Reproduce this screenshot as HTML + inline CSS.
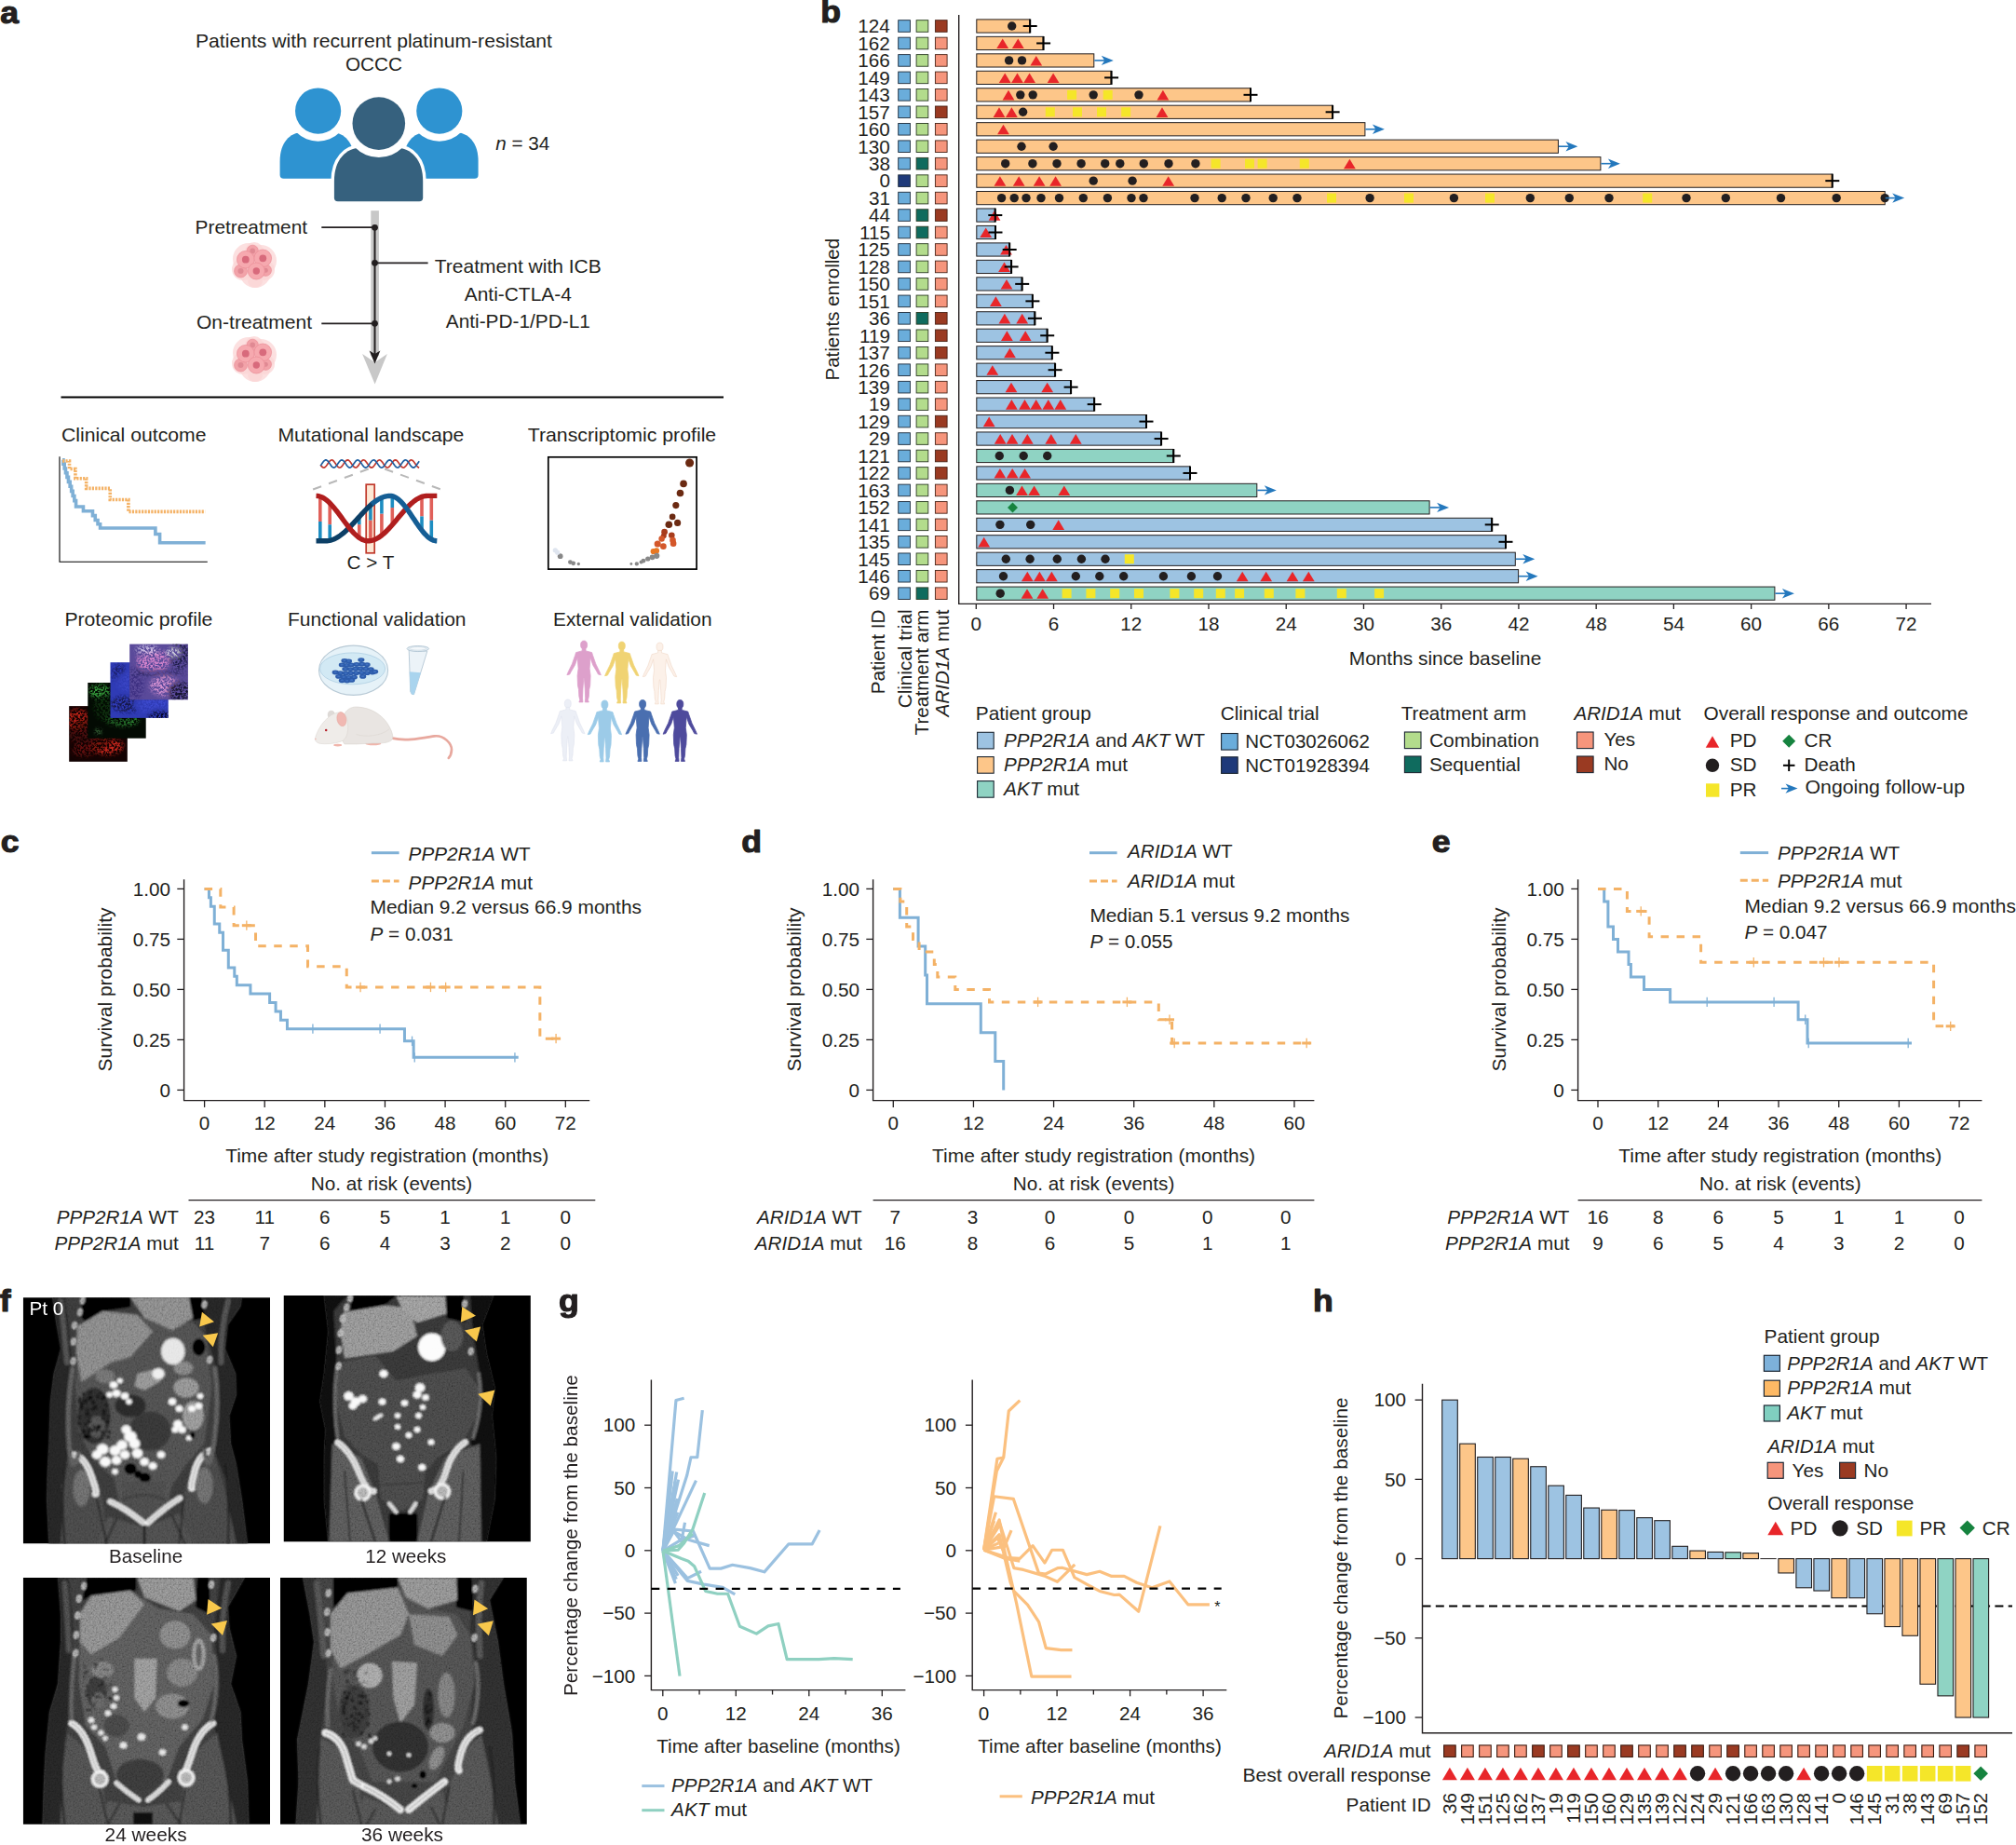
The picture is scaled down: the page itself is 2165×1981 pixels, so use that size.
<!DOCTYPE html>
<html lang="en"><head><meta charset="utf-8"><title>Figure 1</title><style>html,body{margin:0;padding:0;background:#fff}svg{display:block}</style></head><body>
<svg width="2165" height="1981" viewBox="0 0 2165 1981" font-family="'Liberation Sans', Arial, Helvetica, sans-serif" font-size="20.7" fill="#231f20">
<defs><filter id="blur2" x="-20%" y="-20%" width="140%" height="140%"><feGaussianBlur stdDeviation="2.2"/></filter><filter id="speck" x="-20%" y="-20%" width="140%" height="140%"><feGaussianBlur stdDeviation="2" result="b"/><feTurbulence type="fractalNoise" baseFrequency="0.45" numOctaves="2" seed="7" result="n"/><feColorMatrix in="n" type="matrix" values="0 0 0 0 1  0 0 0 0 1  0 0 0 0 1  4.5 0 0 0 -1.75" result="m"/><feComposite in="b" in2="m" operator="in"/></filter><filter id="blur1" x="-10%" y="-10%" width="120%" height="120%"><feGaussianBlur stdDeviation="1.1"/></filter><filter id="blur05"><feGaussianBlur stdDeviation="0.6"/></filter></defs>
<rect x="0" y="0" width="2165" height="1981" fill="#fff"/>
<g id="panel-a">
<text x="0.2" y="24.8" font-size="33" font-weight="bold" textLength="19.82" lengthAdjust="spacingAndGlyphs" stroke="#231f20" stroke-width="1.1" stroke-linejoin="round">a</text>
<text x="401.5" y="51" text-anchor="middle" textLength="383" lengthAdjust="spacingAndGlyphs">Patients with recurrent platinum-resistant</text>
<text x="401.5" y="75.5" text-anchor="middle">OCCC</text>
<path d="M304.6 191.8 L376.4 191.8 Q380.4 191.8 380.4 187.8 L380.4 172.95 C380.4 152.96 369.63 142.2 356.46 142.2 L324.54 142.2 C311.37 142.2 300.6 152.96 300.6 172.95 L300.6 187.8 Q300.6 191.8 304.6 191.8 Z" fill="#2e93d1"/>
<circle cx="341.6" cy="119.1" r="32.6" fill="#fff"/>
<circle cx="341.6" cy="119.1" r="24.6" fill="#2e93d1"/>
<path d="M437.5 191.8 L509.6 191.8 Q513.6 191.8 513.6 187.8 L513.6 172.95 C513.6 152.96 502.79 142.2 489.57 142.2 L457.53 142.2 C444.31 142.2 433.5 152.96 433.5 172.95 L433.5 187.8 Q433.5 191.8 437.5 191.8 Z" fill="#2e93d1"/>
<circle cx="471.8" cy="119.1" r="32.6" fill="#fff"/>
<circle cx="471.8" cy="119.1" r="24.6" fill="#2e93d1"/>
<path d="M362.9 216.3 L450.2 216.3 Q454.2 216.3 454.2 212.3 L454.2 194.45 C454.2 171.28 441.33 158.8 425.61 158.8 L387.49 158.8 C371.77 158.8 358.9 171.28 358.9 194.45 L358.9 212.3 Q358.9 216.3 362.9 216.3 Z" fill="#fff" stroke="#fff" stroke-width="7" stroke-linejoin="round"/>
<path d="M362.9 216.3 L450.2 216.3 Q454.2 216.3 454.2 212.3 L454.2 194.45 C454.2 171.28 441.33 158.8 425.61 158.8 L387.49 158.8 C371.77 158.8 358.9 171.28 358.9 194.45 L358.9 212.3 Q358.9 216.3 362.9 216.3 Z" fill="#36617e"/>
<circle cx="406.8" cy="132.6" r="36.3" fill="#fff"/>
<circle cx="406.8" cy="132.6" r="28.3" fill="#36617e"/>
<text x="532.2" y="160.6"><tspan font-style="italic">n</tspan> = 34</text>
<rect x="398.3" y="226.2" width="8.6" height="156" fill="#c8c8c8"/>
<path d="M389.1 380 L402.6 389 L415.9 380 L402.6 412.5 Z" fill="#c8c8c8"/>
<line x1="402.5" y1="244" x2="402.5" y2="380" stroke="#231f20" stroke-width="2"/>
<path d="M396.6 376.6 L402.5 380 L408.4 376.6 L402.5 390.5 Z" fill="#231f20"/>
<circle cx="402.5" cy="244.3" r="3.4" fill="#231f20"/>
<circle cx="402.5" cy="282.3" r="3.4" fill="#231f20"/>
<circle cx="402.5" cy="347.3" r="3.4" fill="#231f20"/>
<line x1="345.3" y1="244.1" x2="402.5" y2="244.1" stroke="#231f20" stroke-width="1.8"/>
<line x1="402.5" y1="282.3" x2="459.6" y2="282.3" stroke="#231f20" stroke-width="1.8"/>
<line x1="345.3" y1="347.3" x2="402.5" y2="347.3" stroke="#231f20" stroke-width="1.8"/>
<text x="209.6" y="250.8" textLength="120.5" lengthAdjust="spacingAndGlyphs">Pretreatment</text>
<text x="211" y="352.6" textLength="124" lengthAdjust="spacingAndGlyphs">On-treatment</text>
<text x="556.3" y="293" text-anchor="middle" textLength="179" lengthAdjust="spacingAndGlyphs">Treatment with ICB</text>
<text x="556.3" y="323.3" text-anchor="middle" textLength="115" lengthAdjust="spacingAndGlyphs">Anti-CTLA-4</text>
<text x="556.3" y="352" text-anchor="middle" textLength="155" lengthAdjust="spacingAndGlyphs">Anti-PD-1/PD-L1</text>
<g transform="translate(273 284)">
<circle cx="-6" cy="-6" r="17" fill="#fbd5d6" opacity="0.75"/>
<circle cx="7" cy="-4" r="17" fill="#fbd5d6" opacity="0.75"/>
<circle cx="1" cy="8" r="17" fill="#fbd5d6" opacity="0.75"/>
<circle cx="-12" cy="5" r="12" fill="#fbd5d6" opacity="0.75"/>
<circle cx="11" cy="6" r="11" fill="#fbd5d6" opacity="0.75"/>
<circle cx="0" cy="-14" r="10" fill="#fbd5d6" opacity="0.75"/>
<circle cx="1" cy="17" r="8" fill="#fbd5d6" opacity="0.75"/>
<circle cx="-14.5" cy="7" r="7" fill="#f2a3a9" stroke="#ea8c96" stroke-width="0.6"/>
<circle cx="-14.5" cy="7" r="3" fill="#e08993"/>
<circle cx="12.3" cy="6.2" r="6.2" fill="#f2a3a9" stroke="#ea8c96" stroke-width="0.6"/>
<circle cx="12.3" cy="6.2" r="2.5" fill="#e08993"/>
<circle cx="-1.8" cy="-14.6" r="6.2" fill="#f2a3a9" stroke="#ea8c96" stroke-width="0.6"/>
<circle cx="-1.8" cy="-14.6" r="2.8" fill="#e08993"/>
<circle cx="-9.2" cy="-5.3" r="9.3" fill="#f6a9af" stroke="#ea8c96" stroke-width="0.7"/>
<circle cx="-9.2" cy="-5.3" r="3.9" fill="#d86a7c"/>
<circle cx="9.3" cy="-6.7" r="9.3" fill="#f6a9af" stroke="#ea8c96" stroke-width="0.7"/>
<circle cx="9.3" cy="-6.7" r="3.9" fill="#d86a7c"/>
<circle cx="2.3" cy="7" r="9" fill="#f6a9af" stroke="#ea8c96" stroke-width="0.7"/>
<circle cx="2.3" cy="7" r="3.7" fill="#d86a7c"/>
</g>
<g transform="translate(273 385)">
<circle cx="-6" cy="-6" r="17" fill="#fbd5d6" opacity="0.75"/>
<circle cx="7" cy="-4" r="17" fill="#fbd5d6" opacity="0.75"/>
<circle cx="1" cy="8" r="17" fill="#fbd5d6" opacity="0.75"/>
<circle cx="-12" cy="5" r="12" fill="#fbd5d6" opacity="0.75"/>
<circle cx="11" cy="6" r="11" fill="#fbd5d6" opacity="0.75"/>
<circle cx="0" cy="-14" r="10" fill="#fbd5d6" opacity="0.75"/>
<circle cx="1" cy="17" r="8" fill="#fbd5d6" opacity="0.75"/>
<circle cx="-14.5" cy="7" r="7" fill="#f2a3a9" stroke="#ea8c96" stroke-width="0.6"/>
<circle cx="-14.5" cy="7" r="3" fill="#e08993"/>
<circle cx="12.3" cy="6.2" r="6.2" fill="#f2a3a9" stroke="#ea8c96" stroke-width="0.6"/>
<circle cx="12.3" cy="6.2" r="2.5" fill="#e08993"/>
<circle cx="-1.8" cy="-14.6" r="6.2" fill="#f2a3a9" stroke="#ea8c96" stroke-width="0.6"/>
<circle cx="-1.8" cy="-14.6" r="2.8" fill="#e08993"/>
<circle cx="-9.2" cy="-5.3" r="9.3" fill="#f6a9af" stroke="#ea8c96" stroke-width="0.7"/>
<circle cx="-9.2" cy="-5.3" r="3.9" fill="#d86a7c"/>
<circle cx="9.3" cy="-6.7" r="9.3" fill="#f6a9af" stroke="#ea8c96" stroke-width="0.7"/>
<circle cx="9.3" cy="-6.7" r="3.9" fill="#d86a7c"/>
<circle cx="2.3" cy="7" r="9" fill="#f6a9af" stroke="#ea8c96" stroke-width="0.7"/>
<circle cx="2.3" cy="7" r="3.7" fill="#d86a7c"/>
</g>
<line x1="65.5" y1="426.5" x2="777" y2="426.5" stroke="#000" stroke-width="2.2"/>
<text x="66" y="473.6" textLength="155.5" lengthAdjust="spacingAndGlyphs">Clinical outcome</text>
<text x="298.4" y="473.6" textLength="200" lengthAdjust="spacingAndGlyphs">Mutational landscape</text>
<text x="566.7" y="473.6" textLength="202.5" lengthAdjust="spacingAndGlyphs">Transcriptomic profile</text>
<text x="69.4" y="672" textLength="159" lengthAdjust="spacingAndGlyphs">Proteomic profile</text>
<text x="309" y="672" textLength="191.5" lengthAdjust="spacingAndGlyphs">Functional validation</text>
<text x="594" y="672" textLength="170.5" lengthAdjust="spacingAndGlyphs">External validation</text>
<path d="M64 490.2 L64 603.3 L222.8 603.3" fill="none" stroke="#000" stroke-width="1.1"/>
<path d="M67.06 493.87 L67.92 493.87 L67.92 498.13 L69.2 498.13 L69.2 503.04 L70.48 503.04 L70.48 507.73 L71.97 507.73 L71.97 512.42 L73.46 512.42 L73.46 517.33 L75.17 517.33 L75.17 522.24 L76.66 522.24 L76.66 527.35 L78.16 527.35 L78.16 532.47 L79.86 532.47 L79.86 537.59 L81.57 537.59 L81.57 543.99 L89.46 543.99 L89.46 548.69 L99.49 548.69 L99.49 553.59 L102.26 553.59 L102.26 558.5 L105.03 558.5 L105.03 562.76 L107.59 562.76 L107.59 567.03 L166.89 567.03 L166.89 573.43 L171.59 573.43 L171.59 582.82 L220.65 582.82" fill="none" stroke="#7fb0d6" stroke-width="3.6" stroke-linejoin="miter"/>
<path d="M67.06 494.93 L74.53 494.93 L74.53 503.46 L80.93 503.46 L80.93 513.7 L92.66 513.7 L92.66 524.37 L118.26 524.37 L118.26 536.53 L137.88 536.53 L137.88 549.33 L220.22 549.33" fill="none" stroke="#f4b266" stroke-width="3.6" stroke-dasharray="2.2 1.2"/>
<path d="M344.2 499.21 L345.08 500.4 L345.97 501.33 L346.85 501.92 L347.73 502.1 L348.62 501.85 L349.5 501.2 L350.38 500.21 L351.27 498.99 L352.15 497.67 L353.03 496.39 L353.92 495.27 L354.8 494.44 L355.68 493.98 L356.57 493.94 L357.45 494.32 L358.33 495.09 L359.22 496.16 L360.1 497.43 L360.98 498.75 L361.87 500 L362.75 501.04 L363.63 501.76 L364.52 502.08 L365.4 501.99 L366.28 501.47 L367.17 500.59 L368.05 499.44 L368.93 498.14 L369.82 496.83 L370.7 495.64 L371.58 494.69 L372.47 494.09 L373.35 493.9 L374.23 494.14 L375.12 494.78 L376 495.75 L376.88 496.97 L377.77 498.29 L378.65 499.57 L379.53 500.7 L380.42 501.54 L381.3 502.02 L382.18 502.07 L383.07 501.7 L383.95 500.94 L384.83 499.87 L385.72 498.61 L386.6 497.29 L387.48 496.04 L388.37 494.99 L389.25 494.26 L390.13 493.92 L391.02 494 L391.9 494.51 L392.78 495.37 L393.67 496.52 L394.55 497.81 L395.43 499.13 L396.32 500.33 L397.2 501.28 L398.08 501.89 L398.97 502.1 L399.85 501.88 L400.73 501.25 L401.62 500.28 L402.5 499.08 L403.38 497.76 L404.27 496.46 L405.15 495.33 L406.03 494.48 L406.92 493.99 L407.8 493.93 L408.68 494.28 L409.57 495.03 L410.45 496.09 L411.33 497.34 L412.22 498.67 L413.1 499.92 L413.98 500.98 L414.87 501.72 L415.75 502.08 L416.63 502 L417.52 501.51 L418.4 500.66 L419.28 499.52 L420.17 498.23 L421.05 496.91 L421.93 495.71 L422.82 494.74 L423.7 494.12 L424.58 493.9 L425.47 494.11 L426.35 494.73 L427.23 495.68 L428.12 496.88 L429 498.2 L429.88 499.5 L430.77 500.63 L431.65 501.5 L432.53 502 L433.42 502.08 L434.3 501.73 L435.18 501 L436.07 499.95 L436.95 498.7 L437.83 497.37 L438.72 496.11 L439.6 495.05 L440.48 494.3 L441.37 493.93 L442.25 493.99 L443.13 494.46 L444.02 495.31 L444.9 496.44 L445.78 497.73 L446.67 499.05 L447.55 500.26 L448.43 501.23 L449.32 501.87 L450.2 502.1" fill="none" stroke="#c23a30" stroke-width="1.7"/>
<path d="M344.2 500.11 L345.08 498.88 L345.97 497.56 L346.85 496.28 L347.73 495.18 L348.62 494.38 L349.5 493.96 L350.38 493.95 L351.27 494.37 L352.15 495.17 L353.03 496.27 L353.92 497.54 L354.8 498.86 L355.68 500.1 L356.57 501.11 L357.45 501.8 L358.33 502.09 L359.22 501.96 L360.1 501.41 L360.98 500.5 L361.87 499.34 L362.75 498.03 L363.63 496.72 L364.52 495.55 L365.4 494.63 L366.28 494.06 L367.17 493.9 L368.05 494.18 L368.93 494.85 L369.82 495.85 L370.7 497.08 L371.58 498.4 L372.47 499.68 L373.35 500.78 L374.23 501.6 L375.12 502.04 L376 502.05 L376.88 501.65 L377.77 500.86 L378.65 499.77 L379.53 498.5 L380.42 497.18 L381.3 495.94 L382.18 494.92 L383.07 494.22 L383.95 493.91 L384.83 494.03 L385.72 494.57 L386.6 495.46 L387.48 496.62 L388.37 497.93 L389.25 499.24 L390.13 500.42 L391.02 501.35 L391.9 501.93 L392.78 502.1 L393.67 501.84 L394.55 501.18 L395.43 500.19 L396.32 498.97 L397.2 497.64 L398.08 496.36 L398.97 495.25 L399.85 494.42 L400.73 493.97 L401.62 493.94 L402.5 494.33 L403.38 495.11 L404.27 496.19 L405.15 497.46 L406.03 498.78 L406.92 500.02 L407.8 501.05 L408.68 501.77 L409.57 502.09 L410.45 501.98 L411.33 501.46 L412.22 500.57 L413.1 499.42 L413.98 498.12 L414.87 496.8 L415.75 495.62 L416.63 494.68 L417.52 494.08 L418.4 493.9 L419.28 494.15 L420.17 494.79 L421.05 495.78 L421.93 496.99 L422.82 498.31 L423.7 499.6 L424.58 500.72 L425.47 501.56 L426.35 502.02 L427.23 502.07 L428.12 501.69 L429 500.92 L429.88 499.85 L430.77 498.59 L431.65 497.26 L432.53 496.01 L433.42 494.97 L434.3 494.25 L435.18 493.92 L436.07 494.01 L436.95 494.52 L437.83 495.4 L438.72 496.54 L439.6 497.84 L440.48 499.16 L441.37 500.35 L442.25 501.3 L443.13 501.9 L444.02 502.1 L444.9 501.87 L445.78 501.23 L446.67 500.26 L447.55 499.05 L448.43 497.73 L449.32 496.44 L450.2 495.31" fill="none" stroke="#1f5fa0" stroke-width="1.7"/>
<line x1="395.7" y1="503.5" x2="332.4" y2="526.9" stroke="#b8b8b8" stroke-width="2" stroke-dasharray="9.5 8.5"/>
<line x1="413.1" y1="503.5" x2="477.5" y2="526.9" stroke="#b8b8b8" stroke-width="2" stroke-dasharray="9.5 8.5"/>
<rect x="393.2" y="520.2" width="9" height="73.6" fill="#fde8d5" stroke="#c0392b" stroke-width="1.7"/>
<line x1="343.8" y1="533.11" x2="343.8" y2="559.95" stroke="#e0605a" stroke-width="3.6"/>
<line x1="343.8" y1="559.95" x2="343.8" y2="580.8" stroke="#1d8dc1" stroke-width="3.6"/>
<line x1="354.2" y1="540.22" x2="354.2" y2="563.28" stroke="#e0605a" stroke-width="3.6"/>
<line x1="354.2" y1="563.28" x2="354.2" y2="580.33" stroke="#1d8dc1" stroke-width="3.6"/>
<line x1="385.8" y1="577.41" x2="385.8" y2="563.17" stroke="#e0605a" stroke-width="3.6"/>
<line x1="385.8" y1="563.17" x2="385.8" y2="554.92" stroke="#1d8dc1" stroke-width="3.6"/>
<line x1="397.9" y1="580.6" x2="397.9" y2="558.55" stroke="#e0605a" stroke-width="3.6"/>
<line x1="397.9" y1="558.55" x2="397.9" y2="542.5" stroke="#1d8dc1" stroke-width="3.6"/>
<line x1="409.9" y1="574.79" x2="409.9" y2="551.55" stroke="#e0605a" stroke-width="3.6"/>
<line x1="409.9" y1="551.55" x2="409.9" y2="534.32" stroke="#1d8dc1" stroke-width="3.6"/>
<line x1="421.3" y1="563.46" x2="421.3" y2="545.09" stroke="#e0605a" stroke-width="3.6"/>
<line x1="421.3" y1="545.09" x2="421.3" y2="532.72" stroke="#1d8dc1" stroke-width="3.6"/>
<line x1="453" y1="533.43" x2="453" y2="554.43" stroke="#e0605a" stroke-width="3.6"/>
<line x1="453" y1="554.43" x2="453" y2="569.44" stroke="#1d8dc1" stroke-width="3.6"/>
<line x1="463.3" y1="532.4" x2="463.3" y2="558.77" stroke="#e0605a" stroke-width="3.6"/>
<line x1="463.3" y1="558.77" x2="463.3" y2="579.14" stroke="#1d8dc1" stroke-width="3.6"/>
<path d="M339.5 580.8 L340.8 580.8 L342.1 580.8 L343.39 580.8 L344.69 580.8 L345.99 580.8 L347.29 580.8 L348.59 580.8 L349.88 580.8 L351.18 580.76 L352.48 580.63 L353.78 580.42 L355.08 580.12 L356.37 579.74 L357.67 579.29 L358.97 578.75 L360.27 578.13 L361.57 577.44 L362.86 576.67 L364.16 575.84 L365.46 574.93 L366.76 573.96 L368.06 572.93 L369.35 571.85 L370.65 570.71 L371.95 569.52 L373.25 568.28 L374.55 567.01 L375.84 565.7 L377.14 564.35 L378.44 562.98 L379.74 561.58 L381.04 560.17 L382.33 558.75 L383.63 557.32 L384.93 555.88 L386.23 554.45 L387.53 553.03 L388.82 551.62 L390.12 550.22 L391.42 548.85 L392.72 547.5 L394.02 546.19 L395.31 544.92 L396.61 543.68 L397.91 542.49 L399.21 541.35 L400.51 540.27" fill="none" stroke="#0c3f66" stroke-width="5.4"/>
<path d="M339.5 532.4 L340.8 532.46 L342.1 532.66 L343.39 532.98 L344.69 533.43 L345.99 534 L347.29 534.69 L348.59 535.5 L349.88 536.42 L351.18 537.45 L352.48 538.58 L353.78 539.8 L355.08 541.12 L356.37 542.52 L357.67 543.99 L358.97 545.53 L360.27 547.14 L361.57 548.79 L362.86 550.48 L364.16 552.2 L365.46 553.95 L366.76 555.72 L368.06 557.48 L369.35 559.25 L370.65 561 L371.95 562.72 L373.25 564.41 L374.55 566.06 L375.84 567.67 L377.14 569.21 L378.44 570.68 L379.74 572.08 L381.04 573.4 L382.33 574.62 L383.63 575.75 L384.93 576.78 L386.23 577.7 L387.53 578.51 L388.82 579.2 L390.12 579.77 L391.42 580.22 L392.72 580.54 L394.02 580.74 L395.31 580.8 L396.61 580.75 L397.91 580.6 L399.21 580.35 L400.51 580.01 L401.8 579.57 L403.1 579.03 L404.4 578.4 L405.7 577.69 L407 576.88 L408.29 575.99 L409.59 575.03 L410.89 573.98 L412.19 572.87 L413.49 571.69 L414.78 570.45 L416.08 569.15 L417.38 567.79 L418.68 566.4 L419.98 564.96 L421.27 563.49 L422.57 561.99 L423.87 560.46 L425.17 558.92 L426.47 557.38 L427.76 555.82 L429.06 554.28 L430.36 552.74 L431.66 551.21 L432.96 549.71 L434.25 548.24 L435.55 546.8 L436.85 545.41 L438.15 544.05 L439.45 542.75 L440.74 541.51 L442.04 540.33 L443.34 539.22 L444.64 538.17 L445.94 537.21 L447.23 536.32 L448.53 535.51 L449.83 534.8 L451.13 534.17 L452.43 533.63 L453.72 533.19 L455.02 532.85 L456.32 532.6 L457.62 532.45 L458.92 532.4 L460.21 532.4 L461.51 532.4 L462.81 532.4 L464.11 532.4 L465.41 532.4 L466.7 532.4 L468 532.4 L469.3 532.4" fill="none" stroke="#b01e1e" stroke-width="5.4"/>
<path d="M399.21 541.35 L400.51 540.27 L401.8 539.24 L403.1 538.27 L404.4 537.36 L405.7 536.53 L407 535.76 L408.29 535.07 L409.59 534.45 L410.89 533.91 L412.19 533.46 L413.49 533.08 L414.78 532.78 L416.08 532.57 L417.38 532.44 L418.68 532.4 L419.98 532.48 L421.27 532.71 L422.57 533.1 L423.87 533.65 L425.17 534.34 L426.47 535.17 L427.76 536.15 L429.06 537.25 L430.36 538.49 L431.66 539.84 L432.96 541.29 L434.25 542.85 L435.55 544.5 L436.85 546.23 L438.15 548.02 L439.45 549.87 L440.74 551.76 L442.04 553.68 L443.34 555.63 L444.64 557.57 L445.94 559.52 L447.23 561.44 L448.53 563.33 L449.83 565.18 L451.13 566.97 L452.43 568.7 L453.72 570.35 L455.02 571.91 L456.32 573.36 L457.62 574.71 L458.92 575.95 L460.21 577.05 L461.51 578.03 L462.81 578.86 L464.11 579.55 L465.41 580.1 L466.7 580.49 L468 580.72 L469.3 580.8" fill="none" stroke="#155e95" stroke-width="5.4"/>
<text x="398" y="611.2" text-anchor="middle">C &gt; T</text>
<rect x="588.8" y="490.8" width="159.3" height="120.3" fill="none" stroke="#000" stroke-width="1.7"/>
<circle cx="740.6" cy="497.02" r="4.52" fill="#6b2a12"/>
<circle cx="734.05" cy="519.4" r="3.81" fill="#6b2a12"/>
<circle cx="730.48" cy="529.52" r="3.81" fill="#6b2a12"/>
<circle cx="725.83" cy="542.62" r="3.57" fill="#6b2a12"/>
<circle cx="722.14" cy="554.88" r="3.33" fill="#6b2a12"/>
<circle cx="727.62" cy="561.43" r="3.57" fill="#6b2a12"/>
<circle cx="718.33" cy="563.21" r="3.81" fill="#6b2a12"/>
<circle cx="713.57" cy="571.19" r="3.33" fill="#a83c1c"/>
<circle cx="712.74" cy="575.36" r="2.98" fill="#a83c1c"/>
<circle cx="721.31" cy="574.76" r="3.33" fill="#a83c1c"/>
<circle cx="710.6" cy="578.57" r="3.21" fill="#d4572a"/>
<circle cx="706.19" cy="584.05" r="3.57" fill="#d4572a"/>
<circle cx="712.38" cy="586.67" r="3.33" fill="#d4572a"/>
<circle cx="722.5" cy="580.12" r="3.33" fill="#d4572a"/>
<circle cx="723.1" cy="583.69" r="3.33" fill="#d4572a"/>
<circle cx="701.67" cy="592.02" r="3.1" fill="#e87722"/>
<circle cx="705" cy="591.43" r="3.1" fill="#e87722"/>
<circle cx="705.24" cy="596.79" r="3.1" fill="#888"/>
<circle cx="700.48" cy="598.33" r="2.86" fill="#888"/>
<circle cx="695.71" cy="600" r="2.62" fill="#888"/>
<circle cx="690.95" cy="602.14" r="2.38" fill="#888"/>
<circle cx="688.57" cy="603.57" r="2.02" fill="#888"/>
<circle cx="683.81" cy="605.48" r="2.14" fill="#888"/>
<circle cx="677.86" cy="605.48" r="1.43" fill="#888"/>
<circle cx="601.67" cy="597.14" r="2.86" fill="#888"/>
<circle cx="612.38" cy="603.57" r="2.38" fill="#888"/>
<circle cx="615.71" cy="604.76" r="2.38" fill="#888"/>
<circle cx="621.31" cy="605.48" r="1.67" fill="#888"/>
<circle cx="596.31" cy="590.83" r="2.62" fill="#dfe5ef"/>
<circle cx="598.69" cy="593.21" r="2.62" fill="#dfe5ef"/>
<g><clipPath id="c742"><rect x="74.2" y="758.1" width="62.6" height="59.7"/></clipPath>
<rect x="74.2" y="758.1" width="62.6" height="59.7" fill="#120202"/>
<g clip-path="url(#c742)" filter="url(#speck)">
<ellipse cx="83.59" cy="773.02" rx="12.52" ry="11.94" fill="#c8221b" opacity="0.9"/>
<ellipse cx="114.89" cy="801.08" rx="17.53" ry="9.55" fill="#d0261e" opacity="0.95"/>
<ellipse cx="99.24" cy="787.95" rx="25.04" ry="17.91" fill="#5a0e0a" opacity="0.7"/>
<ellipse cx="89.85" cy="805.86" rx="12.52" ry="7.16" fill="#7a1410" opacity="0.7"/>
</g></g>
<g><clipPath id="c943"><rect x="94.3" y="733" width="62.4" height="59.7"/></clipPath>
<rect x="94.3" y="733" width="62.4" height="59.7" fill="#030a03"/>
<g clip-path="url(#c943)" filter="url(#speck)">
<ellipse cx="106.78" cy="741.96" rx="11.23" ry="7.76" fill="#3cb043" opacity="0.9"/>
<ellipse cx="131.74" cy="773.6" rx="17.47" ry="5.97" fill="#3cb043" opacity="0.9"/>
<ellipse cx="125.5" cy="759.87" rx="24.96" ry="17.91" fill="#0f3a14" opacity="0.7"/>
<ellipse cx="105.53" cy="785.54" rx="2.5" ry="2.39" fill="#7be07f" opacity="1"/>
</g></g>
<g><clipPath id="c1185"><rect x="118.5" y="711.2" width="62.2" height="59.7"/></clipPath>
<rect x="118.5" y="711.2" width="62.2" height="59.7" fill="#2f3bb5"/>
<g clip-path="url(#c1185)" filter="url(#speck)">
<ellipse cx="137.16" cy="755.98" rx="18.66" ry="8.96" fill="#0a0d33" opacity="0.8"/>
<ellipse cx="127.83" cy="723.14" rx="7.46" ry="10.75" fill="#10144a" opacity="0.7"/>
<ellipse cx="162.04" cy="755.98" rx="18.66" ry="8.96" fill="#3d4bd0" opacity="0.9"/>
<ellipse cx="143.38" cy="732.1" rx="18.66" ry="11.94" fill="#3a46c8" opacity="0.9"/>
<ellipse cx="171.37" cy="767.92" rx="12.44" ry="5.97" fill="#05061a" opacity="0.9"/>
</g></g>
<g><clipPath id="c1392"><rect x="139.2" y="691.6" width="62.7" height="59.7"/></clipPath>
<rect x="139.2" y="691.6" width="62.7" height="59.7" fill="#5a4a9a"/>
<g clip-path="url(#c1392)" filter="url(#speck)">
<ellipse cx="164.28" cy="709.51" rx="17.56" ry="11.94" fill="#e08ad0" opacity="0.9"/>
<ellipse cx="176.82" cy="736.38" rx="15.68" ry="10.75" fill="#e39ad8" opacity="0.9"/>
<ellipse cx="192.5" cy="703.54" rx="11.29" ry="14.93" fill="#1a1740" opacity="0.9"/>
<ellipse cx="145.47" cy="733.39" rx="9.4" ry="17.91" fill="#3a2f80" opacity="0.9"/>
<ellipse cx="186.22" cy="700.56" rx="7.52" ry="4.78" fill="#e8e8f4" opacity="0.9"/>
<ellipse cx="158.01" cy="697.57" rx="12.54" ry="4.78" fill="#d8d0ee" opacity="0.8"/>
<ellipse cx="192.5" cy="742.35" rx="12.54" ry="10.75" fill="#0b0a24" opacity="0.9"/>
<ellipse cx="170.55" cy="722.64" rx="31.35" ry="3.58" fill="#2a2460" opacity="0.8"/>
</g></g>
<g transform="translate(320 680) scale(0.0892857)">
<ellipse cx="667" cy="445" rx="415" ry="298" fill="#e6f2f8" stroke="#b7c9d5" stroke-width="12"/>
<ellipse cx="656" cy="424" rx="392" ry="190" fill="#d2e9f4" stroke="#a9cbe0" stroke-width="8"/>
<ellipse cx="560" cy="330" rx="40" ry="27" fill="#2d5cab"/>
<ellipse cx="560" cy="327" rx="18" ry="10" fill="#3f71c0"/>
<ellipse cx="610" cy="335" rx="40" ry="27" fill="#2d5cab"/>
<ellipse cx="610" cy="332" rx="18" ry="10" fill="#3f71c0"/>
<ellipse cx="760" cy="320" rx="40" ry="27" fill="#2d5cab"/>
<ellipse cx="760" cy="317" rx="18" ry="10" fill="#3f71c0"/>
<ellipse cx="530" cy="380" rx="40" ry="27" fill="#2d5cab"/>
<ellipse cx="530" cy="377" rx="18" ry="10" fill="#3f71c0"/>
<ellipse cx="585" cy="385" rx="40" ry="27" fill="#2d5cab"/>
<ellipse cx="585" cy="382" rx="18" ry="10" fill="#3f71c0"/>
<ellipse cx="640" cy="380" rx="40" ry="27" fill="#2d5cab"/>
<ellipse cx="640" cy="377" rx="18" ry="10" fill="#3f71c0"/>
<ellipse cx="705" cy="375" rx="40" ry="27" fill="#2d5cab"/>
<ellipse cx="705" cy="372" rx="18" ry="10" fill="#3f71c0"/>
<ellipse cx="770" cy="372" rx="40" ry="27" fill="#2d5cab"/>
<ellipse cx="770" cy="369" rx="18" ry="10" fill="#3f71c0"/>
<ellipse cx="830" cy="378" rx="40" ry="27" fill="#2d5cab"/>
<ellipse cx="830" cy="375" rx="18" ry="10" fill="#3f71c0"/>
<ellipse cx="570" cy="430" rx="40" ry="27" fill="#2d5cab"/>
<ellipse cx="570" cy="427" rx="18" ry="10" fill="#3f71c0"/>
<ellipse cx="630" cy="432" rx="40" ry="27" fill="#2d5cab"/>
<ellipse cx="630" cy="429" rx="18" ry="10" fill="#3f71c0"/>
<ellipse cx="690" cy="428" rx="40" ry="27" fill="#2d5cab"/>
<ellipse cx="690" cy="425" rx="18" ry="10" fill="#3f71c0"/>
<ellipse cx="750" cy="425" rx="40" ry="27" fill="#2d5cab"/>
<ellipse cx="750" cy="422" rx="18" ry="10" fill="#3f71c0"/>
<ellipse cx="815" cy="428" rx="40" ry="27" fill="#2d5cab"/>
<ellipse cx="815" cy="425" rx="18" ry="10" fill="#3f71c0"/>
<ellipse cx="875" cy="432" rx="40" ry="27" fill="#2d5cab"/>
<ellipse cx="875" cy="429" rx="18" ry="10" fill="#3f71c0"/>
<ellipse cx="450" cy="470" rx="40" ry="27" fill="#2d5cab"/>
<ellipse cx="450" cy="467" rx="18" ry="10" fill="#3f71c0"/>
<ellipse cx="510" cy="478" rx="40" ry="27" fill="#2d5cab"/>
<ellipse cx="510" cy="475" rx="18" ry="10" fill="#3f71c0"/>
<ellipse cx="575" cy="482" rx="40" ry="27" fill="#2d5cab"/>
<ellipse cx="575" cy="479" rx="18" ry="10" fill="#3f71c0"/>
<ellipse cx="635" cy="480" rx="40" ry="27" fill="#2d5cab"/>
<ellipse cx="635" cy="477" rx="18" ry="10" fill="#3f71c0"/>
<ellipse cx="700" cy="478" rx="40" ry="27" fill="#2d5cab"/>
<ellipse cx="700" cy="475" rx="18" ry="10" fill="#3f71c0"/>
<ellipse cx="765" cy="476" rx="40" ry="27" fill="#2d5cab"/>
<ellipse cx="765" cy="473" rx="18" ry="10" fill="#3f71c0"/>
<ellipse cx="830" cy="478" rx="40" ry="27" fill="#2d5cab"/>
<ellipse cx="830" cy="475" rx="18" ry="10" fill="#3f71c0"/>
<ellipse cx="895" cy="470" rx="40" ry="27" fill="#2d5cab"/>
<ellipse cx="895" cy="467" rx="18" ry="10" fill="#3f71c0"/>
<ellipse cx="925" cy="462" rx="40" ry="27" fill="#2d5cab"/>
<ellipse cx="925" cy="459" rx="18" ry="10" fill="#3f71c0"/>
<ellipse cx="490" cy="520" rx="40" ry="27" fill="#2d5cab"/>
<ellipse cx="490" cy="517" rx="18" ry="10" fill="#3f71c0"/>
<ellipse cx="550" cy="528" rx="40" ry="27" fill="#2d5cab"/>
<ellipse cx="550" cy="525" rx="18" ry="10" fill="#3f71c0"/>
<ellipse cx="610" cy="530" rx="40" ry="27" fill="#2d5cab"/>
<ellipse cx="610" cy="527" rx="18" ry="10" fill="#3f71c0"/>
<ellipse cx="675" cy="528" rx="40" ry="27" fill="#2d5cab"/>
<ellipse cx="675" cy="525" rx="18" ry="10" fill="#3f71c0"/>
<ellipse cx="780" cy="520" rx="40" ry="27" fill="#2d5cab"/>
<ellipse cx="780" cy="517" rx="18" ry="10" fill="#3f71c0"/>
<ellipse cx="530" cy="568" rx="40" ry="27" fill="#2d5cab"/>
<ellipse cx="530" cy="565" rx="18" ry="10" fill="#3f71c0"/>
<ellipse cx="590" cy="572" rx="40" ry="27" fill="#2d5cab"/>
<ellipse cx="590" cy="569" rx="18" ry="10" fill="#3f71c0"/>
<ellipse cx="645" cy="565" rx="40" ry="27" fill="#2d5cab"/>
<ellipse cx="645" cy="562" rx="18" ry="10" fill="#3f71c0"/>
<path d="M1335 205 L1352 700 Q1368 750 1395 735 L1555 215 Z" fill="#ecf3f8" stroke="#adc1cf" stroke-width="9"/>
<path d="M1341 462 L1352 700 Q1368 750 1395 735 L1478 472 Z" fill="#a9d4ee"/>
<ellipse cx="1443" cy="185" rx="132" ry="34" fill="#e3edf4" stroke="#adc1cf" stroke-width="9"/>
<ellipse cx="1443" cy="183" rx="100" ry="20" fill="#f4f8fb" stroke="#bccbd7" stroke-width="5"/>
<path d="M1135 1262 C1300 1300 1480 1262 1640 1236 C1760 1222 1850 1330 1848 1400 C1846 1450 1830 1480 1812 1500" fill="none" stroke="#e8a89e" stroke-width="30" stroke-linecap="round"/>
<ellipse cx="905" cy="1328" rx="95" ry="20" fill="#f0b5ab"/>
<ellipse cx="478" cy="1345" rx="50" ry="16" fill="#f0b5ab"/>
<ellipse cx="400" cy="978" rx="40" ry="46" fill="#dedad7" stroke="#cfc9c5" stroke-width="5"/>
<path d="M560 965 C600 900 660 880 720 886 C880 895 1010 980 1080 1090 C1130 1170 1150 1240 1135 1275 C1100 1320 1000 1325 900 1322 L700 1332 L560 1332 C520 1300 500 1100 560 965 Z" fill="#e9e5e2" stroke="#d6d0cb" stroke-width="6"/>
<path d="M700 1215 C800 1250 1000 1240 1100 1150" fill="none" stroke="#dad4cf" stroke-width="6"/>
<path d="M205 1268 C230 1170 290 1080 340 1035 C380 990 440 955 500 950 C560 945 590 1000 600 1080 C610 1200 580 1280 520 1300 C440 1330 330 1335 260 1325 C225 1315 205 1295 205 1268 Z" fill="#efece9" stroke="#d9d3ce" stroke-width="6"/>
<ellipse cx="525" cy="1032" rx="55" ry="86" fill="#f0b8b2" stroke="#e4a29b" stroke-width="5" transform="rotate(-12 525 1032)"/>
<circle cx="338" cy="1165" r="14" fill="#b5202a"/>
<circle cx="212" cy="1272" r="9" fill="#f2b6b0"/>
</g>
<defs><g id="hum"><ellipse cx="0" cy="4.6" rx="3.5" ry="4.5"/><path stroke-linejoin="round" d="M1.8 8.5 L2 11 L8.5 12.7 L9.4 15.5 L12.7 25 L16.6 33 L18.2 36.8 L15.4 36.2 L13.8 33.2 L9.6 26 L6.9 18 L6 30 L7 37.5 L6.6 48 L5.6 52.5 L5.2 60 L4.3 63.5 L5.2 66 L1.2 66 L1.6 62 L1.2 52 L0.3 40 L-0.3 40 L-1.2 52 L-1.6 62 L-1.2 66 L-5.2 66 L-4.3 63.5 L-5.2 60 L-5.6 52.5 L-6.6 48 L-7 37.5 L-6 30 L-6.9 18 L-9.6 26 L-13.8 33.2 L-15.4 36.2 L-18.2 36.8 L-16.6 33 L-12.7 25 L-9.4 15.5 L-8.5 12.7 L-2 11 L-1.8 8.5 Z"/></g></defs>
<use href="#hum" x="627.1" y="687.9" fill="#dda0cb" stroke="#dda0cb" stroke-width="0.8"/>
<use href="#hum" x="667.8" y="688.9" fill="#f0d373" stroke="#f0d373" stroke-width="0.8"/>
<use href="#hum" x="708.5" y="689.9" fill="#fcf1e9" stroke="#f0d6c6" stroke-width="0.6"/>
<use href="#hum" x="609.8" y="750.9" fill="#eceff6" stroke="#dfe3ee" stroke-width="0.6"/>
<use href="#hum" x="649.4" y="751.9" fill="#9ccbe8" stroke="#9ccbe8" stroke-width="0.8"/>
<use href="#hum" x="690.1" y="751.4" fill="#4a6fb0" stroke="#4a6fb0" stroke-width="0.8"/>
<use href="#hum" x="730.3" y="751.4" fill="#4e4a9c" stroke="#4e4a9c" stroke-width="0.8"/>
</g>
<g id="panel-b">
<text x="881.2" y="23.6" font-size="33" font-weight="bold" textLength="21.78" lengthAdjust="spacingAndGlyphs" stroke="#231f20" stroke-width="1.1" stroke-linejoin="round">b</text>
<text text-anchor="middle" textLength="152.5" lengthAdjust="spacingAndGlyphs" transform="translate(901 332.2) rotate(-90)">Patients enrolled</text>
<path d="M1029.7 16 L1029.7 648.4 L2074 648.4" fill="none" stroke="#231f20" stroke-width="1.4"/>
<line x1="1048.3" y1="648.4" x2="1048.3" y2="654" stroke="#231f20" stroke-width="1.3"/>
<text x="1048.3" y="676.8" text-anchor="middle">0</text>
<line x1="1131.53" y1="648.4" x2="1131.53" y2="654" stroke="#231f20" stroke-width="1.3"/>
<text x="1131.53" y="676.8" text-anchor="middle">6</text>
<line x1="1214.76" y1="648.4" x2="1214.76" y2="654" stroke="#231f20" stroke-width="1.3"/>
<text x="1214.76" y="676.8" text-anchor="middle">12</text>
<line x1="1298" y1="648.4" x2="1298" y2="654" stroke="#231f20" stroke-width="1.3"/>
<text x="1298" y="676.8" text-anchor="middle">18</text>
<line x1="1381.23" y1="648.4" x2="1381.23" y2="654" stroke="#231f20" stroke-width="1.3"/>
<text x="1381.23" y="676.8" text-anchor="middle">24</text>
<line x1="1464.46" y1="648.4" x2="1464.46" y2="654" stroke="#231f20" stroke-width="1.3"/>
<text x="1464.46" y="676.8" text-anchor="middle">30</text>
<line x1="1547.69" y1="648.4" x2="1547.69" y2="654" stroke="#231f20" stroke-width="1.3"/>
<text x="1547.69" y="676.8" text-anchor="middle">36</text>
<line x1="1630.92" y1="648.4" x2="1630.92" y2="654" stroke="#231f20" stroke-width="1.3"/>
<text x="1630.92" y="676.8" text-anchor="middle">42</text>
<line x1="1714.16" y1="648.4" x2="1714.16" y2="654" stroke="#231f20" stroke-width="1.3"/>
<text x="1714.16" y="676.8" text-anchor="middle">48</text>
<line x1="1797.39" y1="648.4" x2="1797.39" y2="654" stroke="#231f20" stroke-width="1.3"/>
<text x="1797.39" y="676.8" text-anchor="middle">54</text>
<line x1="1880.62" y1="648.4" x2="1880.62" y2="654" stroke="#231f20" stroke-width="1.3"/>
<text x="1880.62" y="676.8" text-anchor="middle">60</text>
<line x1="1963.85" y1="648.4" x2="1963.85" y2="654" stroke="#231f20" stroke-width="1.3"/>
<text x="1963.85" y="676.8" text-anchor="middle">66</text>
<line x1="2047.08" y1="648.4" x2="2047.08" y2="654" stroke="#231f20" stroke-width="1.3"/>
<text x="2047.08" y="676.8" text-anchor="middle">72</text>
<text x="1552" y="713.8" text-anchor="middle" textLength="206.5" lengthAdjust="spacingAndGlyphs">Months since baseline</text>
<text x="955.9" y="35.3" text-anchor="end">124</text>
<rect x="964.7" y="21.7" width="12.7" height="12.6" fill="#6aaddb" stroke="#1d2b3a" stroke-width="0.9"/>
<rect x="984.1" y="21.7" width="12.7" height="12.6" fill="#b3dc8c" stroke="#2a3a22" stroke-width="0.9"/>
<rect x="1004.4" y="21.7" width="12.7" height="12.6" fill="#9a3a22" stroke="#4a2418" stroke-width="0.9"/>
<rect x="1048.8" y="20.9" width="56.9" height="14.2" fill="#fdc689" stroke="#231f20" stroke-width="1"/>
<circle cx="1086.7" cy="28" r="4.7" fill="#231f20"/>
<line x1="1098.7" y1="28" x2="1113.7" y2="28" stroke="#000" stroke-width="2"/>
<line x1="1106.2" y1="20.5" x2="1106.2" y2="35.5" stroke="#000" stroke-width="2"/>
<text x="955.9" y="53.76" text-anchor="end">162</text>
<rect x="964.7" y="40.16" width="12.7" height="12.6" fill="#6aaddb" stroke="#1d2b3a" stroke-width="0.9"/>
<rect x="984.1" y="40.16" width="12.7" height="12.6" fill="#b3dc8c" stroke="#2a3a22" stroke-width="0.9"/>
<rect x="1004.4" y="40.16" width="12.7" height="12.6" fill="#f6957c" stroke="#4a2418" stroke-width="0.9"/>
<rect x="1048.8" y="39.36" width="71.3" height="14.2" fill="#fdc689" stroke="#231f20" stroke-width="1"/>
<path d="M1070.3 52.06 L1083.1 52.06 L1076.7 41.46 Z" fill="#e8262a"/>
<path d="M1086.9 52.06 L1099.7 52.06 L1093.3 41.46 Z" fill="#e8262a"/>
<line x1="1113.1" y1="46.46" x2="1128.1" y2="46.46" stroke="#000" stroke-width="2"/>
<line x1="1120.6" y1="38.96" x2="1120.6" y2="53.96" stroke="#000" stroke-width="2"/>
<text x="955.9" y="72.22" text-anchor="end">166</text>
<rect x="964.7" y="58.62" width="12.7" height="12.6" fill="#6aaddb" stroke="#1d2b3a" stroke-width="0.9"/>
<rect x="984.1" y="58.62" width="12.7" height="12.6" fill="#b3dc8c" stroke="#2a3a22" stroke-width="0.9"/>
<rect x="1004.4" y="58.62" width="12.7" height="12.6" fill="#f6957c" stroke="#4a2418" stroke-width="0.9"/>
<rect x="1048.8" y="57.82" width="126" height="14.2" fill="#fdc689" stroke="#231f20" stroke-width="1"/>
<circle cx="1083.6" cy="64.92" r="4.7" fill="#231f20"/>
<circle cx="1097.5" cy="64.92" r="4.7" fill="#231f20"/>
<path d="M1106.4 70.52 L1119.2 70.52 L1112.8 59.92 Z" fill="#e8262a"/>
<line x1="1175.3" y1="64.92" x2="1187.8" y2="64.92" stroke="#2478bd" stroke-width="1.6"/>
<path d="M1195.8 64.92 L1182.8 59.72 L1186.3 64.92 L1182.8 70.12 Z" fill="#2478bd"/>
<text x="955.9" y="90.68" text-anchor="end">149</text>
<rect x="964.7" y="77.08" width="12.7" height="12.6" fill="#6aaddb" stroke="#1d2b3a" stroke-width="0.9"/>
<rect x="984.1" y="77.08" width="12.7" height="12.6" fill="#b3dc8c" stroke="#2a3a22" stroke-width="0.9"/>
<rect x="1004.4" y="77.08" width="12.7" height="12.6" fill="#f6957c" stroke="#4a2418" stroke-width="0.9"/>
<rect x="1048.8" y="76.28" width="144.3" height="14.2" fill="#fdc689" stroke="#231f20" stroke-width="1"/>
<path d="M1072.8 88.98 L1085.6 88.98 L1079.2 78.38 Z" fill="#e8262a"/>
<path d="M1086.1 88.98 L1098.9 88.98 L1092.5 78.38 Z" fill="#e8262a"/>
<path d="M1099.2 88.98 L1112 88.98 L1105.6 78.38 Z" fill="#e8262a"/>
<path d="M1124.7 88.98 L1137.5 88.98 L1131.1 78.38 Z" fill="#e8262a"/>
<line x1="1186.1" y1="83.38" x2="1201.1" y2="83.38" stroke="#000" stroke-width="2"/>
<line x1="1193.6" y1="75.88" x2="1193.6" y2="90.88" stroke="#000" stroke-width="2"/>
<text x="955.9" y="109.14" text-anchor="end">143</text>
<rect x="964.7" y="95.54" width="12.7" height="12.6" fill="#6aaddb" stroke="#1d2b3a" stroke-width="0.9"/>
<rect x="984.1" y="95.54" width="12.7" height="12.6" fill="#b3dc8c" stroke="#2a3a22" stroke-width="0.9"/>
<rect x="1004.4" y="95.54" width="12.7" height="12.6" fill="#f6957c" stroke="#4a2418" stroke-width="0.9"/>
<rect x="1048.8" y="94.74" width="293.7" height="14.2" fill="#fdc689" stroke="#231f20" stroke-width="1"/>
<path d="M1076.6 107.44 L1089.4 107.44 L1083 96.84 Z" fill="#e8262a"/>
<circle cx="1095.8" cy="101.84" r="4.7" fill="#231f20"/>
<circle cx="1109.2" cy="101.84" r="4.7" fill="#231f20"/>
<rect x="1146.1" y="96.84" width="10" height="10" fill="#f5e629"/>
<circle cx="1174.2" cy="101.84" r="4.7" fill="#231f20"/>
<rect x="1184.7" y="96.84" width="10" height="10" fill="#f5e629"/>
<circle cx="1223" cy="101.84" r="4.7" fill="#231f20"/>
<path d="M1242.5 107.44 L1255.3 107.44 L1248.9 96.84 Z" fill="#e8262a"/>
<line x1="1335.5" y1="101.84" x2="1350.5" y2="101.84" stroke="#000" stroke-width="2"/>
<line x1="1343" y1="94.34" x2="1343" y2="109.34" stroke="#000" stroke-width="2"/>
<text x="955.9" y="127.6" text-anchor="end">157</text>
<rect x="964.7" y="114" width="12.7" height="12.6" fill="#6aaddb" stroke="#1d2b3a" stroke-width="0.9"/>
<rect x="984.1" y="114" width="12.7" height="12.6" fill="#b3dc8c" stroke="#2a3a22" stroke-width="0.9"/>
<rect x="1004.4" y="114" width="12.7" height="12.6" fill="#9a3a22" stroke="#4a2418" stroke-width="0.9"/>
<rect x="1048.8" y="113.2" width="381.8" height="14.2" fill="#fdc689" stroke="#231f20" stroke-width="1"/>
<path d="M1066.6 125.9 L1079.4 125.9 L1073 115.3 Z" fill="#e8262a"/>
<path d="M1080 125.9 L1092.8 125.9 L1086.4 115.3 Z" fill="#e8262a"/>
<circle cx="1098.6" cy="120.3" r="4.7" fill="#231f20"/>
<rect x="1122.8" y="115.3" width="10" height="10" fill="#f5e629"/>
<rect x="1152" y="115.3" width="10" height="10" fill="#f5e629"/>
<rect x="1178" y="115.3" width="10" height="10" fill="#f5e629"/>
<rect x="1204.2" y="115.3" width="10" height="10" fill="#f5e629"/>
<path d="M1241.6 125.9 L1254.4 125.9 L1248 115.3 Z" fill="#e8262a"/>
<line x1="1423.6" y1="120.3" x2="1438.6" y2="120.3" stroke="#000" stroke-width="2"/>
<line x1="1431.1" y1="112.8" x2="1431.1" y2="127.8" stroke="#000" stroke-width="2"/>
<text x="955.9" y="146.06" text-anchor="end">160</text>
<rect x="964.7" y="132.46" width="12.7" height="12.6" fill="#6aaddb" stroke="#1d2b3a" stroke-width="0.9"/>
<rect x="984.1" y="132.46" width="12.7" height="12.6" fill="#b3dc8c" stroke="#2a3a22" stroke-width="0.9"/>
<rect x="1004.4" y="132.46" width="12.7" height="12.6" fill="#f6957c" stroke="#4a2418" stroke-width="0.9"/>
<rect x="1048.8" y="131.66" width="417.1" height="14.2" fill="#fdc689" stroke="#231f20" stroke-width="1"/>
<path d="M1071.1 144.36 L1083.9 144.36 L1077.5 133.76 Z" fill="#e8262a"/>
<line x1="1466.4" y1="138.76" x2="1478.9" y2="138.76" stroke="#2478bd" stroke-width="1.6"/>
<path d="M1486.9 138.76 L1473.9 133.56 L1477.4 138.76 L1473.9 143.96 Z" fill="#2478bd"/>
<text x="955.9" y="164.52" text-anchor="end">130</text>
<rect x="964.7" y="150.92" width="12.7" height="12.6" fill="#6aaddb" stroke="#1d2b3a" stroke-width="0.9"/>
<rect x="984.1" y="150.92" width="12.7" height="12.6" fill="#b3dc8c" stroke="#2a3a22" stroke-width="0.9"/>
<rect x="1004.4" y="150.92" width="12.7" height="12.6" fill="#f6957c" stroke="#4a2418" stroke-width="0.9"/>
<rect x="1048.8" y="150.12" width="624.6" height="14.2" fill="#fdc689" stroke="#231f20" stroke-width="1"/>
<circle cx="1097" cy="157.22" r="4.7" fill="#231f20"/>
<circle cx="1131.1" cy="157.22" r="4.7" fill="#231f20"/>
<line x1="1673.9" y1="157.22" x2="1686.4" y2="157.22" stroke="#2478bd" stroke-width="1.6"/>
<path d="M1694.4 157.22 L1681.4 152.02 L1684.9 157.22 L1681.4 162.42 Z" fill="#2478bd"/>
<text x="955.9" y="182.98" text-anchor="end">38</text>
<rect x="964.7" y="169.38" width="12.7" height="12.6" fill="#6aaddb" stroke="#1d2b3a" stroke-width="0.9"/>
<rect x="984.1" y="169.38" width="12.7" height="12.6" fill="#0f6b5e" stroke="#2a3a22" stroke-width="0.9"/>
<rect x="1004.4" y="169.38" width="12.7" height="12.6" fill="#f6957c" stroke="#4a2418" stroke-width="0.9"/>
<rect x="1048.8" y="168.58" width="670.1" height="14.2" fill="#fdc689" stroke="#231f20" stroke-width="1"/>
<circle cx="1079.7" cy="175.68" r="4.7" fill="#231f20"/>
<circle cx="1108.9" cy="175.68" r="4.7" fill="#231f20"/>
<circle cx="1135" cy="175.68" r="4.7" fill="#231f20"/>
<circle cx="1161.1" cy="175.68" r="4.7" fill="#231f20"/>
<circle cx="1186.7" cy="175.68" r="4.7" fill="#231f20"/>
<circle cx="1202.8" cy="175.68" r="4.7" fill="#231f20"/>
<circle cx="1228.3" cy="175.68" r="4.7" fill="#231f20"/>
<circle cx="1255" cy="175.68" r="4.7" fill="#231f20"/>
<circle cx="1283.9" cy="175.68" r="4.7" fill="#231f20"/>
<rect x="1300.6" y="170.68" width="10" height="10" fill="#f5e629"/>
<rect x="1337" y="170.68" width="10" height="10" fill="#f5e629"/>
<rect x="1350.6" y="170.68" width="10" height="10" fill="#f5e629"/>
<rect x="1395.8" y="170.68" width="10" height="10" fill="#f5e629"/>
<path d="M1443 181.28 L1455.8 181.28 L1449.4 170.68 Z" fill="#e8262a"/>
<line x1="1719.4" y1="175.68" x2="1731.9" y2="175.68" stroke="#2478bd" stroke-width="1.6"/>
<path d="M1739.9 175.68 L1726.9 170.48 L1730.4 175.68 L1726.9 180.88 Z" fill="#2478bd"/>
<text x="955.9" y="201.44" text-anchor="end">0</text>
<rect x="964.7" y="187.84" width="12.7" height="12.6" fill="#1f3a7a" stroke="#1d2b3a" stroke-width="0.9"/>
<rect x="984.1" y="187.84" width="12.7" height="12.6" fill="#b3dc8c" stroke="#2a3a22" stroke-width="0.9"/>
<rect x="1004.4" y="187.84" width="12.7" height="12.6" fill="#f6957c" stroke="#4a2418" stroke-width="0.9"/>
<rect x="1048.8" y="187.04" width="918.5" height="14.2" fill="#fdc689" stroke="#231f20" stroke-width="1"/>
<path d="M1067.5 199.74 L1080.3 199.74 L1073.9 189.14 Z" fill="#e8262a"/>
<path d="M1087.8 199.74 L1100.6 199.74 L1094.2 189.14 Z" fill="#e8262a"/>
<path d="M1109.7 199.74 L1122.5 199.74 L1116.1 189.14 Z" fill="#e8262a"/>
<path d="M1127.2 199.74 L1140 199.74 L1133.6 189.14 Z" fill="#e8262a"/>
<circle cx="1174.2" cy="194.14" r="4.7" fill="#231f20"/>
<circle cx="1216.1" cy="194.14" r="4.7" fill="#231f20"/>
<path d="M1248.3 199.74 L1261.1 199.74 L1254.7 189.14 Z" fill="#e8262a"/>
<line x1="1960.3" y1="194.14" x2="1975.3" y2="194.14" stroke="#000" stroke-width="2"/>
<line x1="1967.8" y1="186.64" x2="1967.8" y2="201.64" stroke="#000" stroke-width="2"/>
<text x="955.9" y="219.9" text-anchor="end">31</text>
<rect x="964.7" y="206.3" width="12.7" height="12.6" fill="#6aaddb" stroke="#1d2b3a" stroke-width="0.9"/>
<rect x="984.1" y="206.3" width="12.7" height="12.6" fill="#b3dc8c" stroke="#2a3a22" stroke-width="0.9"/>
<rect x="1004.4" y="206.3" width="12.7" height="12.6" fill="#f6957c" stroke="#4a2418" stroke-width="0.9"/>
<rect x="1048.8" y="205.5" width="975.4" height="14.2" fill="#fdc689" stroke="#231f20" stroke-width="1"/>
<circle cx="1075.6" cy="212.6" r="4.7" fill="#231f20"/>
<circle cx="1089.2" cy="212.6" r="4.7" fill="#231f20"/>
<circle cx="1102" cy="212.6" r="4.7" fill="#231f20"/>
<circle cx="1118" cy="212.6" r="4.7" fill="#231f20"/>
<circle cx="1137.5" cy="212.6" r="4.7" fill="#231f20"/>
<circle cx="1163.3" cy="212.6" r="4.7" fill="#231f20"/>
<circle cx="1189.4" cy="212.6" r="4.7" fill="#231f20"/>
<circle cx="1215" cy="212.6" r="4.7" fill="#231f20"/>
<circle cx="1228" cy="212.6" r="4.7" fill="#231f20"/>
<circle cx="1283" cy="212.6" r="4.7" fill="#231f20"/>
<circle cx="1312.2" cy="212.6" r="4.7" fill="#231f20"/>
<circle cx="1338" cy="212.6" r="4.7" fill="#231f20"/>
<circle cx="1367.2" cy="212.6" r="4.7" fill="#231f20"/>
<circle cx="1393" cy="212.6" r="4.7" fill="#231f20"/>
<rect x="1425" y="207.6" width="10" height="10" fill="#f5e629"/>
<circle cx="1471.1" cy="212.6" r="4.7" fill="#231f20"/>
<rect x="1508" y="207.6" width="10" height="10" fill="#f5e629"/>
<circle cx="1561.4" cy="212.6" r="4.7" fill="#231f20"/>
<rect x="1595" y="207.6" width="10" height="10" fill="#f5e629"/>
<circle cx="1643.3" cy="212.6" r="4.7" fill="#231f20"/>
<circle cx="1685.3" cy="212.6" r="4.7" fill="#231f20"/>
<circle cx="1728" cy="212.6" r="4.7" fill="#231f20"/>
<rect x="1764.2" y="207.6" width="10" height="10" fill="#f5e629"/>
<circle cx="1811" cy="212.6" r="4.7" fill="#231f20"/>
<circle cx="1853.3" cy="212.6" r="4.7" fill="#231f20"/>
<circle cx="1912.5" cy="212.6" r="4.7" fill="#231f20"/>
<circle cx="1972.2" cy="212.6" r="4.7" fill="#231f20"/>
<circle cx="2024.2" cy="212.6" r="4.7" fill="#231f20"/>
<line x1="2024.7" y1="212.6" x2="2037.2" y2="212.6" stroke="#2478bd" stroke-width="1.6"/>
<path d="M2045.2 212.6 L2032.2 207.4 L2035.7 212.6 L2032.2 217.8 Z" fill="#2478bd"/>
<text x="955.9" y="238.36" text-anchor="end">44</text>
<rect x="964.7" y="224.76" width="12.7" height="12.6" fill="#6aaddb" stroke="#1d2b3a" stroke-width="0.9"/>
<rect x="984.1" y="224.76" width="12.7" height="12.6" fill="#0f6b5e" stroke="#2a3a22" stroke-width="0.9"/>
<rect x="1004.4" y="224.76" width="12.7" height="12.6" fill="#9a3a22" stroke="#4a2418" stroke-width="0.9"/>
<rect x="1048.8" y="223.96" width="19.5" height="14.2" fill="#9dc3e2" stroke="#231f20" stroke-width="1"/>
<path d="M1061.6 236.66 L1074.4 236.66 L1068 226.06 Z" fill="#e8262a"/>
<line x1="1061.3" y1="231.06" x2="1076.3" y2="231.06" stroke="#000" stroke-width="2"/>
<line x1="1068.8" y1="223.56" x2="1068.8" y2="238.56" stroke="#000" stroke-width="2"/>
<text x="955.9" y="256.82" text-anchor="end">115</text>
<rect x="964.7" y="243.22" width="12.7" height="12.6" fill="#6aaddb" stroke="#1d2b3a" stroke-width="0.9"/>
<rect x="984.1" y="243.22" width="12.7" height="12.6" fill="#0f6b5e" stroke="#2a3a22" stroke-width="0.9"/>
<rect x="1004.4" y="243.22" width="12.7" height="12.6" fill="#f6957c" stroke="#4a2418" stroke-width="0.9"/>
<rect x="1048.8" y="242.42" width="19.7" height="14.2" fill="#9dc3e2" stroke="#231f20" stroke-width="1"/>
<path d="M1052.3 255.12 L1065.1 255.12 L1058.7 244.52 Z" fill="#e8262a"/>
<line x1="1061.5" y1="249.52" x2="1076.5" y2="249.52" stroke="#000" stroke-width="2"/>
<line x1="1069" y1="242.02" x2="1069" y2="257.02" stroke="#000" stroke-width="2"/>
<text x="955.9" y="275.28" text-anchor="end">125</text>
<rect x="964.7" y="261.68" width="12.7" height="12.6" fill="#6aaddb" stroke="#1d2b3a" stroke-width="0.9"/>
<rect x="984.1" y="261.68" width="12.7" height="12.6" fill="#b3dc8c" stroke="#2a3a22" stroke-width="0.9"/>
<rect x="1004.4" y="261.68" width="12.7" height="12.6" fill="#f6957c" stroke="#4a2418" stroke-width="0.9"/>
<rect x="1048.8" y="260.88" width="34.9" height="14.2" fill="#9dc3e2" stroke="#231f20" stroke-width="1"/>
<path d="M1074.1 273.58 L1086.9 273.58 L1080.5 262.98 Z" fill="#e8262a"/>
<line x1="1076.7" y1="267.98" x2="1091.7" y2="267.98" stroke="#000" stroke-width="2"/>
<line x1="1084.2" y1="260.48" x2="1084.2" y2="275.48" stroke="#000" stroke-width="2"/>
<text x="955.9" y="293.74" text-anchor="end">128</text>
<rect x="964.7" y="280.14" width="12.7" height="12.6" fill="#6aaddb" stroke="#1d2b3a" stroke-width="0.9"/>
<rect x="984.1" y="280.14" width="12.7" height="12.6" fill="#b3dc8c" stroke="#2a3a22" stroke-width="0.9"/>
<rect x="1004.4" y="280.14" width="12.7" height="12.6" fill="#f6957c" stroke="#4a2418" stroke-width="0.9"/>
<rect x="1048.8" y="279.34" width="36.8" height="14.2" fill="#9dc3e2" stroke="#231f20" stroke-width="1"/>
<path d="M1072.1 292.04 L1084.9 292.04 L1078.5 281.44 Z" fill="#e8262a"/>
<line x1="1078.6" y1="286.44" x2="1093.6" y2="286.44" stroke="#000" stroke-width="2"/>
<line x1="1086.1" y1="278.94" x2="1086.1" y2="293.94" stroke="#000" stroke-width="2"/>
<text x="955.9" y="312.2" text-anchor="end">150</text>
<rect x="964.7" y="298.6" width="12.7" height="12.6" fill="#6aaddb" stroke="#1d2b3a" stroke-width="0.9"/>
<rect x="984.1" y="298.6" width="12.7" height="12.6" fill="#b3dc8c" stroke="#2a3a22" stroke-width="0.9"/>
<rect x="1004.4" y="298.6" width="12.7" height="12.6" fill="#f6957c" stroke="#4a2418" stroke-width="0.9"/>
<rect x="1048.8" y="297.8" width="48.4" height="14.2" fill="#9dc3e2" stroke="#231f20" stroke-width="1"/>
<path d="M1074.6 310.5 L1087.4 310.5 L1081 299.9 Z" fill="#e8262a"/>
<line x1="1090.2" y1="304.9" x2="1105.2" y2="304.9" stroke="#000" stroke-width="2"/>
<line x1="1097.7" y1="297.4" x2="1097.7" y2="312.4" stroke="#000" stroke-width="2"/>
<text x="955.9" y="330.66" text-anchor="end">151</text>
<rect x="964.7" y="317.06" width="12.7" height="12.6" fill="#6aaddb" stroke="#1d2b3a" stroke-width="0.9"/>
<rect x="984.1" y="317.06" width="12.7" height="12.6" fill="#b3dc8c" stroke="#2a3a22" stroke-width="0.9"/>
<rect x="1004.4" y="317.06" width="12.7" height="12.6" fill="#f6957c" stroke="#4a2418" stroke-width="0.9"/>
<rect x="1048.8" y="316.26" width="59.6" height="14.2" fill="#9dc3e2" stroke="#231f20" stroke-width="1"/>
<path d="M1063 328.96 L1075.8 328.96 L1069.4 318.36 Z" fill="#e8262a"/>
<line x1="1101.4" y1="323.36" x2="1116.4" y2="323.36" stroke="#000" stroke-width="2"/>
<line x1="1108.9" y1="315.86" x2="1108.9" y2="330.86" stroke="#000" stroke-width="2"/>
<text x="955.9" y="349.12" text-anchor="end">36</text>
<rect x="964.7" y="335.52" width="12.7" height="12.6" fill="#6aaddb" stroke="#1d2b3a" stroke-width="0.9"/>
<rect x="984.1" y="335.52" width="12.7" height="12.6" fill="#0f6b5e" stroke="#2a3a22" stroke-width="0.9"/>
<rect x="1004.4" y="335.52" width="12.7" height="12.6" fill="#9a3a22" stroke="#4a2418" stroke-width="0.9"/>
<rect x="1048.8" y="334.72" width="62.1" height="14.2" fill="#9dc3e2" stroke="#231f20" stroke-width="1"/>
<path d="M1072.5 347.42 L1085.3 347.42 L1078.9 336.82 Z" fill="#e8262a"/>
<path d="M1091.3 347.42 L1104.1 347.42 L1097.7 336.82 Z" fill="#e8262a"/>
<line x1="1103.9" y1="341.82" x2="1118.9" y2="341.82" stroke="#000" stroke-width="2"/>
<line x1="1111.4" y1="334.32" x2="1111.4" y2="349.32" stroke="#000" stroke-width="2"/>
<text x="955.9" y="367.58" text-anchor="end">119</text>
<rect x="964.7" y="353.98" width="12.7" height="12.6" fill="#6aaddb" stroke="#1d2b3a" stroke-width="0.9"/>
<rect x="984.1" y="353.98" width="12.7" height="12.6" fill="#b3dc8c" stroke="#2a3a22" stroke-width="0.9"/>
<rect x="1004.4" y="353.98" width="12.7" height="12.6" fill="#9a3a22" stroke="#4a2418" stroke-width="0.9"/>
<rect x="1048.8" y="353.18" width="75.4" height="14.2" fill="#9dc3e2" stroke="#231f20" stroke-width="1"/>
<path d="M1075 365.88 L1087.8 365.88 L1081.4 355.28 Z" fill="#e8262a"/>
<path d="M1094.8 365.88 L1107.6 365.88 L1101.2 355.28 Z" fill="#e8262a"/>
<line x1="1117.2" y1="360.28" x2="1132.2" y2="360.28" stroke="#000" stroke-width="2"/>
<line x1="1124.7" y1="352.78" x2="1124.7" y2="367.78" stroke="#000" stroke-width="2"/>
<text x="955.9" y="386.04" text-anchor="end">137</text>
<rect x="964.7" y="372.44" width="12.7" height="12.6" fill="#6aaddb" stroke="#1d2b3a" stroke-width="0.9"/>
<rect x="984.1" y="372.44" width="12.7" height="12.6" fill="#b3dc8c" stroke="#2a3a22" stroke-width="0.9"/>
<rect x="1004.4" y="372.44" width="12.7" height="12.6" fill="#9a3a22" stroke="#4a2418" stroke-width="0.9"/>
<rect x="1048.8" y="371.64" width="80.6" height="14.2" fill="#9dc3e2" stroke="#231f20" stroke-width="1"/>
<path d="M1078.1 384.34 L1090.9 384.34 L1084.5 373.74 Z" fill="#e8262a"/>
<line x1="1122.4" y1="378.74" x2="1137.4" y2="378.74" stroke="#000" stroke-width="2"/>
<line x1="1129.9" y1="371.24" x2="1129.9" y2="386.24" stroke="#000" stroke-width="2"/>
<text x="955.9" y="404.5" text-anchor="end">126</text>
<rect x="964.7" y="390.9" width="12.7" height="12.6" fill="#6aaddb" stroke="#1d2b3a" stroke-width="0.9"/>
<rect x="984.1" y="390.9" width="12.7" height="12.6" fill="#b3dc8c" stroke="#2a3a22" stroke-width="0.9"/>
<rect x="1004.4" y="390.9" width="12.7" height="12.6" fill="#f6957c" stroke="#4a2418" stroke-width="0.9"/>
<rect x="1048.8" y="390.1" width="83.8" height="14.2" fill="#9dc3e2" stroke="#231f20" stroke-width="1"/>
<path d="M1059.4 402.8 L1072.2 402.8 L1065.8 392.2 Z" fill="#e8262a"/>
<line x1="1125.6" y1="397.2" x2="1140.6" y2="397.2" stroke="#000" stroke-width="2"/>
<line x1="1133.1" y1="389.7" x2="1133.1" y2="404.7" stroke="#000" stroke-width="2"/>
<text x="955.9" y="422.96" text-anchor="end">139</text>
<rect x="964.7" y="409.36" width="12.7" height="12.6" fill="#6aaddb" stroke="#1d2b3a" stroke-width="0.9"/>
<rect x="984.1" y="409.36" width="12.7" height="12.6" fill="#b3dc8c" stroke="#2a3a22" stroke-width="0.9"/>
<rect x="1004.4" y="409.36" width="12.7" height="12.6" fill="#f6957c" stroke="#4a2418" stroke-width="0.9"/>
<rect x="1048.8" y="408.56" width="100.8" height="14.2" fill="#9dc3e2" stroke="#231f20" stroke-width="1"/>
<path d="M1079.6 421.26 L1092.4 421.26 L1086 410.66 Z" fill="#e8262a"/>
<path d="M1118.3 421.26 L1131.1 421.26 L1124.7 410.66 Z" fill="#e8262a"/>
<line x1="1142.6" y1="415.66" x2="1157.6" y2="415.66" stroke="#000" stroke-width="2"/>
<line x1="1150.1" y1="408.16" x2="1150.1" y2="423.16" stroke="#000" stroke-width="2"/>
<text x="955.9" y="441.42" text-anchor="end">19</text>
<rect x="964.7" y="427.82" width="12.7" height="12.6" fill="#6aaddb" stroke="#1d2b3a" stroke-width="0.9"/>
<rect x="984.1" y="427.82" width="12.7" height="12.6" fill="#b3dc8c" stroke="#2a3a22" stroke-width="0.9"/>
<rect x="1004.4" y="427.82" width="12.7" height="12.6" fill="#f6957c" stroke="#4a2418" stroke-width="0.9"/>
<rect x="1048.8" y="427.02" width="125.9" height="14.2" fill="#9dc3e2" stroke="#231f20" stroke-width="1"/>
<path d="M1080 439.72 L1092.8 439.72 L1086.4 429.12 Z" fill="#e8262a"/>
<path d="M1094.1 439.72 L1106.9 439.72 L1100.5 429.12 Z" fill="#e8262a"/>
<path d="M1106.3 439.72 L1119.1 439.72 L1112.7 429.12 Z" fill="#e8262a"/>
<path d="M1119.4 439.72 L1132.2 439.72 L1125.8 429.12 Z" fill="#e8262a"/>
<path d="M1132.4 439.72 L1145.2 439.72 L1138.8 429.12 Z" fill="#e8262a"/>
<line x1="1167.7" y1="434.12" x2="1182.7" y2="434.12" stroke="#000" stroke-width="2"/>
<line x1="1175.2" y1="426.62" x2="1175.2" y2="441.62" stroke="#000" stroke-width="2"/>
<text x="955.9" y="459.88" text-anchor="end">129</text>
<rect x="964.7" y="446.28" width="12.7" height="12.6" fill="#6aaddb" stroke="#1d2b3a" stroke-width="0.9"/>
<rect x="984.1" y="446.28" width="12.7" height="12.6" fill="#b3dc8c" stroke="#2a3a22" stroke-width="0.9"/>
<rect x="1004.4" y="446.28" width="12.7" height="12.6" fill="#9a3a22" stroke="#4a2418" stroke-width="0.9"/>
<rect x="1048.8" y="445.48" width="181.7" height="14.2" fill="#9dc3e2" stroke="#231f20" stroke-width="1"/>
<path d="M1055.8 458.18 L1068.6 458.18 L1062.2 447.58 Z" fill="#e8262a"/>
<line x1="1223.5" y1="452.58" x2="1238.5" y2="452.58" stroke="#000" stroke-width="2"/>
<line x1="1231" y1="445.08" x2="1231" y2="460.08" stroke="#000" stroke-width="2"/>
<text x="955.9" y="478.34" text-anchor="end">29</text>
<rect x="964.7" y="464.74" width="12.7" height="12.6" fill="#6aaddb" stroke="#1d2b3a" stroke-width="0.9"/>
<rect x="984.1" y="464.74" width="12.7" height="12.6" fill="#b3dc8c" stroke="#2a3a22" stroke-width="0.9"/>
<rect x="1004.4" y="464.74" width="12.7" height="12.6" fill="#f6957c" stroke="#4a2418" stroke-width="0.9"/>
<rect x="1048.8" y="463.94" width="197.8" height="14.2" fill="#9dc3e2" stroke="#231f20" stroke-width="1"/>
<path d="M1067.8 476.64 L1080.6 476.64 L1074.2 466.04 Z" fill="#e8262a"/>
<path d="M1080.6 476.64 L1093.4 476.64 L1087 466.04 Z" fill="#e8262a"/>
<path d="M1096.9 476.64 L1109.7 476.64 L1103.3 466.04 Z" fill="#e8262a"/>
<path d="M1122.4 476.64 L1135.2 476.64 L1128.8 466.04 Z" fill="#e8262a"/>
<path d="M1148.9 476.64 L1161.7 476.64 L1155.3 466.04 Z" fill="#e8262a"/>
<line x1="1239.6" y1="471.04" x2="1254.6" y2="471.04" stroke="#000" stroke-width="2"/>
<line x1="1247.1" y1="463.54" x2="1247.1" y2="478.54" stroke="#000" stroke-width="2"/>
<text x="955.9" y="496.8" text-anchor="end">121</text>
<rect x="964.7" y="483.2" width="12.7" height="12.6" fill="#6aaddb" stroke="#1d2b3a" stroke-width="0.9"/>
<rect x="984.1" y="483.2" width="12.7" height="12.6" fill="#b3dc8c" stroke="#2a3a22" stroke-width="0.9"/>
<rect x="1004.4" y="483.2" width="12.7" height="12.6" fill="#9a3a22" stroke="#4a2418" stroke-width="0.9"/>
<rect x="1048.8" y="482.4" width="211" height="14.2" fill="#8fd3c3" stroke="#231f20" stroke-width="1"/>
<circle cx="1073.3" cy="489.5" r="4.7" fill="#231f20"/>
<circle cx="1099.2" cy="489.5" r="4.7" fill="#231f20"/>
<circle cx="1124.7" cy="489.5" r="4.7" fill="#231f20"/>
<line x1="1252.8" y1="489.5" x2="1267.8" y2="489.5" stroke="#000" stroke-width="2"/>
<line x1="1260.3" y1="482" x2="1260.3" y2="497" stroke="#000" stroke-width="2"/>
<text x="955.9" y="515.26" text-anchor="end">122</text>
<rect x="964.7" y="501.66" width="12.7" height="12.6" fill="#6aaddb" stroke="#1d2b3a" stroke-width="0.9"/>
<rect x="984.1" y="501.66" width="12.7" height="12.6" fill="#b3dc8c" stroke="#2a3a22" stroke-width="0.9"/>
<rect x="1004.4" y="501.66" width="12.7" height="12.6" fill="#9a3a22" stroke="#4a2418" stroke-width="0.9"/>
<rect x="1048.8" y="500.86" width="228.7" height="14.2" fill="#9dc3e2" stroke="#231f20" stroke-width="1"/>
<path d="M1067.5 513.56 L1080.3 513.56 L1073.9 502.96 Z" fill="#e8262a"/>
<path d="M1080.8 513.56 L1093.6 513.56 L1087.2 502.96 Z" fill="#e8262a"/>
<path d="M1094.2 513.56 L1107 513.56 L1100.6 502.96 Z" fill="#e8262a"/>
<line x1="1270.5" y1="507.96" x2="1285.5" y2="507.96" stroke="#000" stroke-width="2"/>
<line x1="1278" y1="500.46" x2="1278" y2="515.46" stroke="#000" stroke-width="2"/>
<text x="955.9" y="533.72" text-anchor="end">163</text>
<rect x="964.7" y="520.12" width="12.7" height="12.6" fill="#6aaddb" stroke="#1d2b3a" stroke-width="0.9"/>
<rect x="984.1" y="520.12" width="12.7" height="12.6" fill="#b3dc8c" stroke="#2a3a22" stroke-width="0.9"/>
<rect x="1004.4" y="520.12" width="12.7" height="12.6" fill="#f6957c" stroke="#4a2418" stroke-width="0.9"/>
<rect x="1048.8" y="519.32" width="301" height="14.2" fill="#8fd3c3" stroke="#231f20" stroke-width="1"/>
<circle cx="1084.4" cy="526.42" r="4.7" fill="#231f20"/>
<path d="M1091.1 532.02 L1103.9 532.02 L1097.5 521.42 Z" fill="#e8262a"/>
<path d="M1104.2 532.02 L1117 532.02 L1110.6 521.42 Z" fill="#e8262a"/>
<path d="M1136.4 532.02 L1149.2 532.02 L1142.8 521.42 Z" fill="#e8262a"/>
<line x1="1350.3" y1="526.42" x2="1362.8" y2="526.42" stroke="#2478bd" stroke-width="1.6"/>
<path d="M1370.8 526.42 L1357.8 521.22 L1361.3 526.42 L1357.8 531.62 Z" fill="#2478bd"/>
<text x="955.9" y="552.18" text-anchor="end">152</text>
<rect x="964.7" y="538.58" width="12.7" height="12.6" fill="#6aaddb" stroke="#1d2b3a" stroke-width="0.9"/>
<rect x="984.1" y="538.58" width="12.7" height="12.6" fill="#b3dc8c" stroke="#2a3a22" stroke-width="0.9"/>
<rect x="1004.4" y="538.58" width="12.7" height="12.6" fill="#f6957c" stroke="#4a2418" stroke-width="0.9"/>
<rect x="1048.8" y="537.78" width="486.3" height="14.2" fill="#8fd3c3" stroke="#231f20" stroke-width="1"/>
<path d="M1082 544.88 L1087.5 539.38 L1093 544.88 L1087.5 550.38 Z" fill="#16833f"/>
<line x1="1535.6" y1="544.88" x2="1548.1" y2="544.88" stroke="#2478bd" stroke-width="1.6"/>
<path d="M1556.1 544.88 L1543.1 539.68 L1546.6 544.88 L1543.1 550.08 Z" fill="#2478bd"/>
<text x="955.9" y="570.64" text-anchor="end">141</text>
<rect x="964.7" y="557.04" width="12.7" height="12.6" fill="#6aaddb" stroke="#1d2b3a" stroke-width="0.9"/>
<rect x="984.1" y="557.04" width="12.7" height="12.6" fill="#b3dc8c" stroke="#2a3a22" stroke-width="0.9"/>
<rect x="1004.4" y="557.04" width="12.7" height="12.6" fill="#f6957c" stroke="#4a2418" stroke-width="0.9"/>
<rect x="1048.8" y="556.24" width="552.9" height="14.2" fill="#9dc3e2" stroke="#231f20" stroke-width="1"/>
<circle cx="1073.9" cy="563.34" r="4.7" fill="#231f20"/>
<circle cx="1106.7" cy="563.34" r="4.7" fill="#231f20"/>
<path d="M1130.3 568.94 L1143.1 568.94 L1136.7 558.34 Z" fill="#e8262a"/>
<line x1="1594.7" y1="563.34" x2="1609.7" y2="563.34" stroke="#000" stroke-width="2"/>
<line x1="1602.2" y1="555.84" x2="1602.2" y2="570.84" stroke="#000" stroke-width="2"/>
<text x="955.9" y="589.1" text-anchor="end">135</text>
<rect x="964.7" y="575.5" width="12.7" height="12.6" fill="#6aaddb" stroke="#1d2b3a" stroke-width="0.9"/>
<rect x="984.1" y="575.5" width="12.7" height="12.6" fill="#b3dc8c" stroke="#2a3a22" stroke-width="0.9"/>
<rect x="1004.4" y="575.5" width="12.7" height="12.6" fill="#f6957c" stroke="#4a2418" stroke-width="0.9"/>
<rect x="1048.8" y="574.7" width="567.7" height="14.2" fill="#9dc3e2" stroke="#231f20" stroke-width="1"/>
<path d="M1050.3 587.4 L1063.1 587.4 L1056.7 576.8 Z" fill="#e8262a"/>
<line x1="1609.5" y1="581.8" x2="1624.5" y2="581.8" stroke="#000" stroke-width="2"/>
<line x1="1617" y1="574.3" x2="1617" y2="589.3" stroke="#000" stroke-width="2"/>
<text x="955.9" y="607.56" text-anchor="end">145</text>
<rect x="964.7" y="593.96" width="12.7" height="12.6" fill="#6aaddb" stroke="#1d2b3a" stroke-width="0.9"/>
<rect x="984.1" y="593.96" width="12.7" height="12.6" fill="#b3dc8c" stroke="#2a3a22" stroke-width="0.9"/>
<rect x="1004.4" y="593.96" width="12.7" height="12.6" fill="#f6957c" stroke="#4a2418" stroke-width="0.9"/>
<rect x="1048.8" y="593.16" width="578.5" height="14.2" fill="#9dc3e2" stroke="#231f20" stroke-width="1"/>
<circle cx="1080.3" cy="600.26" r="4.7" fill="#231f20"/>
<circle cx="1106.1" cy="600.26" r="4.7" fill="#231f20"/>
<circle cx="1135.3" cy="600.26" r="4.7" fill="#231f20"/>
<circle cx="1161.4" cy="600.26" r="4.7" fill="#231f20"/>
<circle cx="1187" cy="600.26" r="4.7" fill="#231f20"/>
<rect x="1207.8" y="595.26" width="10" height="10" fill="#f5e629"/>
<line x1="1627.8" y1="600.26" x2="1640.3" y2="600.26" stroke="#2478bd" stroke-width="1.6"/>
<path d="M1648.3 600.26 L1635.3 595.06 L1638.8 600.26 L1635.3 605.46 Z" fill="#2478bd"/>
<text x="955.9" y="626.02" text-anchor="end">146</text>
<rect x="964.7" y="612.42" width="12.7" height="12.6" fill="#6aaddb" stroke="#1d2b3a" stroke-width="0.9"/>
<rect x="984.1" y="612.42" width="12.7" height="12.6" fill="#b3dc8c" stroke="#2a3a22" stroke-width="0.9"/>
<rect x="1004.4" y="612.42" width="12.7" height="12.6" fill="#f6957c" stroke="#4a2418" stroke-width="0.9"/>
<rect x="1048.8" y="611.62" width="581.8" height="14.2" fill="#9dc3e2" stroke="#231f20" stroke-width="1"/>
<circle cx="1077.5" cy="618.72" r="4.7" fill="#231f20"/>
<path d="M1096.9 624.32 L1109.7 624.32 L1103.3 613.72 Z" fill="#e8262a"/>
<path d="M1110 624.32 L1122.8 624.32 L1116.4 613.72 Z" fill="#e8262a"/>
<path d="M1123 624.32 L1135.8 624.32 L1129.4 613.72 Z" fill="#e8262a"/>
<circle cx="1155.3" cy="618.72" r="4.7" fill="#231f20"/>
<circle cx="1180.8" cy="618.72" r="4.7" fill="#231f20"/>
<circle cx="1206.7" cy="618.72" r="4.7" fill="#231f20"/>
<circle cx="1249.4" cy="618.72" r="4.7" fill="#231f20"/>
<circle cx="1279.4" cy="618.72" r="4.7" fill="#231f20"/>
<circle cx="1307.5" cy="618.72" r="4.7" fill="#231f20"/>
<path d="M1327.8 624.32 L1340.6 624.32 L1334.2 613.72 Z" fill="#e8262a"/>
<path d="M1353.3 624.32 L1366.1 624.32 L1359.7 613.72 Z" fill="#e8262a"/>
<path d="M1381.6 624.32 L1394.4 624.32 L1388 613.72 Z" fill="#e8262a"/>
<path d="M1398.9 624.32 L1411.7 624.32 L1405.3 613.72 Z" fill="#e8262a"/>
<line x1="1631.1" y1="618.72" x2="1643.6" y2="618.72" stroke="#2478bd" stroke-width="1.6"/>
<path d="M1651.6 618.72 L1638.6 613.52 L1642.1 618.72 L1638.6 623.92 Z" fill="#2478bd"/>
<text x="955.9" y="644.48" text-anchor="end">69</text>
<rect x="964.7" y="630.88" width="12.7" height="12.6" fill="#6aaddb" stroke="#1d2b3a" stroke-width="0.9"/>
<rect x="984.1" y="630.88" width="12.7" height="12.6" fill="#0f6b5e" stroke="#2a3a22" stroke-width="0.9"/>
<rect x="1004.4" y="630.88" width="12.7" height="12.6" fill="#f6957c" stroke="#4a2418" stroke-width="0.9"/>
<rect x="1048.8" y="630.08" width="857.1" height="14.2" fill="#8fd3c3" stroke="#231f20" stroke-width="1"/>
<circle cx="1074.2" cy="637.18" r="4.7" fill="#231f20"/>
<path d="M1096.6 642.78 L1109.4 642.78 L1103 632.18 Z" fill="#e8262a"/>
<path d="M1113.3 642.78 L1126.1 642.78 L1119.7 632.18 Z" fill="#e8262a"/>
<rect x="1140.6" y="632.18" width="10" height="10" fill="#f5e629"/>
<rect x="1166.4" y="632.18" width="10" height="10" fill="#f5e629"/>
<rect x="1192.2" y="632.18" width="10" height="10" fill="#f5e629"/>
<rect x="1218" y="632.18" width="10" height="10" fill="#f5e629"/>
<rect x="1256.4" y="632.18" width="10" height="10" fill="#f5e629"/>
<rect x="1282.2" y="632.18" width="10" height="10" fill="#f5e629"/>
<rect x="1305.8" y="632.18" width="10" height="10" fill="#f5e629"/>
<rect x="1326.1" y="632.18" width="10" height="10" fill="#f5e629"/>
<rect x="1357.8" y="632.18" width="10" height="10" fill="#f5e629"/>
<rect x="1391.4" y="632.18" width="10" height="10" fill="#f5e629"/>
<rect x="1435.8" y="632.18" width="10" height="10" fill="#f5e629"/>
<rect x="1476.1" y="632.18" width="10" height="10" fill="#f5e629"/>
<line x1="1906.4" y1="637.18" x2="1918.9" y2="637.18" stroke="#2478bd" stroke-width="1.6"/>
<path d="M1926.9 637.18 L1913.9 631.98 L1917.4 637.18 L1913.9 642.38 Z" fill="#2478bd"/>
<text text-anchor="end" transform="translate(949.6 654.5) rotate(-90)">Patient ID</text>
<text text-anchor="end" transform="translate(979.2 654.5) rotate(-90)">Clinical trial</text>
<text text-anchor="end" transform="translate(996.5 654.5) rotate(-90)">Treatment arm</text>
<text text-anchor="end" transform="translate(1018.5 654.5) rotate(-90)"><tspan font-style="italic">ARID1A</tspan> mut</text>
<text x="1047.8" y="773.4" textLength="124" lengthAdjust="spacingAndGlyphs">Patient group</text>
<rect x="1049.6" y="786.3" width="17.6" height="17.6" fill="#9dc3e2" stroke="#1d2733" stroke-width="1.1"/>
<text x="1078" y="801.6" textLength="216" lengthAdjust="spacingAndGlyphs"><tspan font-style="italic">PPP2R1A</tspan> and <tspan font-style="italic">AKT</tspan> WT</text>
<rect x="1049.6" y="812.6" width="17.6" height="17.6" fill="#fdc689" stroke="#1d2733" stroke-width="1.1"/>
<text x="1078" y="827.6" textLength="133" lengthAdjust="spacingAndGlyphs"><tspan font-style="italic">PPP2R1A</tspan> mut</text>
<rect x="1049.6" y="838.6" width="17.6" height="17.6" fill="#8fd3c3" stroke="#1d2733" stroke-width="1.1"/>
<text x="1078" y="854" textLength="81" lengthAdjust="spacingAndGlyphs"><tspan font-style="italic">AKT</tspan> mut</text>
<text x="1310.7" y="773.4" textLength="106" lengthAdjust="spacingAndGlyphs">Clinical trial</text>
<rect x="1311.6" y="787.5" width="17.6" height="17.6" fill="#6aaddb" stroke="#1d2733" stroke-width="1.1"/>
<text x="1337.3" y="803.4" textLength="133.5" lengthAdjust="spacingAndGlyphs">NCT03026062</text>
<rect x="1311.6" y="812.8" width="17.6" height="17.6" fill="#1f3a7a" stroke="#1d2733" stroke-width="1.1"/>
<text x="1337.3" y="829.2" textLength="133.5" lengthAdjust="spacingAndGlyphs">NCT01928394</text>
<text x="1504.7" y="773.4" textLength="134.5" lengthAdjust="spacingAndGlyphs">Treatment arm</text>
<rect x="1508.4" y="786" width="17.6" height="17.6" fill="#b3dc8c" stroke="#1d2733" stroke-width="1.1"/>
<text x="1534.9" y="801.5" textLength="118" lengthAdjust="spacingAndGlyphs">Combination</text>
<rect x="1508.4" y="812" width="17.6" height="17.6" fill="#0f6b5e" stroke="#1d2733" stroke-width="1.1"/>
<text x="1534.9" y="827.7" textLength="98" lengthAdjust="spacingAndGlyphs">Sequential</text>
<text x="1690.4" y="773.4" textLength="114.5" lengthAdjust="spacingAndGlyphs"><tspan font-style="italic">ARID1A</tspan> mut</text>
<rect x="1693.5" y="786" width="17.6" height="17.6" fill="#f6957c" stroke="#1d2733" stroke-width="1.1"/>
<text x="1722.4" y="801.3">Yes</text>
<rect x="1693.5" y="812" width="17.6" height="17.6" fill="#9a3a22" stroke="#1d2733" stroke-width="1.1"/>
<text x="1722.4" y="827">No</text>
<text x="1829.5" y="773.4" textLength="284" lengthAdjust="spacingAndGlyphs">Overall response and outcome</text>
<path d="M1831.75 802.85 L1846.25 802.85 L1839 790.35 Z" fill="#e8262a"/>
<text x="1857.7" y="802.2">PD</text>
<circle cx="1839" cy="821.8" r="7.2" fill="#231f20"/>
<text x="1857.7" y="828.4">SD</text>
<rect x="1832" y="841.3" width="14.4" height="14.4" fill="#f5e629"/>
<text x="1857.7" y="854.6">PR</text>
<path d="M1914.2 795.8 L1921.2 788.8 L1928.2 795.8 L1921.2 802.8 Z" fill="#16833f"/>
<text x="1937.5" y="801.6">CR</text>
<line x1="1914.95" y1="821.8" x2="1927.45" y2="821.8" stroke="#000" stroke-width="2"/>
<line x1="1921.2" y1="815.55" x2="1921.2" y2="828.05" stroke="#000" stroke-width="2"/>
<text x="1937.5" y="827.6">Death</text>
<line x1="1913" y1="846.6" x2="1922.5" y2="846.6" stroke="#2478bd" stroke-width="1.6"/>
<path d="M1930.5 846.6 L1917.5 841.4 L1921 846.6 L1917.5 851.8 Z" fill="#2478bd"/>
<text x="1938.5" y="852.3" textLength="171.5" lengthAdjust="spacingAndGlyphs">Ongoing follow-up</text>
</g>
<g id="panel-c">
<text x="0.8" y="914.6" font-size="33" font-weight="bold" textLength="19.82" lengthAdjust="spacingAndGlyphs" stroke="#231f20" stroke-width="1.1" stroke-linejoin="round">c</text>
<path d="M197.6 944.3 L197.6 1181.6 L633.2 1181.6" fill="none" stroke="#231f20" stroke-width="1.4"/>
<line x1="190.3" y1="954.4" x2="197.6" y2="954.4" stroke="#231f20" stroke-width="1.3"/>
<text x="183" y="961.6" text-anchor="end">1.00</text>
<line x1="190.3" y1="1008.4" x2="197.6" y2="1008.4" stroke="#231f20" stroke-width="1.3"/>
<text x="183" y="1015.6" text-anchor="end">0.75</text>
<line x1="190.3" y1="1062.4" x2="197.6" y2="1062.4" stroke="#231f20" stroke-width="1.3"/>
<text x="183" y="1069.6" text-anchor="end">0.50</text>
<line x1="190.3" y1="1116.4" x2="197.6" y2="1116.4" stroke="#231f20" stroke-width="1.3"/>
<text x="183" y="1123.6" text-anchor="end">0.25</text>
<line x1="190.3" y1="1170.4" x2="197.6" y2="1170.4" stroke="#231f20" stroke-width="1.3"/>
<text x="183" y="1177.6" text-anchor="end">0</text>
<line x1="219.6" y1="1181.6" x2="219.6" y2="1188.9" stroke="#231f20" stroke-width="1.3"/>
<text x="219.6" y="1212.9" text-anchor="middle">0</text>
<line x1="284.22" y1="1181.6" x2="284.22" y2="1188.9" stroke="#231f20" stroke-width="1.3"/>
<text x="284.22" y="1212.9" text-anchor="middle">12</text>
<line x1="348.84" y1="1181.6" x2="348.84" y2="1188.9" stroke="#231f20" stroke-width="1.3"/>
<text x="348.84" y="1212.9" text-anchor="middle">24</text>
<line x1="413.46" y1="1181.6" x2="413.46" y2="1188.9" stroke="#231f20" stroke-width="1.3"/>
<text x="413.46" y="1212.9" text-anchor="middle">36</text>
<line x1="478.08" y1="1181.6" x2="478.08" y2="1188.9" stroke="#231f20" stroke-width="1.3"/>
<text x="478.08" y="1212.9" text-anchor="middle">48</text>
<line x1="542.7" y1="1181.6" x2="542.7" y2="1188.9" stroke="#231f20" stroke-width="1.3"/>
<text x="542.7" y="1212.9" text-anchor="middle">60</text>
<line x1="607.32" y1="1181.6" x2="607.32" y2="1188.9" stroke="#231f20" stroke-width="1.3"/>
<text x="607.32" y="1212.9" text-anchor="middle">72</text>
<text text-anchor="middle" textLength="176" lengthAdjust="spacingAndGlyphs" transform="translate(120.4 1062.5) rotate(-90)">Survival probability</text>
<text x="415.7" y="1247.9" text-anchor="middle" textLength="347" lengthAdjust="spacingAndGlyphs">Time after study registration (months)</text>
<text x="420.5" y="1277.5" text-anchor="middle" textLength="173.5" lengthAdjust="spacingAndGlyphs">No. at risk (events)</text>
<path d="M219.6 954.4 L224.45 954.4 L224.45 963.79 L226.39 963.79 L226.39 973.18 L230.26 973.18 L230.26 991.97 L235.75 991.97 L235.75 1001.36 L239.52 1001.36 L239.52 1020.14 L245.29 1020.14 L245.29 1038.92 L251.8 1038.92 L251.8 1048.31 L254.33 1048.31 L254.33 1057.7 L268.93 1057.7 L268.93 1067.1 L289.61 1067.1 L289.61 1076.49 L296.07 1076.49 L296.07 1085.88 L301.45 1085.88 L301.45 1095.27 L308.45 1095.27 L308.45 1104.66 L434.46 1104.66 L434.46 1117.81 L444.15 1117.81 L444.15 1135.34 L556.7 1135.34" fill="none" stroke="#7fb0d6" stroke-width="3" stroke-linejoin="miter"/>
<path d="M219.6 954.4 L236.83 954.4 L236.83 974.04 L251.1 974.04 L251.1 993.67 L274.53 993.67 L274.53 1015.76 L330.53 1015.76 L330.53 1037.85 L372.26 1037.85 L372.26 1059.95 L579.86 1059.95 L579.86 1115.17 L601.93 1115.17" fill="none" stroke="#f4b266" stroke-width="3" stroke-dasharray="8.5 8.5" stroke-linejoin="miter"/>
<line x1="335.92" y1="1099.46" x2="335.92" y2="1109.86" stroke="#7fb0d6" stroke-width="1.3"/>
<line x1="408.07" y1="1099.46" x2="408.07" y2="1109.86" stroke="#7fb0d6" stroke-width="1.3"/>
<line x1="442.54" y1="1112.61" x2="442.54" y2="1123.01" stroke="#7fb0d6" stroke-width="1.3"/>
<line x1="445.23" y1="1130.14" x2="445.23" y2="1140.54" stroke="#7fb0d6" stroke-width="1.3"/>
<line x1="552.93" y1="1130.14" x2="552.93" y2="1140.54" stroke="#7fb0d6" stroke-width="1.3"/>
<line x1="264.83" y1="988.47" x2="264.83" y2="998.87" stroke="#f4b266" stroke-width="1.3"/>
<line x1="259.83" y1="993.67" x2="269.83" y2="993.67" stroke="#f4b266" stroke-width="3"/>
<line x1="387.07" y1="1054.75" x2="387.07" y2="1065.15" stroke="#f4b266" stroke-width="1.3"/>
<line x1="382.07" y1="1059.95" x2="392.07" y2="1059.95" stroke="#f4b266" stroke-width="3"/>
<line x1="462.46" y1="1054.75" x2="462.46" y2="1065.15" stroke="#f4b266" stroke-width="1.3"/>
<line x1="457.46" y1="1059.95" x2="467.46" y2="1059.95" stroke="#f4b266" stroke-width="3"/>
<line x1="478.62" y1="1054.75" x2="478.62" y2="1065.15" stroke="#f4b266" stroke-width="1.3"/>
<line x1="473.62" y1="1059.95" x2="483.62" y2="1059.95" stroke="#f4b266" stroke-width="3"/>
<line x1="597.09" y1="1109.97" x2="597.09" y2="1120.37" stroke="#f4b266" stroke-width="1.3"/>
<line x1="592.09" y1="1115.17" x2="602.09" y2="1115.17" stroke="#f4b266" stroke-width="3"/>
<line x1="398.9" y1="915.7" x2="428.6" y2="915.7" stroke="#7fb0d6" stroke-width="3"/>
<line x1="398.9" y1="946" x2="428.6" y2="946" stroke="#f4b266" stroke-width="3" stroke-dasharray="8 4"/>
<text x="438.6" y="923.9"><tspan font-style="italic">PPP2R1A</tspan> WT</text>
<text x="438.6" y="955"><tspan font-style="italic">PPP2R1A</tspan> mut</text>
<text x="397.5" y="981" textLength="291.5" lengthAdjust="spacingAndGlyphs">Median 9.2 versus 66.9 months</text>
<text x="397.5" y="1009.6"><tspan font-style="italic">P</tspan> = 0.031</text>
<line x1="202.5" y1="1288.7" x2="639.3" y2="1288.7" stroke="#231f20" stroke-width="1.3"/>
<text x="191.8" y="1313.7" text-anchor="end"><tspan font-style="italic">PPP2R1A</tspan> WT</text>
<text x="191.8" y="1341.6" text-anchor="end"><tspan font-style="italic">PPP2R1A</tspan> mut</text>
<text x="219.6" y="1313.7" text-anchor="middle">23</text>
<text x="219.6" y="1341.6" text-anchor="middle">11</text>
<text x="284.22" y="1313.7" text-anchor="middle">11</text>
<text x="284.22" y="1341.6" text-anchor="middle">7</text>
<text x="348.84" y="1313.7" text-anchor="middle">6</text>
<text x="348.84" y="1341.6" text-anchor="middle">6</text>
<text x="413.46" y="1313.7" text-anchor="middle">5</text>
<text x="413.46" y="1341.6" text-anchor="middle">4</text>
<text x="478.08" y="1313.7" text-anchor="middle">1</text>
<text x="478.08" y="1341.6" text-anchor="middle">3</text>
<text x="542.7" y="1313.7" text-anchor="middle">1</text>
<text x="542.7" y="1341.6" text-anchor="middle">2</text>
<text x="607.32" y="1313.7" text-anchor="middle">0</text>
<text x="607.32" y="1341.6" text-anchor="middle">0</text>
</g><g id="panel-d">
<text x="796.3" y="914.8" font-size="33" font-weight="bold" textLength="21.78" lengthAdjust="spacingAndGlyphs" stroke="#231f20" stroke-width="1.1" stroke-linejoin="round">d</text>
<path d="M937.6 944.3 L937.6 1181.6 L1411.4 1181.6" fill="none" stroke="#231f20" stroke-width="1.4"/>
<line x1="930.3" y1="954.4" x2="937.6" y2="954.4" stroke="#231f20" stroke-width="1.3"/>
<text x="922.9" y="961.6" text-anchor="end">1.00</text>
<line x1="930.3" y1="1008.4" x2="937.6" y2="1008.4" stroke="#231f20" stroke-width="1.3"/>
<text x="922.9" y="1015.6" text-anchor="end">0.75</text>
<line x1="930.3" y1="1062.4" x2="937.6" y2="1062.4" stroke="#231f20" stroke-width="1.3"/>
<text x="922.9" y="1069.6" text-anchor="end">0.50</text>
<line x1="930.3" y1="1116.4" x2="937.6" y2="1116.4" stroke="#231f20" stroke-width="1.3"/>
<text x="922.9" y="1123.6" text-anchor="end">0.25</text>
<line x1="930.3" y1="1170.4" x2="937.6" y2="1170.4" stroke="#231f20" stroke-width="1.3"/>
<text x="922.9" y="1177.6" text-anchor="end">0</text>
<line x1="959.3" y1="1181.6" x2="959.3" y2="1188.9" stroke="#231f20" stroke-width="1.3"/>
<text x="959.3" y="1212.9" text-anchor="middle">0</text>
<line x1="1045.44" y1="1181.6" x2="1045.44" y2="1188.9" stroke="#231f20" stroke-width="1.3"/>
<text x="1045.44" y="1212.9" text-anchor="middle">12</text>
<line x1="1131.57" y1="1181.6" x2="1131.57" y2="1188.9" stroke="#231f20" stroke-width="1.3"/>
<text x="1131.57" y="1212.9" text-anchor="middle">24</text>
<line x1="1217.71" y1="1181.6" x2="1217.71" y2="1188.9" stroke="#231f20" stroke-width="1.3"/>
<text x="1217.71" y="1212.9" text-anchor="middle">36</text>
<line x1="1303.84" y1="1181.6" x2="1303.84" y2="1188.9" stroke="#231f20" stroke-width="1.3"/>
<text x="1303.84" y="1212.9" text-anchor="middle">48</text>
<line x1="1389.98" y1="1181.6" x2="1389.98" y2="1188.9" stroke="#231f20" stroke-width="1.3"/>
<text x="1389.98" y="1212.9" text-anchor="middle">60</text>
<text text-anchor="middle" textLength="176" lengthAdjust="spacingAndGlyphs" transform="translate(860.4 1062.5) rotate(-90)">Survival probability</text>
<text x="1174.6" y="1247.9" text-anchor="middle" textLength="347" lengthAdjust="spacingAndGlyphs">Time after study registration (months)</text>
<text x="1174.6" y="1277.5" text-anchor="middle" textLength="173.5" lengthAdjust="spacingAndGlyphs">No. at risk (events)</text>
<path d="M959.3 954.4 L966.4 954.4 L966.4 985.26 L986.1 985.26 L986.1 1016.11 L993.7 1016.11 L993.7 1046.97 L995.5 1046.97 L995.5 1077.83 L1053.3 1077.83 L1053.3 1108.69 L1068.8 1108.69 L1068.8 1139.54 L1077.7 1139.54 L1077.7 1170.4" fill="none" stroke="#7fb0d6" stroke-width="3" stroke-linejoin="miter"/>
<path d="M959.3 954.4 L966.9 954.4 L966.9 967.9 L973.7 967.9 L973.7 994.9 L980.5 994.9 L980.5 1008.4 L987.1 1008.4 L987.1 1021.9 L1003.3 1021.9 L1003.3 1035.4 L1006.8 1035.4 L1006.8 1048.9 L1025.8 1048.9 L1025.8 1062.4 L1062.5 1062.4 L1062.5 1075.9 L1244.3 1075.9 L1244.3 1094.8 L1258.6 1094.8 L1258.6 1120 L1406.8 1120" fill="none" stroke="#f4b266" stroke-width="3" stroke-dasharray="8.5 8.5" stroke-linejoin="miter"/>
<line x1="1114.6" y1="1070.7" x2="1114.6" y2="1081.1" stroke="#f4b266" stroke-width="1.3"/>
<line x1="1109.6" y1="1075.9" x2="1119.6" y2="1075.9" stroke="#f4b266" stroke-width="3"/>
<line x1="1210.4" y1="1070.7" x2="1210.4" y2="1081.1" stroke="#f4b266" stroke-width="1.3"/>
<line x1="1205.4" y1="1075.9" x2="1215.4" y2="1075.9" stroke="#f4b266" stroke-width="3"/>
<line x1="1256" y1="1089.6" x2="1256" y2="1100" stroke="#f4b266" stroke-width="1.3"/>
<line x1="1251" y1="1094.8" x2="1261" y2="1094.8" stroke="#f4b266" stroke-width="3"/>
<line x1="1261.2" y1="1114.8" x2="1261.2" y2="1125.2" stroke="#f4b266" stroke-width="1.3"/>
<line x1="1256.2" y1="1120" x2="1266.2" y2="1120" stroke="#f4b266" stroke-width="3"/>
<line x1="1403.2" y1="1114.8" x2="1403.2" y2="1125.2" stroke="#f4b266" stroke-width="1.3"/>
<line x1="1398.2" y1="1120" x2="1408.2" y2="1120" stroke="#f4b266" stroke-width="3"/>
<line x1="1170" y1="915.7" x2="1199.6" y2="915.7" stroke="#7fb0d6" stroke-width="3"/>
<line x1="1170" y1="946" x2="1199.6" y2="946" stroke="#f4b266" stroke-width="3" stroke-dasharray="8 4"/>
<text x="1211" y="921.2"><tspan font-style="italic">ARID1A</tspan> WT</text>
<text x="1211" y="953.2"><tspan font-style="italic">ARID1A</tspan> mut</text>
<text x="1170.4" y="989.6" textLength="279" lengthAdjust="spacingAndGlyphs">Median 5.1 versus 9.2 months</text>
<text x="1170.4" y="1017.5"><tspan font-style="italic">P</tspan> = 0.055</text>
<line x1="937.6" y1="1288.7" x2="1411.4" y2="1288.7" stroke="#231f20" stroke-width="1.3"/>
<text x="925.7" y="1313.7" text-anchor="end"><tspan font-style="italic">ARID1A</tspan> WT</text>
<text x="925.7" y="1341.6" text-anchor="end"><tspan font-style="italic">ARID1A</tspan> mut</text>
<text x="961.3" y="1313.7" text-anchor="middle">7</text>
<text x="961.3" y="1341.6" text-anchor="middle">16</text>
<text x="1044.6" y="1313.7" text-anchor="middle">3</text>
<text x="1044.6" y="1341.6" text-anchor="middle">8</text>
<text x="1127.5" y="1313.7" text-anchor="middle">0</text>
<text x="1127.5" y="1341.6" text-anchor="middle">6</text>
<text x="1212.5" y="1313.7" text-anchor="middle">0</text>
<text x="1212.5" y="1341.6" text-anchor="middle">5</text>
<text x="1296.8" y="1313.7" text-anchor="middle">0</text>
<text x="1296.8" y="1341.6" text-anchor="middle">1</text>
<text x="1380.7" y="1313.7" text-anchor="middle">0</text>
<text x="1380.7" y="1341.6" text-anchor="middle">1</text>
</g><g id="panel-e">
<text x="1537.8" y="914.6" font-size="33" font-weight="bold" textLength="19.82" lengthAdjust="spacingAndGlyphs" stroke="#231f20" stroke-width="1.1" stroke-linejoin="round">e</text>
<path d="M1694.6 944.3 L1694.6 1181.6 L2128.4 1181.6" fill="none" stroke="#231f20" stroke-width="1.4"/>
<line x1="1687.3" y1="954.4" x2="1694.6" y2="954.4" stroke="#231f20" stroke-width="1.3"/>
<text x="1679.8" y="961.6" text-anchor="end">1.00</text>
<line x1="1687.3" y1="1008.4" x2="1694.6" y2="1008.4" stroke="#231f20" stroke-width="1.3"/>
<text x="1679.8" y="1015.6" text-anchor="end">0.75</text>
<line x1="1687.3" y1="1062.4" x2="1694.6" y2="1062.4" stroke="#231f20" stroke-width="1.3"/>
<text x="1679.8" y="1069.6" text-anchor="end">0.50</text>
<line x1="1687.3" y1="1116.4" x2="1694.6" y2="1116.4" stroke="#231f20" stroke-width="1.3"/>
<text x="1679.8" y="1123.6" text-anchor="end">0.25</text>
<line x1="1687.3" y1="1170.4" x2="1694.6" y2="1170.4" stroke="#231f20" stroke-width="1.3"/>
<text x="1679.8" y="1177.6" text-anchor="end">0</text>
<line x1="1716" y1="1181.6" x2="1716" y2="1188.9" stroke="#231f20" stroke-width="1.3"/>
<text x="1716" y="1212.9" text-anchor="middle">0</text>
<line x1="1780.68" y1="1181.6" x2="1780.68" y2="1188.9" stroke="#231f20" stroke-width="1.3"/>
<text x="1780.68" y="1212.9" text-anchor="middle">12</text>
<line x1="1845.36" y1="1181.6" x2="1845.36" y2="1188.9" stroke="#231f20" stroke-width="1.3"/>
<text x="1845.36" y="1212.9" text-anchor="middle">24</text>
<line x1="1910.04" y1="1181.6" x2="1910.04" y2="1188.9" stroke="#231f20" stroke-width="1.3"/>
<text x="1910.04" y="1212.9" text-anchor="middle">36</text>
<line x1="1974.72" y1="1181.6" x2="1974.72" y2="1188.9" stroke="#231f20" stroke-width="1.3"/>
<text x="1974.72" y="1212.9" text-anchor="middle">48</text>
<line x1="2039.4" y1="1181.6" x2="2039.4" y2="1188.9" stroke="#231f20" stroke-width="1.3"/>
<text x="2039.4" y="1212.9" text-anchor="middle">60</text>
<line x1="2104.08" y1="1181.6" x2="2104.08" y2="1188.9" stroke="#231f20" stroke-width="1.3"/>
<text x="2104.08" y="1212.9" text-anchor="middle">72</text>
<text text-anchor="middle" textLength="176" lengthAdjust="spacingAndGlyphs" transform="translate(1617.1 1062.5) rotate(-90)">Survival probability</text>
<text x="1911.8" y="1247.9" text-anchor="middle" textLength="347" lengthAdjust="spacingAndGlyphs">Time after study registration (months)</text>
<text x="1911.8" y="1277.5" text-anchor="middle" textLength="173.5" lengthAdjust="spacingAndGlyphs">No. at risk (events)</text>
<path d="M1716 954.4 L1722.7 954.4 L1722.7 967.9 L1726.9 967.9 L1726.9 994.9 L1732.5 994.9 L1732.5 1008.4 L1737.5 1008.4 L1737.5 1021.9 L1749 1021.9 L1749 1035.4 L1751.4 1035.4 L1751.4 1048.9 L1765.5 1048.9 L1765.5 1062.4 L1793.6 1062.4 L1793.6 1075.9 L1931.1 1075.9 L1931.1 1094.8 L1941 1094.8 L1941 1120 L2053 1120" fill="none" stroke="#7fb0d6" stroke-width="3" stroke-linejoin="miter"/>
<path d="M1716 954.4 L1747.4 954.4 L1747.4 978.4 L1771.1 978.4 L1771.1 1005.83 L1826.6 1005.83 L1826.6 1033.26 L2076.6 1033.26 L2076.6 1101.83 L2098.7 1101.83" fill="none" stroke="#f4b266" stroke-width="3" stroke-dasharray="8.5 8.5" stroke-linejoin="miter"/>
<line x1="1833.2" y1="1070.7" x2="1833.2" y2="1081.1" stroke="#7fb0d6" stroke-width="1.3"/>
<line x1="1905.1" y1="1070.7" x2="1905.1" y2="1081.1" stroke="#7fb0d6" stroke-width="1.3"/>
<line x1="1938.7" y1="1089.6" x2="1938.7" y2="1100" stroke="#7fb0d6" stroke-width="1.3"/>
<line x1="1942.2" y1="1114.8" x2="1942.2" y2="1125.2" stroke="#7fb0d6" stroke-width="1.3"/>
<line x1="2049.2" y1="1114.8" x2="2049.2" y2="1125.2" stroke="#7fb0d6" stroke-width="1.3"/>
<line x1="1762.2" y1="973.2" x2="1762.2" y2="983.6" stroke="#f4b266" stroke-width="1.3"/>
<line x1="1757.2" y1="978.4" x2="1767.2" y2="978.4" stroke="#f4b266" stroke-width="3"/>
<line x1="1883.3" y1="1028.06" x2="1883.3" y2="1038.46" stroke="#f4b266" stroke-width="1.3"/>
<line x1="1878.3" y1="1033.26" x2="1888.3" y2="1033.26" stroke="#f4b266" stroke-width="3"/>
<line x1="1958.5" y1="1028.06" x2="1958.5" y2="1038.46" stroke="#f4b266" stroke-width="1.3"/>
<line x1="1953.5" y1="1033.26" x2="1963.5" y2="1033.26" stroke="#f4b266" stroke-width="3"/>
<line x1="1975" y1="1028.06" x2="1975" y2="1038.46" stroke="#f4b266" stroke-width="1.3"/>
<line x1="1970" y1="1033.26" x2="1980" y2="1033.26" stroke="#f4b266" stroke-width="3"/>
<line x1="2094.7" y1="1096.63" x2="2094.7" y2="1107.03" stroke="#f4b266" stroke-width="1.3"/>
<line x1="2089.7" y1="1101.83" x2="2099.7" y2="1101.83" stroke="#f4b266" stroke-width="3"/>
<line x1="1868.8" y1="915.6" x2="1899.1" y2="915.6" stroke="#7fb0d6" stroke-width="3"/>
<line x1="1868.8" y1="945.2" x2="1899.1" y2="945.2" stroke="#f4b266" stroke-width="3" stroke-dasharray="8 4"/>
<text x="1909" y="922.9"><tspan font-style="italic">PPP2R1A</tspan> WT</text>
<text x="1909" y="953.2"><tspan font-style="italic">PPP2R1A</tspan> mut</text>
<text x="1873.4" y="980" textLength="291.5" lengthAdjust="spacingAndGlyphs">Median 9.2 versus 66.9 months</text>
<text x="1873.4" y="1008"><tspan font-style="italic">P</tspan> = 0.047</text>
<line x1="1694.6" y1="1288.7" x2="2128.4" y2="1288.7" stroke="#231f20" stroke-width="1.3"/>
<text x="1685.4" y="1313.7" text-anchor="end"><tspan font-style="italic">PPP2R1A</tspan> WT</text>
<text x="1685.4" y="1341.6" text-anchor="end"><tspan font-style="italic">PPP2R1A</tspan> mut</text>
<text x="1716" y="1313.7" text-anchor="middle">16</text>
<text x="1716" y="1341.6" text-anchor="middle">9</text>
<text x="1780.68" y="1313.7" text-anchor="middle">8</text>
<text x="1780.68" y="1341.6" text-anchor="middle">6</text>
<text x="1845.36" y="1313.7" text-anchor="middle">6</text>
<text x="1845.36" y="1341.6" text-anchor="middle">5</text>
<text x="1910.04" y="1313.7" text-anchor="middle">5</text>
<text x="1910.04" y="1341.6" text-anchor="middle">4</text>
<text x="1974.72" y="1313.7" text-anchor="middle">1</text>
<text x="1974.72" y="1341.6" text-anchor="middle">3</text>
<text x="2039.4" y="1313.7" text-anchor="middle">1</text>
<text x="2039.4" y="1341.6" text-anchor="middle">2</text>
<text x="2104.08" y="1313.7" text-anchor="middle">0</text>
<text x="2104.08" y="1341.6" text-anchor="middle">0</text>
</g>
<g id="panel-f">
<defs><filter id="ctblur" x="-5%" y="-5%" width="110%" height="110%"><feGaussianBlur stdDeviation="6.5"/><feComponentTransfer><feFuncR type="gamma" exponent="1.22"/><feFuncG type="gamma" exponent="1.22"/><feFuncB type="gamma" exponent="1.22"/></feComponentTransfer></filter><filter id="ctgrain" x="0" y="0" width="100%" height="100%"><feTurbulence type="fractalNoise" baseFrequency="0.085" numOctaves="2" seed="4" result="n"/><feColorMatrix in="n" type="matrix" values="1.3 0 0 0 -0.17  1.3 0 0 0 -0.17  1.3 0 0 0 -0.17  0 0 0 0 1" result="g"/><feComposite in="g" in2="SourceGraphic" operator="in"/></filter></defs>
<text x="-0.3" y="1408.4" font-size="33" font-weight="bold" textLength="11.87" lengthAdjust="spacingAndGlyphs" stroke="#231f20" stroke-width="1.1" stroke-linejoin="round">f</text>
<g transform="translate(20 1385) scale(0.15)">
<clipPath id="ctc1"><rect x="33" y="55" width="1767" height="1760"/></clipPath>
<rect x="33" y="55" width="1767" height="1760" fill="#000"/>
<g clip-path="url(#ctc1)"><g filter="url(#ctblur)">
<path d="M240 55 L270 250 L300 420 L250 600 L225 800 L215 1100 L205 1300 L200 1500 L215 1815 L1640 1815 L1600 1500 L1560 1250 L1520 1100 L1510 900 L1560 750 L1555 600 L1480 420 L1500 250 L1590 120 L1600 55 Z" fill="#353535"/>
<path d="M330 55 L360 300 L390 600 L340 900 L360 1150 L300 1400 L330 1815 L1520 1815 L1500 1400 L1400 1150 L1420 800 L1400 500 L1340 300 L1330 55 Z" fill="#494949"/>
<path d="M470 55 L800 55 L800 120 L600 150 L480 230 L440 180 Z" fill="#000"/>
<path d="M1225 55 L1310 55 L1335 200 L1250 215 Z" fill="#000"/>
<path d="M430 250 L600 150 L850 170 L1000 250 L1250 230 L1340 330 L1385 700 L1330 1100 L1200 1250 L1100 1400 L1050 1600 L740 1600 L680 1350 L520 1200 L430 1000 L405 700 Z" fill="#5e5e5e"/>
<path d="M420 260 L600 150 L850 180 L960 300 L800 480 L660 520 L450 660 L410 450 Z" fill="#8e8e8e"/>
<path d="M800 55 L1220 55 L1250 200 L1100 290 L900 200 Z" fill="#909090"/>
<ellipse cx="540" cy="900" rx="115" ry="200" fill="#3c3c3c"/>
<ellipse cx="560" cy="980" rx="60" ry="80" fill="#606060"/>
<ellipse cx="940" cy="1010" rx="150" ry="140" fill="#474747"/>
<ellipse cx="1200" cy="700" rx="90" ry="70" fill="#989898"/>
<ellipse cx="1250" cy="900" rx="75" ry="105" fill="#9c9c9c"/>
<ellipse cx="1180" cy="560" rx="70" ry="50" fill="#8a8a8a"/>
<ellipse cx="620" cy="620" rx="70" ry="50" fill="#7c7c7c"/>
<ellipse cx="567.04" cy="979.63" rx="9.77" ry="10.65" fill="#0c0c0c"/>
<ellipse cx="592.78" cy="1042.81" rx="5.17" ry="7.79" fill="#0c0c0c"/>
<ellipse cx="637.54" cy="947.14" rx="10.41" ry="5.68" fill="#0c0c0c"/>
<ellipse cx="533.2" cy="806.3" rx="8.26" ry="8.44" fill="#0c0c0c"/>
<ellipse cx="432.89" cy="795.86" rx="6.68" ry="10.5" fill="#0c0c0c"/>
<ellipse cx="598.46" cy="775.86" rx="9.78" ry="5.83" fill="#0c0c0c"/>
<ellipse cx="565.84" cy="764.34" rx="5.01" ry="10.23" fill="#0c0c0c"/>
<ellipse cx="476.08" cy="795.42" rx="10.89" ry="10.23" fill="#0c0c0c"/>
<ellipse cx="493.65" cy="1056.52" rx="8.24" ry="9.07" fill="#0c0c0c"/>
<ellipse cx="475.05" cy="1049.34" rx="9.14" ry="10.8" fill="#0c0c0c"/>
<ellipse cx="626.62" cy="824.58" rx="7.17" ry="6" fill="#0c0c0c"/>
<ellipse cx="462.05" cy="742.8" rx="6.81" ry="8.62" fill="#0c0c0c"/>
<ellipse cx="430.74" cy="957.28" rx="7.03" ry="6.86" fill="#0c0c0c"/>
<ellipse cx="610.07" cy="888.26" rx="6.89" ry="7.89" fill="#0c0c0c"/>
<ellipse cx="585.03" cy="739.95" rx="10.85" ry="5.14" fill="#0c0c0c"/>
<ellipse cx="594.95" cy="1015.71" rx="5.11" ry="9.73" fill="#0c0c0c"/>
<ellipse cx="510.56" cy="922.48" rx="5.05" ry="5.28" fill="#0c0c0c"/>
<ellipse cx="469.8" cy="1054.31" rx="6.18" ry="9.53" fill="#0c0c0c"/>
<ellipse cx="634.52" cy="1049.72" rx="7.07" ry="7.13" fill="#0c0c0c"/>
<ellipse cx="545.43" cy="991.46" rx="5.65" ry="9.49" fill="#0c0c0c"/>
<ellipse cx="605.39" cy="1020.89" rx="5.22" ry="10.67" fill="#0c0c0c"/>
<ellipse cx="450.06" cy="839.26" rx="8.66" ry="10.51" fill="#0c0c0c"/>
<ellipse cx="504.79" cy="1043.47" rx="8.27" ry="6.87" fill="#0c0c0c"/>
<ellipse cx="499.7" cy="782.12" rx="5.47" ry="5.89" fill="#0c0c0c"/>
<ellipse cx="581.62" cy="1068.85" rx="5.97" ry="5.29" fill="#0c0c0c"/>
<ellipse cx="647.07" cy="906.74" rx="7.44" ry="6.42" fill="#0c0c0c"/>
<ellipse cx="560.67" cy="1009.2" rx="7.73" ry="7.53" fill="#0c0c0c"/>
<ellipse cx="442.26" cy="1040.62" rx="5.2" ry="7.96" fill="#0c0c0c"/>
<ellipse cx="614.45" cy="765.7" rx="9.39" ry="10.7" fill="#0c0c0c"/>
<ellipse cx="568.69" cy="995.8" rx="5.64" ry="7.61" fill="#0c0c0c"/>
<ellipse cx="462.83" cy="1015.66" rx="6.77" ry="7.72" fill="#0c0c0c"/>
<ellipse cx="649.85" cy="1018.29" rx="10.86" ry="7.72" fill="#0c0c0c"/>
<ellipse cx="537.39" cy="975.33" rx="7.87" ry="6.75" fill="#0c0c0c"/>
<ellipse cx="518.83" cy="771.28" rx="7.26" ry="10.93" fill="#0c0c0c"/>
<ellipse cx="641.16" cy="939.44" rx="8" ry="7.03" fill="#0c0c0c"/>
<ellipse cx="449.61" cy="815.31" rx="9.69" ry="10.2" fill="#0c0c0c"/>
<ellipse cx="509.49" cy="995.11" rx="9.65" ry="9.17" fill="#0c0c0c"/>
<ellipse cx="576.08" cy="985.87" rx="7.18" ry="9.23" fill="#0c0c0c"/>
<ellipse cx="491.79" cy="889.99" rx="9.62" ry="9.15" fill="#0c0c0c"/>
<ellipse cx="494.65" cy="1050.94" rx="8.9" ry="8.48" fill="#0c0c0c"/>
<ellipse cx="432.55" cy="911.45" rx="6.5" ry="9.03" fill="#0c0c0c"/>
<ellipse cx="531.85" cy="1005.84" rx="8.88" ry="9.79" fill="#0c0c0c"/>
<ellipse cx="506.53" cy="945.42" rx="9.43" ry="9.97" fill="#0c0c0c"/>
<ellipse cx="507.01" cy="1015.01" rx="10.22" ry="9.13" fill="#0c0c0c"/>
<ellipse cx="644.75" cy="1054.78" rx="8.11" ry="8.18" fill="#0c0c0c"/>
<ellipse cx="466.56" cy="1012.82" rx="10.62" ry="7.86" fill="#0c0c0c"/>
<ellipse cx="582.11" cy="971.89" rx="9.38" ry="6.03" fill="#0c0c0c"/>
<ellipse cx="601.68" cy="923.3" rx="8.99" ry="7.52" fill="#0c0c0c"/>
<ellipse cx="567.22" cy="991.15" rx="8.82" ry="9.32" fill="#0c0c0c"/>
<ellipse cx="436.08" cy="776.01" rx="7.65" ry="8.9" fill="#0c0c0c"/>
<ellipse cx="478.19" cy="960.09" rx="8.79" ry="5.25" fill="#0c0c0c"/>
<ellipse cx="533.75" cy="799.18" rx="5.32" ry="5.8" fill="#0c0c0c"/>
<ellipse cx="499.82" cy="783.54" rx="6.16" ry="5.21" fill="#0c0c0c"/>
<ellipse cx="532.37" cy="853.1" rx="8.67" ry="8.54" fill="#0c0c0c"/>
<ellipse cx="482.33" cy="1036.11" rx="5" ry="7.43" fill="#0c0c0c"/>
<ellipse cx="491.28" cy="863.51" rx="5.69" ry="9.99" fill="#0c0c0c"/>
<ellipse cx="512.25" cy="732.62" rx="8.68" ry="5.57" fill="#0c0c0c"/>
<ellipse cx="549.95" cy="838.78" rx="8.49" ry="10.75" fill="#0c0c0c"/>
<ellipse cx="610.07" cy="866.69" rx="9.88" ry="8.85" fill="#0c0c0c"/>
<ellipse cx="511.28" cy="769.74" rx="8.58" ry="8.38" fill="#0c0c0c"/>
<ellipse cx="800" cy="830" rx="110" ry="80" fill="#3a3a3a"/>
<path d="M850 600 L1000 560 L1020 650 L900 720 L830 690 Z" fill="#9a9a9a"/>
<ellipse cx="1105" cy="440" rx="85" ry="95" fill="#e8e8e8"/>
<ellipse cx="1000" cy="600" rx="45" ry="40" fill="#f0f0f0"/>
<ellipse cx="1290" cy="410" rx="45" ry="60" fill="#050505"/>
<ellipse cx="680" cy="680" rx="28" ry="25.2" fill="#fafafa"/>
<ellipse cx="700" cy="740" rx="30" ry="27" fill="#fafafa"/>
<ellipse cx="650" cy="750" rx="22" ry="19.8" fill="#fafafa"/>
<ellipse cx="760" cy="760" rx="28" ry="25.2" fill="#fafafa"/>
<ellipse cx="790" cy="800" rx="22" ry="19.8" fill="#fafafa"/>
<ellipse cx="725" cy="650" rx="20" ry="18" fill="#fafafa"/>
<ellipse cx="600" cy="1140" rx="42" ry="37.8" fill="#fafafa"/>
<ellipse cx="560" cy="1180" rx="35" ry="31.5" fill="#fafafa"/>
<ellipse cx="620" cy="1230" rx="40" ry="36" fill="#fafafa"/>
<ellipse cx="690" cy="1150" rx="40" ry="36" fill="#fafafa"/>
<ellipse cx="740" cy="1110" rx="38" ry="34.2" fill="#fafafa"/>
<ellipse cx="800" cy="1050" rx="45" ry="40.5" fill="#fafafa"/>
<ellipse cx="770" cy="1000" rx="35" ry="31.5" fill="#fafafa"/>
<ellipse cx="830" cy="1100" rx="40" ry="36" fill="#fafafa"/>
<ellipse cx="700" cy="1220" rx="35" ry="31.5" fill="#fafafa"/>
<ellipse cx="760" cy="1180" rx="35" ry="31.5" fill="#fafafa"/>
<ellipse cx="850" cy="1170" rx="38" ry="34.2" fill="#fafafa"/>
<ellipse cx="900" cy="1230" rx="32" ry="28.8" fill="#fafafa"/>
<ellipse cx="960" cy="1260" rx="30" ry="27" fill="#fafafa"/>
<ellipse cx="690" cy="1300" rx="22" ry="19.8" fill="#fafafa"/>
<ellipse cx="1020" cy="1180" rx="28" ry="25.2" fill="#fafafa"/>
<ellipse cx="1100" cy="800" rx="28" ry="25.2" fill="#fafafa"/>
<ellipse cx="1150" cy="850" rx="26" ry="23.4" fill="#fafafa"/>
<ellipse cx="1140" cy="960" rx="32" ry="28.8" fill="#fafafa"/>
<ellipse cx="1170" cy="1000" rx="28" ry="25.2" fill="#fafafa"/>
<ellipse cx="1120" cy="1000" rx="24" ry="21.6" fill="#fafafa"/>
<ellipse cx="1240" cy="850" rx="26" ry="23.4" fill="#fafafa"/>
<ellipse cx="1290" cy="830" rx="26" ry="23.4" fill="#fafafa"/>
<ellipse cx="1300" cy="760" rx="22" ry="19.8" fill="#fafafa"/>
<ellipse cx="1220" cy="1060" rx="20" ry="18" fill="#fafafa"/>
<ellipse cx="800" cy="1280" rx="42" ry="38" fill="#000"/>
<ellipse cx="905" cy="1345" rx="38" ry="34" fill="#000"/>
<ellipse cx="855" cy="1320" rx="25" ry="25" fill="#000"/>
<ellipse cx="1245" cy="1040" rx="16" ry="22" fill="#000"/>
<path d="M740 1370 L1050 1370 L1060 1600 L900 1680 L740 1600 Z" fill="#5a5a5a"/>
<path d="M360 1200 L520 1260 L600 1500 L640 1815 L300 1815 L320 1450 Z" fill="#595959"/>
<path d="M1400 1180 L1240 1260 L1180 1480 L1150 1815 L1560 1815 L1480 1450 Z" fill="#595959"/>
<path d="M640 1620 L900 1700 L1150 1600 L1250 1815 L560 1815 Z" fill="#5c5c5c"/>
<ellipse cx="450" cy="1420" rx="60" ry="130" fill="#777"/>
<ellipse cx="1330" cy="1400" rx="60" ry="130" fill="#777"/>
<path d="M392 1180 Q470 1190 520 1330 T548 1460" fill="none" stroke="#fafafa" stroke-width="43.2" stroke-linecap="round" stroke-linejoin="round"/>
<path d="M392 1180 Q470 1190 520 1330 T548 1460" fill="none" stroke="#b4b4b4" stroke-width="12.96" stroke-linecap="round" stroke-linejoin="round"/>
<path d="M1375 1150 Q1290 1180 1260 1300 T1240 1420" fill="none" stroke="#fafafa" stroke-width="43.2" stroke-linecap="round" stroke-linejoin="round"/>
<path d="M1375 1150 Q1290 1180 1260 1300 T1240 1420" fill="none" stroke="#b4b4b4" stroke-width="12.96" stroke-linecap="round" stroke-linejoin="round"/>
<path d="M655 1515 Q760 1560 895 1668" fill="none" stroke="#fafafa" stroke-width="39.6" stroke-linecap="round" stroke-linejoin="round"/>
<path d="M655 1515 Q760 1560 895 1668" fill="none" stroke="#b4b4b4" stroke-width="11.88" stroke-linecap="round" stroke-linejoin="round"/>
<path d="M1155 1490 Q1040 1560 925 1668" fill="none" stroke="#fafafa" stroke-width="39.6" stroke-linecap="round" stroke-linejoin="round"/>
<path d="M1155 1490 Q1040 1560 925 1668" fill="none" stroke="#b4b4b4" stroke-width="11.88" stroke-linecap="round" stroke-linejoin="round"/>
<path d="M385 560 Q340 850 360 1100 T430 1170" fill="none" stroke="#6a6a6a" stroke-width="34" stroke-linecap="round" stroke-linejoin="round"/>
<path d="M1405 560 Q1440 800 1400 1080 T1330 1150" fill="none" stroke="#6a6a6a" stroke-width="34" stroke-linecap="round" stroke-linejoin="round"/>
<path d="M300 80 Q330 300 345 520" fill="none" stroke="#5e5e5e" stroke-width="40" stroke-linecap="round" stroke-linejoin="round"/>
<path d="M1500 80 Q1440 300 1450 520" fill="none" stroke="#5e5e5e" stroke-width="40" stroke-linecap="round" stroke-linejoin="round"/>
<path d="M560 1500 L630 1815" fill="none" stroke="#2e2e2e" stroke-width="10" stroke-linecap="round"/>
<path d="M1185 1480 L1150 1815" fill="none" stroke="#2e2e2e" stroke-width="10" stroke-linecap="round"/>
<path d="M900 1690 L900 1815" fill="none" stroke="#222" stroke-width="14" stroke-linecap="round"/>
<path d="M700 1640 L620 1815" fill="none" stroke="#2e2e2e" stroke-width="10" stroke-linecap="round"/>
<path d="M1100 1620 L1190 1815" fill="none" stroke="#2e2e2e" stroke-width="10" stroke-linecap="round"/>
<path d="M330 1250 Q300 1500 330 1815" fill="none" stroke="#303030" stroke-width="14" stroke-linecap="round"/>
<path d="M1480 1250 Q1510 1500 1500 1815" fill="none" stroke="#303030" stroke-width="14" stroke-linecap="round"/>
<path d="M745 1500 Q900 1440 1050 1500" fill="none" stroke="#3c3c3c" stroke-width="7" stroke-linecap="round"/>
<ellipse cx="458" cy="75" rx="11" ry="21" fill="#555" stroke="#f0f0f0" stroke-width="9" transform="rotate(12 458 75)"/>
<ellipse cx="440" cy="160" rx="11" ry="21" fill="#555" stroke="#f0f0f0" stroke-width="9" transform="rotate(12 440 160)"/>
<ellipse cx="400" cy="255" rx="11" ry="21" fill="#555" stroke="#f0f0f0" stroke-width="9" transform="rotate(12 400 255)"/>
<ellipse cx="392" cy="370" rx="11" ry="21" fill="#555" stroke="#f0f0f0" stroke-width="9" transform="rotate(12 392 370)"/>
<ellipse cx="390" cy="510" rx="11" ry="21" fill="#555" stroke="#f0f0f0" stroke-width="9" transform="rotate(12 390 510)"/>
<ellipse cx="1330" cy="105" rx="11" ry="21" fill="#555" stroke="#f0f0f0" stroke-width="9" transform="rotate(12 1330 105)"/>
<ellipse cx="1368" cy="500" rx="11" ry="21" fill="#555" stroke="#f0f0f0" stroke-width="9" transform="rotate(12 1368 500)"/>
</g>
<path d="M240 55 L270 250 L300 420 L250 600 L225 800 L215 1100 L205 1300 L200 1500 L215 1815 L1640 1815 L1600 1500 L1560 1250 L1520 1100 L1510 900 L1560 750 L1555 600 L1480 420 L1500 250 L1590 120 L1600 55 Z" fill="#808080" filter="url(#ctgrain)" style="mix-blend-mode:overlay" opacity="0.3"/>
</g>
<path d="M1400 228 L1294.58 262.93 L1312.89 159.13 Z" fill="#f8c84c"/>
<path d="M1318 325 L1427.88 308.91 L1391.83 407.95 Z" fill="#f8c84c"/>
</g>
<text x="31.5" y="1412.4" font-size="20.7" fill="#fff">Pt 0</text>
<g transform="translate(298 1385) scale(0.15)">
<clipPath id="ctc2"><rect x="45" y="40" width="1767" height="1762"/></clipPath>
<rect x="45" y="40" width="1767" height="1762" fill="#000"/>
<g clip-path="url(#ctc2)"><g filter="url(#ctblur)">
<path d="M330 40 L360 300 L330 600 L300 800 L340 1000 L330 1200 L330 1500 L360 1802 L1500 1802 L1560 1500 L1570 1200 L1540 900 L1560 700 L1500 450 L1470 250 L1550 40 Z" fill="#1c1c1c"/>
<path d="M400 150 L480 60 L540 40 L1380 40 L1400 300 L1450 600 L1445 900 L1380 1080 L1450 1300 L1460 1802 L370 1802 L400 1300 L430 1080 L400 800 L420 500 Z" fill="#444"/>
<path d="M540 40 L850 40 L760 110 L520 170 Z" fill="#000"/>
<path d="M1210 40 L1330 40 L1345 230 L1215 200 Z" fill="#000"/>
<path d="M470 160 L760 110 L950 130 L1000 330 L830 440 L480 490 L450 300 Z" fill="#9a9a9a"/>
<path d="M850 45 L1200 45 L1210 170 L1000 235 L900 150 Z" fill="#a0a0a0"/>
<path d="M440 520 L700 470 L850 650 L1100 600 L1350 560 L1440 700 L1430 900 L1330 1080 L1150 1200 L1060 1300 L1040 1500 L890 1580 L740 1500 L720 1250 L600 1180 L480 1050 L420 800 Z" fill="#585858"/>
<ellipse cx="1105" cy="410" rx="98" ry="100" fill="#fdfdfd"/>
<ellipse cx="1250" cy="330" rx="80" ry="110" fill="#606060"/>
<ellipse cx="510" cy="760" rx="35" ry="31.5" fill="#fafafa"/>
<ellipse cx="560" cy="800" rx="35" ry="31.5" fill="#fafafa"/>
<ellipse cx="610" cy="780" rx="30" ry="27" fill="#fafafa"/>
<ellipse cx="540" cy="830" rx="28" ry="25.2" fill="#fafafa"/>
<ellipse cx="760" cy="600" rx="30" ry="27" fill="#fafafa"/>
<ellipse cx="750" cy="800" rx="25" ry="22.5" fill="#fafafa"/>
<ellipse cx="1020" cy="700" rx="35" ry="31.5" fill="#fafafa"/>
<ellipse cx="1000" cy="750" rx="30" ry="27" fill="#fafafa"/>
<ellipse cx="1060" cy="770" rx="24" ry="21.6" fill="#fafafa"/>
<ellipse cx="910" cy="810" rx="24" ry="21.6" fill="#fafafa"/>
<ellipse cx="860" cy="900" rx="20" ry="18" fill="#fafafa"/>
<ellipse cx="860" cy="980" rx="20" ry="18" fill="#fafafa"/>
<ellipse cx="940" cy="1040" rx="22" ry="19.8" fill="#fafafa"/>
<ellipse cx="1010" cy="900" rx="22" ry="19.8" fill="#fafafa"/>
<ellipse cx="1040" cy="840" rx="20" ry="18" fill="#fafafa"/>
<ellipse cx="1000" cy="1000" rx="22" ry="19.8" fill="#fafafa"/>
<ellipse cx="850" cy="1120" rx="28" ry="25.2" fill="#fafafa"/>
<ellipse cx="880" cy="1210" rx="26" ry="23.4" fill="#fafafa"/>
<ellipse cx="1035" cy="1270" rx="26" ry="23.4" fill="#fafafa"/>
<ellipse cx="1100" cy="1090" rx="22" ry="19.8" fill="#fafafa"/>
<ellipse cx="720" cy="910" rx="40" ry="14" fill="#eee" transform="rotate(-30 720 910)"/>
<path d="M390 1100 L600 1200 L700 1450 L800 1802 L370 1802 Z" fill="#666"/>
<path d="M1450 1100 L1200 1200 L1080 1450 L1000 1802 L1460 1802 Z" fill="#666"/>
<path d="M800 1600 L1000 1600 L1000 1802 L800 1802 Z" fill="#0a0a0a"/>
<path d="M430 1092 Q520 1150 580 1300 T690 1440" fill="none" stroke="#fafafa" stroke-width="39.6" stroke-linecap="round" stroke-linejoin="round"/>
<path d="M430 1092 Q520 1150 580 1300 T690 1440" fill="none" stroke="#b4b4b4" stroke-width="11.88" stroke-linecap="round" stroke-linejoin="round"/>
<path d="M1345 1090 Q1250 1150 1210 1290 T1100 1440" fill="none" stroke="#fafafa" stroke-width="39.6" stroke-linecap="round" stroke-linejoin="round"/>
<path d="M1345 1090 Q1250 1150 1210 1290 T1100 1440" fill="none" stroke="#b4b4b4" stroke-width="11.88" stroke-linecap="round" stroke-linejoin="round"/>
<circle cx="610" cy="1452" r="50" fill="#b5b5b5" stroke="#f8f8f8" stroke-width="20"/>
<circle cx="1180" cy="1442" r="50" fill="#b5b5b5" stroke="#f8f8f8" stroke-width="20"/>
<path d="M800 1530 L850 1590" fill="none" stroke="#fafafa" stroke-width="25.2" stroke-linecap="round" stroke-linejoin="round"/>
<path d="M800 1530 L850 1590" fill="none" stroke="#b4b4b4" stroke-width="7.56" stroke-linecap="round" stroke-linejoin="round"/>
<path d="M990 1530 L950 1590" fill="none" stroke="#fafafa" stroke-width="25.2" stroke-linecap="round" stroke-linejoin="round"/>
<path d="M990 1530 L950 1590" fill="none" stroke="#b4b4b4" stroke-width="7.56" stroke-linecap="round" stroke-linejoin="round"/>
<path d="M425 560 Q395 800 430 1060" fill="none" stroke="#707070" stroke-width="26" stroke-linecap="round" stroke-linejoin="round"/>
<path d="M1440 600 Q1480 820 1400 1060" fill="none" stroke="#707070" stroke-width="26" stroke-linecap="round" stroke-linejoin="round"/>
<path d="M600 1500 L700 1802" fill="none" stroke="#2a2a2a" stroke-width="12" stroke-linecap="round"/>
<path d="M1200 1480 L1100 1802" fill="none" stroke="#2a2a2a" stroke-width="12" stroke-linecap="round"/>
<path d="M480 1300 L520 1802" fill="none" stroke="#333" stroke-width="9" stroke-linecap="round"/>
<path d="M1330 1300 L1300 1802" fill="none" stroke="#333" stroke-width="9" stroke-linecap="round"/>
<path d="M760 1395 L1040 1380" fill="none" stroke="#333" stroke-width="6" stroke-linecap="round"/>
<ellipse cx="520" cy="60" rx="11" ry="21" fill="#555" stroke="#f0f0f0" stroke-width="9" transform="rotate(12 520 60)"/>
<ellipse cx="495" cy="125" rx="11" ry="21" fill="#555" stroke="#f0f0f0" stroke-width="9" transform="rotate(12 495 125)"/>
<ellipse cx="465" cy="205" rx="11" ry="21" fill="#555" stroke="#f0f0f0" stroke-width="9" transform="rotate(12 465 205)"/>
<ellipse cx="450" cy="310" rx="11" ry="21" fill="#555" stroke="#f0f0f0" stroke-width="9" transform="rotate(12 450 310)"/>
<ellipse cx="440" cy="430" rx="11" ry="21" fill="#555" stroke="#f0f0f0" stroke-width="9" transform="rotate(12 440 430)"/>
<ellipse cx="437" cy="545" rx="11" ry="21" fill="#555" stroke="#f0f0f0" stroke-width="9" transform="rotate(12 437 545)"/>
<ellipse cx="1340" cy="100" rx="11" ry="21" fill="#555" stroke="#f0f0f0" stroke-width="9" transform="rotate(12 1340 100)"/>
<ellipse cx="1385" cy="440" rx="11" ry="21" fill="#555" stroke="#f0f0f0" stroke-width="9" transform="rotate(12 1385 440)"/>
</g>
<path d="M330 40 L360 300 L330 600 L300 800 L340 1000 L330 1200 L330 1500 L360 1802 L1500 1802 L1560 1500 L1570 1200 L1540 900 L1560 700 L1500 450 L1470 250 L1550 40 Z" fill="#808080" filter="url(#ctgrain)" style="mix-blend-mode:overlay" opacity="0.3"/>
</g>
<path d="M1420 185 L1312.03 231.57 L1321.76 120.39 Z" fill="#f8c84c"/>
<path d="M1340 290 L1454.42 262.89 L1425.53 370.69 Z" fill="#f8c84c"/>
<path d="M1435 745 L1555.77 716.38 L1525.28 830.17 Z" fill="#f8c84c"/>
</g>
<g transform="translate(20 1688) scale(0.15)">
<clipPath id="ctc3"><rect x="33" y="40" width="1767" height="1765"/></clipPath>
<rect x="33" y="40" width="1767" height="1765" fill="#000"/>
<g clip-path="url(#ctc3)"><g filter="url(#ctblur)">
<path d="M280 40 L300 300 L300 500 L280 800 L220 1000 L190 1300 L180 1500 L170 1805 L1650 1805 L1640 1500 L1600 1200 L1590 1000 L1520 800 L1560 600 L1510 400 L1500 250 L1620 40 Z" fill="#383838"/>
<path d="M360 40 L390 400 L370 800 L350 1100 L300 1400 L330 1805 L1520 1805 L1480 1400 L1380 1050 L1420 700 L1400 400 L1440 40 Z" fill="#4c4c4c"/>
<path d="M490 40 L840 40 L840 130 L520 165 L460 200 Z" fill="#000"/>
<path d="M1280 40 L1360 40 L1370 300 L1270 250 Z" fill="#000"/>
<path d="M440 280 L520 165 L800 130 L1000 260 L1250 300 L1380 450 L1400 800 L1320 1050 L1150 1250 L1060 1500 L700 1500 L620 1250 L480 1100 L430 800 Z" fill="#676767"/>
<path d="M440 300 L520 170 L800 130 L900 230 L720 470 L520 590 L440 500 Z" fill="#929292"/>
<path d="M850 40 L1250 40 L1270 200 L1150 280 L900 180 Z" fill="#949494"/>
<path d="M830 620 L990 620 L980 900 L900 1000 L830 900 Z" fill="#9c9c9c"/>
<ellipse cx="1120" cy="450" rx="110" ry="100" fill="#8c8c8c"/>
<ellipse cx="1170" cy="720" rx="110" ry="100" fill="#868686"/>
<ellipse cx="560" cy="860" rx="70" ry="120" fill="#4a4a4a"/>
<ellipse cx="570" cy="920" rx="50" ry="60" fill="#707070"/>
<ellipse cx="1290" cy="590" rx="48" ry="115" fill="#a2a2a2"/>
<ellipse cx="1290" cy="590" rx="22" ry="85" fill="#6a6a6a"/>
<ellipse cx="1100" cy="960" rx="120" ry="90" fill="#8a8a8a"/>
<ellipse cx="600" cy="700" rx="80" ry="60" fill="#858585"/>
<ellipse cx="700" cy="1100" rx="90" ry="80" fill="#555"/>
<ellipse cx="515.34" cy="985.67" rx="4.63" ry="7.52" fill="#0c0c0c"/>
<ellipse cx="487.04" cy="714.03" rx="9" ry="5.05" fill="#0c0c0c"/>
<ellipse cx="598.37" cy="794.47" rx="6.27" ry="6.47" fill="#0c0c0c"/>
<ellipse cx="508.45" cy="935.6" rx="4.45" ry="5.17" fill="#0c0c0c"/>
<ellipse cx="474" cy="721.37" rx="6.04" ry="8.51" fill="#0c0c0c"/>
<ellipse cx="545.82" cy="663.22" rx="5.29" ry="8.96" fill="#0c0c0c"/>
<ellipse cx="482.62" cy="855.66" rx="5.89" ry="7.3" fill="#0c0c0c"/>
<ellipse cx="537.69" cy="882.69" rx="6.49" ry="7.25" fill="#0c0c0c"/>
<ellipse cx="650.27" cy="840.98" rx="4.71" ry="4.32" fill="#0c0c0c"/>
<ellipse cx="659.21" cy="805.69" rx="4.97" ry="8.73" fill="#0c0c0c"/>
<ellipse cx="585.79" cy="897" rx="8.4" ry="5.43" fill="#0c0c0c"/>
<ellipse cx="541.34" cy="953.67" rx="4.67" ry="7.82" fill="#0c0c0c"/>
<ellipse cx="489.52" cy="882.27" rx="7.51" ry="8.75" fill="#0c0c0c"/>
<ellipse cx="638.7" cy="811.38" rx="4.99" ry="4.75" fill="#0c0c0c"/>
<ellipse cx="575.74" cy="813.72" rx="4.36" ry="8.52" fill="#0c0c0c"/>
<ellipse cx="571.48" cy="886.49" rx="5.1" ry="5.22" fill="#0c0c0c"/>
<ellipse cx="472.38" cy="750.43" rx="5.33" ry="6.12" fill="#0c0c0c"/>
<ellipse cx="545.39" cy="937.04" rx="8.46" ry="4.88" fill="#0c0c0c"/>
<ellipse cx="549.25" cy="683.15" rx="7.32" ry="8.87" fill="#0c0c0c"/>
<ellipse cx="510.36" cy="911.26" rx="5.5" ry="4.07" fill="#0c0c0c"/>
<ellipse cx="622.86" cy="749.89" rx="4.85" ry="6.18" fill="#0c0c0c"/>
<ellipse cx="516.34" cy="775.84" rx="6.23" ry="6.09" fill="#0c0c0c"/>
<ellipse cx="587.7" cy="729.72" rx="4.48" ry="4.43" fill="#0c0c0c"/>
<ellipse cx="491.3" cy="817.96" rx="5.8" ry="8.04" fill="#0c0c0c"/>
<ellipse cx="570.98" cy="889.11" rx="8.9" ry="4.31" fill="#0c0c0c"/>
<ellipse cx="473.39" cy="673.35" rx="5.93" ry="6.87" fill="#0c0c0c"/>
<ellipse cx="618.75" cy="753.55" rx="8.82" ry="4.01" fill="#0c0c0c"/>
<ellipse cx="637.14" cy="699.83" rx="8.38" ry="4.17" fill="#0c0c0c"/>
<ellipse cx="663.03" cy="908.56" rx="8.95" ry="6.9" fill="#0c0c0c"/>
<ellipse cx="505.56" cy="988.55" rx="6.21" ry="4.42" fill="#0c0c0c"/>
<ellipse cx="591.08" cy="808.94" rx="6.37" ry="4.77" fill="#0c0c0c"/>
<ellipse cx="494.4" cy="840.68" rx="6.26" ry="4.63" fill="#0c0c0c"/>
<ellipse cx="557.9" cy="895.7" rx="7.58" ry="6.36" fill="#0c0c0c"/>
<ellipse cx="548.75" cy="757.11" rx="5.13" ry="4.99" fill="#0c0c0c"/>
<ellipse cx="559.24" cy="661.11" rx="7.63" ry="7.54" fill="#0c0c0c"/>
<ellipse cx="592.3" cy="628.59" rx="5.82" ry="6.16" fill="#0c0c0c"/>
<ellipse cx="488.67" cy="987.76" rx="7.78" ry="6.51" fill="#0c0c0c"/>
<ellipse cx="611.03" cy="696.26" rx="5.15" ry="6.63" fill="#0c0c0c"/>
<ellipse cx="618.79" cy="865.96" rx="4.03" ry="7.07" fill="#0c0c0c"/>
<ellipse cx="651.77" cy="902.45" rx="8.64" ry="8.91" fill="#0c0c0c"/>
<ellipse cx="1180" cy="940" rx="40" ry="25" fill="#050505"/>
<ellipse cx="690" cy="840" rx="20" ry="18" fill="#e8e8e8"/>
<ellipse cx="700" cy="900" rx="20" ry="18" fill="#e8e8e8"/>
<ellipse cx="680" cy="960" rx="22" ry="19.8" fill="#e8e8e8"/>
<ellipse cx="640" cy="1010" rx="22" ry="19.8" fill="#e8e8e8"/>
<ellipse cx="520" cy="1060" rx="22" ry="19.8" fill="#e8e8e8"/>
<ellipse cx="540" cy="1110" rx="20" ry="18" fill="#e8e8e8"/>
<ellipse cx="590" cy="1150" rx="20" ry="18" fill="#e8e8e8"/>
<ellipse cx="620" cy="1190" rx="18" ry="16.2" fill="#e8e8e8"/>
<ellipse cx="880" cy="1180" rx="28" ry="25.2" fill="#e8e8e8"/>
<ellipse cx="750" cy="1240" rx="26" ry="23.4" fill="#e8e8e8"/>
<ellipse cx="1030" cy="1290" rx="24" ry="21.6" fill="#e8e8e8"/>
<ellipse cx="1190" cy="1110" rx="22" ry="19.8" fill="#e8e8e8"/>
<ellipse cx="870" cy="1450" rx="170" ry="110" fill="#484848"/>
<path d="M350 1150 L520 1300 L600 1500 L640 1805 L300 1805 L310 1450 Z" fill="#5e5e5e"/>
<path d="M1420 1150 L1250 1300 L1180 1480 L1150 1805 L1560 1805 L1480 1450 Z" fill="#5e5e5e"/>
<path d="M640 1640 L900 1680 L1150 1640 L1250 1805 L560 1805 Z" fill="#606060"/>
<path d="M820 1720 L960 1720 L960 1805 L820 1805 Z" fill="#1a1a1a"/>
<path d="M380 1082 Q470 1130 520 1300 T600 1440" fill="none" stroke="#fafafa" stroke-width="43.2" stroke-linecap="round" stroke-linejoin="round"/>
<path d="M380 1082 Q470 1130 520 1300 T600 1440" fill="none" stroke="#b4b4b4" stroke-width="12.96" stroke-linecap="round" stroke-linejoin="round"/>
<path d="M1390 1082 Q1290 1140 1240 1300 T1170 1440" fill="none" stroke="#fafafa" stroke-width="43.2" stroke-linecap="round" stroke-linejoin="round"/>
<path d="M1390 1082 Q1290 1140 1240 1300 T1170 1440" fill="none" stroke="#b4b4b4" stroke-width="12.96" stroke-linecap="round" stroke-linejoin="round"/>
<circle cx="582" cy="1482" r="52" fill="#b5b5b5" stroke="#f8f8f8" stroke-width="20"/>
<circle cx="1200" cy="1472" r="52" fill="#b5b5b5" stroke="#f8f8f8" stroke-width="20"/>
<path d="M700 1510 Q780 1580 860 1632" fill="none" stroke="#fafafa" stroke-width="32.4" stroke-linecap="round" stroke-linejoin="round"/>
<path d="M700 1510 Q780 1580 860 1632" fill="none" stroke="#b4b4b4" stroke-width="9.72" stroke-linecap="round" stroke-linejoin="round"/>
<path d="M1075 1500 Q1000 1580 925 1632" fill="none" stroke="#fafafa" stroke-width="32.4" stroke-linecap="round" stroke-linejoin="round"/>
<path d="M1075 1500 Q1000 1580 925 1632" fill="none" stroke="#b4b4b4" stroke-width="9.72" stroke-linecap="round" stroke-linejoin="round"/>
<path d="M400 600 Q370 850 380 1050" fill="none" stroke="#6c6c6c" stroke-width="30" stroke-linecap="round" stroke-linejoin="round"/>
<path d="M1400 600 Q1440 820 1380 1060" fill="none" stroke="#6c6c6c" stroke-width="30" stroke-linecap="round" stroke-linejoin="round"/>
<path d="M330 80 Q350 300 360 560" fill="none" stroke="#5c5c5c" stroke-width="40" stroke-linecap="round" stroke-linejoin="round"/>
<path d="M1500 80 Q1450 300 1460 560" fill="none" stroke="#5c5c5c" stroke-width="40" stroke-linecap="round" stroke-linejoin="round"/>
<path d="M580 1560 L640 1805" fill="none" stroke="#2e2e2e" stroke-width="10" stroke-linecap="round"/>
<path d="M1190 1560 L1150 1805" fill="none" stroke="#2e2e2e" stroke-width="10" stroke-linecap="round"/>
<path d="M720 1660 L640 1805" fill="none" stroke="#2e2e2e" stroke-width="10" stroke-linecap="round"/>
<path d="M1060 1660 L1160 1805" fill="none" stroke="#2e2e2e" stroke-width="10" stroke-linecap="round"/>
<path d="M320 1250 Q290 1500 330 1805" fill="none" stroke="#303030" stroke-width="14" stroke-linecap="round"/>
<path d="M1470 1250 Q1510 1500 1520 1805" fill="none" stroke="#303030" stroke-width="14" stroke-linecap="round"/>
<ellipse cx="468" cy="100" rx="11" ry="21" fill="#555" stroke="#f0f0f0" stroke-width="9" transform="rotate(12 468 100)"/>
<ellipse cx="432" cy="190" rx="11" ry="21" fill="#555" stroke="#f0f0f0" stroke-width="9" transform="rotate(12 432 190)"/>
<ellipse cx="422" cy="310" rx="11" ry="21" fill="#555" stroke="#f0f0f0" stroke-width="9" transform="rotate(12 422 310)"/>
<ellipse cx="412" cy="450" rx="11" ry="21" fill="#555" stroke="#f0f0f0" stroke-width="9" transform="rotate(12 412 450)"/>
<ellipse cx="408" cy="580" rx="11" ry="21" fill="#555" stroke="#f0f0f0" stroke-width="9" transform="rotate(12 408 580)"/>
<ellipse cx="1380" cy="90" rx="11" ry="21" fill="#555" stroke="#f0f0f0" stroke-width="9" transform="rotate(12 1380 90)"/>
<ellipse cx="1395" cy="470" rx="11" ry="21" fill="#555" stroke="#f0f0f0" stroke-width="9" transform="rotate(12 1395 470)"/>
</g>
<path d="M280 40 L300 300 L300 500 L280 800 L220 1000 L190 1300 L180 1500 L170 1805 L1650 1805 L1640 1500 L1600 1200 L1590 1000 L1520 800 L1560 600 L1510 400 L1500 250 L1620 40 Z" fill="#808080" filter="url(#ctgrain)" style="mix-blend-mode:overlay" opacity="0.3"/>
</g>
<path d="M1455 258 L1347.03 304.57 L1356.76 193.39 Z" fill="#f8c84c"/>
<path d="M1378 370 L1493.29 346.9 L1460.66 453.62 Z" fill="#f8c84c"/>
</g>
<g transform="translate(295 1688) scale(0.15)">
<clipPath id="ctc4"><rect x="40" y="40" width="1765" height="1765"/></clipPath>
<rect x="40" y="40" width="1765" height="1765" fill="#000"/>
<g clip-path="url(#ctc4)"><g filter="url(#ctblur)">
<path d="M200 40 L250 300 L280 500 L240 800 L160 1200 L170 1500 L150 1805 L1760 1805 L1720 1500 L1700 1150 L1640 800 L1600 500 L1540 200 L1640 40 Z" fill="#3e3e3e"/>
<path d="M300 40 L350 400 L380 800 L340 1100 L320 1400 L330 1805 L1560 1805 L1500 1400 L1400 1050 L1440 700 L1400 400 L1420 40 Z" fill="#505050"/>
<path d="M420 40 L880 40 L880 110 L520 150 L420 260 Z" fill="#000"/>
<path d="M1310 40 L1410 40 L1420 280 L1300 250 Z" fill="#000"/>
<path d="M400 300 L520 150 L880 110 L1100 260 L1300 300 L1400 450 L1430 800 L1350 1100 L1250 1300 L1150 1500 L700 1500 L600 1250 L470 1100 L420 800 Z" fill="#5f5f5f"/>
<path d="M400 300 L520 150 L880 110 L960 300 L900 450 L640 600 L470 690 L400 550 Z" fill="#919191"/>
<path d="M880 40 L1300 40 L1310 200 L1100 262 L940 180 Z" fill="#959595"/>
<path d="M960 300 L1250 320 L1310 450 L1200 600 L1000 520 Z" fill="#8a8a8a"/>
<ellipse cx="680" cy="740" rx="90" ry="88" fill="#aaa"/>
<path d="M840 640 L1020 650 L1000 950 L900 1080 L850 900 Z" fill="#9a9a9a"/>
<ellipse cx="570" cy="1000" rx="110" ry="190" fill="#484848"/>
<ellipse cx="1100" cy="980" rx="40" ry="150" fill="#3e3e3e"/>
<ellipse cx="570.48" cy="968.69" rx="9.55" ry="6.79" fill="#0a0a0a"/>
<ellipse cx="581.57" cy="981.94" rx="5.11" ry="7.07" fill="#0a0a0a"/>
<ellipse cx="605.98" cy="1080.63" rx="4.56" ry="5.82" fill="#0a0a0a"/>
<ellipse cx="498.13" cy="1088.63" rx="8.16" ry="4.25" fill="#0a0a0a"/>
<ellipse cx="676.44" cy="1163.08" rx="7.92" ry="7.69" fill="#0a0a0a"/>
<ellipse cx="511.5" cy="707.2" rx="7.17" ry="4.36" fill="#0a0a0a"/>
<ellipse cx="518.04" cy="816.13" rx="4.18" ry="6.78" fill="#0a0a0a"/>
<ellipse cx="568.11" cy="1104.37" rx="7.11" ry="7.84" fill="#0a0a0a"/>
<ellipse cx="579.95" cy="1017.98" rx="6.74" ry="5.67" fill="#0a0a0a"/>
<ellipse cx="679.53" cy="1177.93" rx="9.04" ry="8.25" fill="#0a0a0a"/>
<ellipse cx="543.06" cy="810.24" rx="5.73" ry="4.42" fill="#0a0a0a"/>
<ellipse cx="633.26" cy="892.19" rx="9.08" ry="6.32" fill="#0a0a0a"/>
<ellipse cx="671.61" cy="1106.71" rx="4" ry="5.26" fill="#0a0a0a"/>
<ellipse cx="662.05" cy="925.59" rx="9.88" ry="6.38" fill="#0a0a0a"/>
<ellipse cx="494.61" cy="1002.14" rx="8.67" ry="5.62" fill="#0a0a0a"/>
<ellipse cx="497.43" cy="859.64" rx="9.78" ry="8.55" fill="#0a0a0a"/>
<ellipse cx="503.6" cy="818.27" rx="4.61" ry="4.36" fill="#0a0a0a"/>
<ellipse cx="639.4" cy="785.29" rx="7.36" ry="6.68" fill="#0a0a0a"/>
<ellipse cx="518.14" cy="1051.31" rx="4.79" ry="7.86" fill="#0a0a0a"/>
<ellipse cx="503.3" cy="901.96" rx="5.28" ry="5.62" fill="#0a0a0a"/>
<ellipse cx="674.19" cy="1085.64" rx="5.82" ry="9.31" fill="#0a0a0a"/>
<ellipse cx="522.14" cy="889.25" rx="9.13" ry="7.85" fill="#0a0a0a"/>
<ellipse cx="500.07" cy="1174.86" rx="5.28" ry="5.55" fill="#0a0a0a"/>
<ellipse cx="634.54" cy="857.9" rx="5.78" ry="4.44" fill="#0a0a0a"/>
<ellipse cx="498.02" cy="979.71" rx="5.46" ry="7.61" fill="#0a0a0a"/>
<ellipse cx="554.34" cy="917.54" rx="9.75" ry="6.9" fill="#0a0a0a"/>
<ellipse cx="594.91" cy="1115.93" rx="5.1" ry="4.92" fill="#0a0a0a"/>
<ellipse cx="661.68" cy="1092.54" rx="5.5" ry="5.14" fill="#0a0a0a"/>
<ellipse cx="627.88" cy="1151.39" rx="5.18" ry="9.7" fill="#0a0a0a"/>
<ellipse cx="656.44" cy="989.7" rx="6.53" ry="4.62" fill="#0a0a0a"/>
<ellipse cx="487.74" cy="1162.09" rx="5.43" ry="8.23" fill="#0a0a0a"/>
<ellipse cx="531.4" cy="1095.38" rx="7.58" ry="5.76" fill="#0a0a0a"/>
<ellipse cx="515.09" cy="1045.77" rx="4.41" ry="5.37" fill="#0a0a0a"/>
<ellipse cx="591.87" cy="1109.15" rx="7.69" ry="5.68" fill="#0a0a0a"/>
<ellipse cx="663.47" cy="797.91" rx="4.1" ry="5.62" fill="#0a0a0a"/>
<ellipse cx="569.14" cy="729.02" rx="5.06" ry="6.21" fill="#0a0a0a"/>
<ellipse cx="594.43" cy="763.16" rx="6.17" ry="9.35" fill="#0a0a0a"/>
<ellipse cx="676.1" cy="1015.33" rx="8.15" ry="7.51" fill="#0a0a0a"/>
<ellipse cx="508.07" cy="716.84" rx="4.11" ry="9.46" fill="#0a0a0a"/>
<ellipse cx="620.19" cy="1162.13" rx="4.13" ry="7.82" fill="#0a0a0a"/>
<ellipse cx="576.45" cy="1050.64" rx="5.91" ry="10" fill="#0a0a0a"/>
<ellipse cx="495.05" cy="962.13" rx="8.42" ry="9.4" fill="#0a0a0a"/>
<ellipse cx="627.42" cy="1037.77" rx="8.76" ry="9.49" fill="#0a0a0a"/>
<ellipse cx="550.37" cy="1028.87" rx="9.41" ry="9.23" fill="#0a0a0a"/>
<ellipse cx="563.43" cy="1079.46" rx="9.18" ry="7.44" fill="#0a0a0a"/>
<ellipse cx="604.99" cy="883.52" rx="7.5" ry="7.65" fill="#0a0a0a"/>
<ellipse cx="496.04" cy="1006.91" rx="9.96" ry="9.28" fill="#0a0a0a"/>
<ellipse cx="625.64" cy="886.45" rx="8.41" ry="7.49" fill="#0a0a0a"/>
<ellipse cx="568.1" cy="1102.42" rx="4.5" ry="8.5" fill="#0a0a0a"/>
<ellipse cx="485.96" cy="988.62" rx="6.89" ry="5.38" fill="#0a0a0a"/>
<ellipse cx="619.67" cy="938.68" rx="7.69" ry="9.52" fill="#0a0a0a"/>
<ellipse cx="531.17" cy="705.43" rx="5.81" ry="8.07" fill="#0a0a0a"/>
<ellipse cx="520.51" cy="781.41" rx="9.43" ry="7.96" fill="#0a0a0a"/>
<ellipse cx="568.39" cy="1128.03" rx="5.96" ry="8" fill="#0a0a0a"/>
<ellipse cx="519.7" cy="906.83" rx="8.84" ry="9.49" fill="#0a0a0a"/>
<ellipse cx="656.05" cy="884.52" rx="7.5" ry="5.9" fill="#0a0a0a"/>
<ellipse cx="507.24" cy="938.3" rx="9.02" ry="9.09" fill="#0a0a0a"/>
<ellipse cx="622.24" cy="1156" rx="5.66" ry="5.01" fill="#0a0a0a"/>
<ellipse cx="570.13" cy="832.08" rx="5.28" ry="6.48" fill="#0a0a0a"/>
<ellipse cx="605.15" cy="937.06" rx="5.89" ry="9.03" fill="#0a0a0a"/>
<ellipse cx="676.41" cy="917.19" rx="4.45" ry="4.19" fill="#0a0a0a"/>
<ellipse cx="654.57" cy="719.91" rx="8.25" ry="7.42" fill="#0a0a0a"/>
<ellipse cx="541.81" cy="1079.93" rx="4.11" ry="4.82" fill="#0a0a0a"/>
<ellipse cx="570.97" cy="711.87" rx="8.98" ry="5.42" fill="#0a0a0a"/>
<ellipse cx="508.17" cy="722.53" rx="7.78" ry="6.68" fill="#0a0a0a"/>
<ellipse cx="605.99" cy="1014.42" rx="8.84" ry="9.75" fill="#0a0a0a"/>
<ellipse cx="616.9" cy="795.68" rx="6.85" ry="5.07" fill="#0a0a0a"/>
<ellipse cx="482.15" cy="926.66" rx="8.29" ry="5.07" fill="#0a0a0a"/>
<ellipse cx="534.47" cy="865.95" rx="8.18" ry="7.12" fill="#0a0a0a"/>
<ellipse cx="602.89" cy="1062.98" rx="6.36" ry="8.75" fill="#0a0a0a"/>
<ellipse cx="1120.31" cy="882.67" rx="7.73" ry="6.89" fill="#0a0a0a"/>
<ellipse cx="1081.5" cy="977.92" rx="6.5" ry="7.64" fill="#0a0a0a"/>
<ellipse cx="1093.84" cy="1007.89" rx="7.52" ry="7.19" fill="#0a0a0a"/>
<ellipse cx="1122.21" cy="980.56" rx="6.61" ry="4.82" fill="#0a0a0a"/>
<ellipse cx="1111.1" cy="1072.77" rx="6.57" ry="6.87" fill="#0a0a0a"/>
<ellipse cx="1085.66" cy="1094" rx="7.92" ry="7.91" fill="#0a0a0a"/>
<ellipse cx="1101.85" cy="1065.6" rx="5.28" ry="7.64" fill="#0a0a0a"/>
<ellipse cx="1117.79" cy="950.61" rx="4.33" ry="5.76" fill="#0a0a0a"/>
<ellipse cx="1102.52" cy="1059.74" rx="5.95" ry="4.11" fill="#0a0a0a"/>
<ellipse cx="1115.46" cy="876.65" rx="7.2" ry="4.69" fill="#0a0a0a"/>
<ellipse cx="1091.75" cy="1064.86" rx="4.56" ry="4.59" fill="#0a0a0a"/>
<ellipse cx="1100.83" cy="1048.13" rx="7.36" ry="6.76" fill="#0a0a0a"/>
<ellipse cx="1122.29" cy="988.07" rx="7.8" ry="4.34" fill="#0a0a0a"/>
<ellipse cx="1086.07" cy="996.93" rx="5.16" ry="6.92" fill="#0a0a0a"/>
<ellipse cx="1106.94" cy="995.92" rx="7.37" ry="6.24" fill="#0a0a0a"/>
<ellipse cx="1090.58" cy="959.12" rx="7.38" ry="7.6" fill="#0a0a0a"/>
<ellipse cx="1085.41" cy="1081.2" rx="7.87" ry="6.1" fill="#0a0a0a"/>
<ellipse cx="1103.65" cy="912.25" rx="6.14" ry="6.01" fill="#0a0a0a"/>
<ellipse cx="1105.26" cy="867.22" rx="7.88" ry="6.06" fill="#0a0a0a"/>
<ellipse cx="1095.03" cy="1068.28" rx="6.25" ry="5.96" fill="#0a0a0a"/>
<ellipse cx="1200" cy="1150" rx="90" ry="70" fill="#8c8c8c"/>
<ellipse cx="1160" cy="1330" rx="45" ry="90" fill="#8a8a8a" transform="rotate(25 1160 1330)"/>
<ellipse cx="900" cy="1250" rx="200" ry="180" fill="#3c3c3c"/>
<ellipse cx="1230" cy="880" rx="60" ry="160" fill="#858585"/>
<ellipse cx="600" cy="1230" rx="18" ry="16.2" fill="#e0e0e0"/>
<ellipse cx="640" cy="1250" rx="18" ry="16.2" fill="#e0e0e0"/>
<ellipse cx="690" cy="1210" rx="18" ry="16.2" fill="#e0e0e0"/>
<ellipse cx="720" cy="1190" rx="16" ry="14.4" fill="#e0e0e0"/>
<ellipse cx="820" cy="1300" rx="16" ry="14.4" fill="#e0e0e0"/>
<ellipse cx="960" cy="1310" rx="16" ry="14.4" fill="#e0e0e0"/>
<ellipse cx="880" cy="1480" rx="18" ry="16.2" fill="#e0e0e0"/>
<ellipse cx="820" cy="1500" rx="16" ry="14.4" fill="#e0e0e0"/>
<ellipse cx="1060" cy="1450" rx="22" ry="26" fill="#000"/>
<ellipse cx="1000" cy="1530" rx="20" ry="14" fill="#000"/>
<path d="M330 1180 L520 1300 L600 1500 L640 1805 L300 1805 L310 1450 Z" fill="#606060"/>
<path d="M1480 1160 L1340 1300 L1260 1500 L1200 1805 L1600 1805 L1540 1450 Z" fill="#606060"/>
<path d="M640 1600 L900 1720 L1200 1560 L1250 1805 L560 1805 Z" fill="#606060"/>
<path d="M362 1150 Q470 1180 510 1320 T560 1490 L640 1535" fill="none" stroke="#fafafa" stroke-width="46.8" stroke-linecap="round" stroke-linejoin="round"/>
<path d="M362 1150 Q470 1180 510 1320 T560 1490 L640 1535" fill="none" stroke="#b4b4b4" stroke-width="14.04" stroke-linecap="round" stroke-linejoin="round"/>
<path d="M1468 1130 Q1370 1170 1335 1290 T1320 1420" fill="none" stroke="#fafafa" stroke-width="43.2" stroke-linecap="round" stroke-linejoin="round"/>
<path d="M1468 1130 Q1370 1170 1335 1290 T1320 1420" fill="none" stroke="#b4b4b4" stroke-width="12.96" stroke-linecap="round" stroke-linejoin="round"/>
<path d="M640 1535 Q780 1600 900 1700" fill="none" stroke="#fafafa" stroke-width="46.8" stroke-linecap="round" stroke-linejoin="round"/>
<path d="M640 1535 Q780 1600 900 1700" fill="none" stroke="#b4b4b4" stroke-width="14.04" stroke-linecap="round" stroke-linejoin="round"/>
<path d="M1215 1500 Q1080 1600 960 1700" fill="none" stroke="#fafafa" stroke-width="46.8" stroke-linecap="round" stroke-linejoin="round"/>
<path d="M1215 1500 Q1080 1600 960 1700" fill="none" stroke="#b4b4b4" stroke-width="14.04" stroke-linecap="round" stroke-linejoin="round"/>
<path d="M400 700 Q370 900 380 1100" fill="none" stroke="#6e6e6e" stroke-width="30" stroke-linecap="round" stroke-linejoin="round"/>
<path d="M1440 650 Q1480 850 1420 1080" fill="none" stroke="#6e6e6e" stroke-width="30" stroke-linecap="round" stroke-linejoin="round"/>
<path d="M300 80 Q330 300 350 600" fill="none" stroke="#606060" stroke-width="44" stroke-linecap="round" stroke-linejoin="round"/>
<path d="M1480 80 Q1450 300 1470 600" fill="none" stroke="#606060" stroke-width="44" stroke-linecap="round" stroke-linejoin="round"/>
<path d="M560 1560 L620 1805" fill="none" stroke="#2e2e2e" stroke-width="10" stroke-linecap="round"/>
<path d="M1250 1540 L1200 1805" fill="none" stroke="#2e2e2e" stroke-width="10" stroke-linecap="round"/>
<path d="M720 1700 L660 1805" fill="none" stroke="#2e2e2e" stroke-width="10" stroke-linecap="round"/>
<path d="M1120 1680 L1180 1805" fill="none" stroke="#2e2e2e" stroke-width="10" stroke-linecap="round"/>
<path d="M320 1250 Q290 1500 330 1805" fill="none" stroke="#343434" stroke-width="14" stroke-linecap="round"/>
<path d="M1540 1250 Q1580 1500 1570 1805" fill="none" stroke="#343434" stroke-width="14" stroke-linecap="round"/>
<ellipse cx="385" cy="150" rx="11" ry="21" fill="#555" stroke="#f0f0f0" stroke-width="9" transform="rotate(12 385 150)"/>
<ellipse cx="375" cy="285" rx="11" ry="21" fill="#555" stroke="#f0f0f0" stroke-width="9" transform="rotate(12 375 285)"/>
<ellipse cx="378" cy="430" rx="11" ry="21" fill="#555" stroke="#f0f0f0" stroke-width="9" transform="rotate(12 378 430)"/>
<ellipse cx="385" cy="580" rx="11" ry="21" fill="#555" stroke="#f0f0f0" stroke-width="9" transform="rotate(12 385 580)"/>
<ellipse cx="1435" cy="120" rx="11" ry="21" fill="#555" stroke="#f0f0f0" stroke-width="9" transform="rotate(12 1435 120)"/>
<ellipse cx="1430" cy="470" rx="11" ry="21" fill="#555" stroke="#f0f0f0" stroke-width="9" transform="rotate(12 1430 470)"/>
</g>
<path d="M200 40 L250 300 L280 500 L240 800 L160 1200 L170 1500 L150 1805 L1760 1805 L1720 1500 L1700 1150 L1640 800 L1600 500 L1540 200 L1640 40 Z" fill="#808080" filter="url(#ctgrain)" style="mix-blend-mode:overlay" opacity="0.3"/>
</g>
<path d="M1528 262 L1420.03 308.57 L1429.76 197.39 Z" fill="#f8c84c"/>
<path d="M1450 372 L1565.29 348.9 L1532.66 455.62 Z" fill="#f8c84c"/>
</g>
<text x="156.6" y="1678" text-anchor="middle" textLength="79" lengthAdjust="spacingAndGlyphs">Baseline</text>
<text x="435.8" y="1678" text-anchor="middle" textLength="87" lengthAdjust="spacingAndGlyphs">12 weeks</text>
<text x="156.6" y="1977" text-anchor="middle" textLength="88" lengthAdjust="spacingAndGlyphs">24 weeks</text>
<text x="432" y="1977" text-anchor="middle" textLength="88" lengthAdjust="spacingAndGlyphs">36 weeks</text>
</g>
<g id="panel-g">
<text x="600" y="1407.8" font-size="33" font-weight="bold" textLength="21.78" lengthAdjust="spacingAndGlyphs" stroke="#231f20" stroke-width="1.1" stroke-linejoin="round">g</text>
<text text-anchor="middle" textLength="345" lengthAdjust="spacingAndGlyphs" transform="translate(619.8 1648.6) rotate(-90)">Percentage change from the baseline</text>
<path d="M699.4 1481.6 L699.4 1814.6 L972.4 1814.6" fill="none" stroke="#231f20" stroke-width="1.4"/>
<line x1="692.1" y1="1530.2" x2="699.4" y2="1530.2" stroke="#231f20" stroke-width="1.3"/>
<text x="682.3" y="1537.4" text-anchor="end">100</text>
<line x1="692.1" y1="1597.5" x2="699.4" y2="1597.5" stroke="#231f20" stroke-width="1.3"/>
<text x="682.3" y="1604.7" text-anchor="end">50</text>
<line x1="692.1" y1="1664.8" x2="699.4" y2="1664.8" stroke="#231f20" stroke-width="1.3"/>
<text x="682.3" y="1672" text-anchor="end">0</text>
<line x1="692.1" y1="1732.1" x2="699.4" y2="1732.1" stroke="#231f20" stroke-width="1.3"/>
<text x="682.3" y="1739.3" text-anchor="end">−50</text>
<line x1="692.1" y1="1799.4" x2="699.4" y2="1799.4" stroke="#231f20" stroke-width="1.3"/>
<text x="682.3" y="1806.6" text-anchor="end">−100</text>
<line x1="711.8" y1="1814.6" x2="711.8" y2="1821.3" stroke="#231f20" stroke-width="1.3"/>
<text x="711.8" y="1847" text-anchor="middle">0</text>
<line x1="751.05" y1="1814.6" x2="751.05" y2="1819.5" stroke="#231f20" stroke-width="1.3"/>
<line x1="790.3" y1="1814.6" x2="790.3" y2="1821.3" stroke="#231f20" stroke-width="1.3"/>
<text x="790.3" y="1847" text-anchor="middle">12</text>
<line x1="829.55" y1="1814.6" x2="829.55" y2="1819.5" stroke="#231f20" stroke-width="1.3"/>
<line x1="868.8" y1="1814.6" x2="868.8" y2="1821.3" stroke="#231f20" stroke-width="1.3"/>
<text x="868.8" y="1847" text-anchor="middle">24</text>
<line x1="908.05" y1="1814.6" x2="908.05" y2="1819.5" stroke="#231f20" stroke-width="1.3"/>
<line x1="947.3" y1="1814.6" x2="947.3" y2="1821.3" stroke="#231f20" stroke-width="1.3"/>
<text x="947.3" y="1847" text-anchor="middle">36</text>
<path d="M1044.2 1481.6 L1044.2 1814.6 L1317.3 1814.6" fill="none" stroke="#231f20" stroke-width="1.4"/>
<line x1="1036.9" y1="1530.2" x2="1044.2" y2="1530.2" stroke="#231f20" stroke-width="1.3"/>
<text x="1027.1" y="1537.4" text-anchor="end">100</text>
<line x1="1036.9" y1="1597.5" x2="1044.2" y2="1597.5" stroke="#231f20" stroke-width="1.3"/>
<text x="1027.1" y="1604.7" text-anchor="end">50</text>
<line x1="1036.9" y1="1664.8" x2="1044.2" y2="1664.8" stroke="#231f20" stroke-width="1.3"/>
<text x="1027.1" y="1672" text-anchor="end">0</text>
<line x1="1036.9" y1="1732.1" x2="1044.2" y2="1732.1" stroke="#231f20" stroke-width="1.3"/>
<text x="1027.1" y="1739.3" text-anchor="end">−50</text>
<line x1="1036.9" y1="1799.4" x2="1044.2" y2="1799.4" stroke="#231f20" stroke-width="1.3"/>
<text x="1027.1" y="1806.6" text-anchor="end">−100</text>
<line x1="1056.6" y1="1814.6" x2="1056.6" y2="1821.3" stroke="#231f20" stroke-width="1.3"/>
<text x="1056.6" y="1847" text-anchor="middle">0</text>
<line x1="1095.85" y1="1814.6" x2="1095.85" y2="1819.5" stroke="#231f20" stroke-width="1.3"/>
<line x1="1135.1" y1="1814.6" x2="1135.1" y2="1821.3" stroke="#231f20" stroke-width="1.3"/>
<text x="1135.1" y="1847" text-anchor="middle">12</text>
<line x1="1174.35" y1="1814.6" x2="1174.35" y2="1819.5" stroke="#231f20" stroke-width="1.3"/>
<line x1="1213.6" y1="1814.6" x2="1213.6" y2="1821.3" stroke="#231f20" stroke-width="1.3"/>
<text x="1213.6" y="1847" text-anchor="middle">24</text>
<line x1="1252.85" y1="1814.6" x2="1252.85" y2="1819.5" stroke="#231f20" stroke-width="1.3"/>
<line x1="1292.1" y1="1814.6" x2="1292.1" y2="1821.3" stroke="#231f20" stroke-width="1.3"/>
<text x="1292.1" y="1847" text-anchor="middle">36</text>
<text x="836" y="1881.5" text-anchor="middle" textLength="261.5" lengthAdjust="spacingAndGlyphs">Time after baseline (months)</text>
<text x="1181" y="1881.5" text-anchor="middle" textLength="261.5" lengthAdjust="spacingAndGlyphs">Time after baseline (months)</text>
<path d="M711.95 1665.16 L725.95 1503.58 L734.61 1501.19" fill="none" stroke="#9bc1e0" stroke-width="3.2" stroke-linejoin="round"/>
<path d="M711.95 1665.16 L737.74 1584.1 L741.98 1564.75 L748.8 1564.75 L754.33 1514.09" fill="none" stroke="#9bc1e0" stroke-width="3.2" stroke-linejoin="round"/>
<path d="M711.95 1665.16 L747.51 1589.62" fill="none" stroke="#9bc1e0" stroke-width="3.2" stroke-linejoin="round"/>
<path d="M711.95 1665.16 L722.27 1579.49" fill="none" stroke="#9bc1e0" stroke-width="3.2" stroke-linejoin="round"/>
<path d="M711.95 1665.16 L726.69 1580.41" fill="none" stroke="#9bc1e0" stroke-width="3.2" stroke-linejoin="round"/>
<path d="M711.95 1665.16 L728.53 1588.7" fill="none" stroke="#9bc1e0" stroke-width="3.2" stroke-linejoin="round"/>
<path d="M711.95 1665.16 L724.48 1597.92" fill="none" stroke="#9bc1e0" stroke-width="3.2" stroke-linejoin="round"/>
<path d="M711.95 1665.16 L727.24 1608.97" fill="none" stroke="#9bc1e0" stroke-width="3.2" stroke-linejoin="round"/>
<path d="M711.95 1665.16 L727.8 1623.71" fill="none" stroke="#9bc1e0" stroke-width="3.2" stroke-linejoin="round"/>
<path d="M711.95 1665.16 L720.79 1590.55" fill="none" stroke="#9bc1e0" stroke-width="3.2" stroke-linejoin="round"/>
<path d="M711.95 1665.16 L725.4 1590.55" fill="none" stroke="#9bc1e0" stroke-width="3.2" stroke-linejoin="round"/>
<path d="M711.95 1665.16 L722.64 1643.06 L731.85 1655.03 L735.53 1634.76" fill="none" stroke="#9bc1e0" stroke-width="3.2" stroke-linejoin="round"/>
<path d="M711.95 1665.16 L724.48 1642.13 L744.38 1643.98 L762.25 1684.14 L774.22 1684.14 L786.57 1680.27 L805.55 1683.59 L820.84 1687.83 L847 1657.79 L872.24 1657.79 L880.16 1643.06" fill="none" stroke="#9bc1e0" stroke-width="3.2" stroke-linejoin="round"/>
<path d="M711.95 1665.16 L722.64 1643.98 L739.22 1653.19 L761.7 1659.64" fill="none" stroke="#9bc1e0" stroke-width="3.2" stroke-linejoin="round"/>
<path d="M711.95 1665.16 L725.4 1700.17" fill="none" stroke="#9bc1e0" stroke-width="3.2" stroke-linejoin="round"/>
<path d="M711.95 1665.16 L728.16 1691.88" fill="none" stroke="#9bc1e0" stroke-width="3.2" stroke-linejoin="round"/>
<path d="M711.95 1665.16 L726.32 1695.56" fill="none" stroke="#9bc1e0" stroke-width="3.2" stroke-linejoin="round"/>
<path d="M711.95 1665.16 L738.3 1694.64 L753.04 1687.27" fill="none" stroke="#9bc1e0" stroke-width="3.2" stroke-linejoin="round"/>
<path d="M711.95 1665.16 L738.3 1697.41 L755.8 1701.09 L776.07 1704.41 L789.33 1711.78" fill="none" stroke="#9bc1e0" stroke-width="3.2" stroke-linejoin="round"/>
<path d="M711.95 1665.16 L731.85 1653.19 L747.51 1648.58" fill="none" stroke="#9bc1e0" stroke-width="3.2" stroke-linejoin="round"/>
<path d="M711.95 1665.16 L730.01 1799.66" fill="none" stroke="#8fd0c1" stroke-width="3.2" stroke-linejoin="round"/>
<path d="M711.95 1665.16 L728.16 1664.24 L734.61 1656.87 L743.82 1642.13 L756.72 1603.07" fill="none" stroke="#8fd0c1" stroke-width="3.2" stroke-linejoin="round"/>
<path d="M711.95 1665.16 L729.09 1659.64 L743.82 1646.74" fill="none" stroke="#8fd0c1" stroke-width="3.2" stroke-linejoin="round"/>
<path d="M711.95 1665.16 L731.85 1673.46 L739.22 1676.22 L745.67 1681.75 L750.27 1691.88 L757.64 1708.46 L770.54 1711.23 L781.59 1711.23 L794.49 1746.23 L812.36 1754.15 L824.89 1745.86 L835.95 1743.47 L845.16 1781.61 L879.24 1781.61 L895.83 1780.69 L915.72 1781.61" fill="none" stroke="#8fd0c1" stroke-width="3.2" stroke-linejoin="round"/>
<path d="M1056.58 1664.24 L1070.4 1579.49 L1077.77 1564.75 L1083.3 1515.01 L1095.27 1503.58" fill="none" stroke="#fbc07f" stroke-width="3.2" stroke-linejoin="round"/>
<path d="M1056.58 1664.24 L1070.95 1566.23 L1077.77 1565.12" fill="none" stroke="#fbc07f" stroke-width="3.2" stroke-linejoin="round"/>
<path d="M1056.58 1664.24 L1067.64 1606.76 L1088.27 1609.34 L1115.54 1689.12 L1122.91 1690.04 L1135.81 1683.59 L1140.41 1683.22 L1167.13 1690.59 L1180.95 1687.27 L1193.84 1692.43 L1207.29 1692.43 L1220.56 1699.25 L1237.14 1704.78 L1255.93 1697.96 L1275.83 1722.83 L1298.86 1722.83" fill="none" stroke="#fbc07f" stroke-width="3.2" stroke-linejoin="round"/>
<path d="M1056.58 1664.24 L1069.48 1623.71" fill="none" stroke="#fbc07f" stroke-width="3.2" stroke-linejoin="round"/>
<path d="M1056.58 1664.24 L1067.64 1632.92" fill="none" stroke="#fbc07f" stroke-width="3.2" stroke-linejoin="round"/>
<path d="M1056.58 1664.24 L1073.16 1632 L1078.69 1660.56 L1086.06 1643.06" fill="none" stroke="#fbc07f" stroke-width="3.2" stroke-linejoin="round"/>
<path d="M1056.58 1664.24 L1074.09 1636.61 L1088.82 1683.59 L1098.96 1685.43 L1121.07 1691.88 L1135.44 1698.33 L1154.23 1679.9" fill="none" stroke="#fbc07f" stroke-width="3.2" stroke-linejoin="round"/>
<path d="M1056.58 1664.24 L1082.38 1672.53 L1095.27 1673.46 L1109.09 1659.64 L1121.99 1678.06 L1129.73 1664.24 L1141.33 1664.24 L1153.86 1693.72 L1167.13 1701.09 L1180.95 1708.46 L1196.61 1712.52 L1202.13 1712.15 L1222.77 1730.2 L1245.98 1638.45" fill="none" stroke="#fbc07f" stroke-width="3.2" stroke-linejoin="round"/>
<path d="M1056.58 1664.24 L1079.61 1673.46 L1095.27 1676.22" fill="none" stroke="#fbc07f" stroke-width="3.2" stroke-linejoin="round"/>
<path d="M1056.58 1664.24 L1073.16 1647.66 L1085.14 1699.25 L1088.82 1708.46 L1103.56 1723.2 L1115.54 1741.26 L1123.28 1769.63 L1139.49 1771.66 L1151.47 1771.66" fill="none" stroke="#fbc07f" stroke-width="3.2" stroke-linejoin="round"/>
<path d="M1056.58 1664.24 L1077.77 1660.56 L1091.59 1721.36 L1107.8 1800.03 L1150.55 1800.03" fill="none" stroke="#fbc07f" stroke-width="3.2" stroke-linejoin="round"/>
<path d="M1056.58 1664.24 L1071.32 1651.35 L1076.85 1664.24" fill="none" stroke="#fbc07f" stroke-width="3.2" stroke-linejoin="round"/>
<path d="M1056.58 1664.24 L1072.24 1656.87" fill="none" stroke="#fbc07f" stroke-width="3.2" stroke-linejoin="round"/>
<line x1="699.4" y1="1705.9" x2="966.9" y2="1705.9" stroke="#000" stroke-width="2.2" stroke-dasharray="8.9 8.4"/>
<line x1="1044.2" y1="1705.7" x2="1311.7" y2="1705.7" stroke="#000" stroke-width="2.2" stroke-dasharray="8.9 8.4"/>
<text x="1307.3" y="1730.5" text-anchor="middle" font-size="16">*</text>
<line x1="689.3" y1="1917.6" x2="713.5" y2="1917.6" stroke="#9bc1e0" stroke-width="3"/>
<text x="721" y="1924.3" textLength="216" lengthAdjust="spacingAndGlyphs"><tspan font-style="italic">PPP2R1A</tspan> and <tspan font-style="italic">AKT</tspan> WT</text>
<line x1="689.3" y1="1943.7" x2="713.5" y2="1943.7" stroke="#8fd0c1" stroke-width="3"/>
<text x="721" y="1950.4" textLength="81" lengthAdjust="spacingAndGlyphs"><tspan font-style="italic">AKT</tspan> mut</text>
<line x1="1073.6" y1="1928.8" x2="1097.8" y2="1928.8" stroke="#fbc07f" stroke-width="3"/>
<text x="1107" y="1936.6" textLength="133" lengthAdjust="spacingAndGlyphs"><tspan font-style="italic">PPP2R1A</tspan> mut</text>
</g>
<g id="panel-h">
<text x="1410" y="1408.4" font-size="33" font-weight="bold" textLength="21.78" lengthAdjust="spacingAndGlyphs" stroke="#231f20" stroke-width="1.1" stroke-linejoin="round">h</text>
<text text-anchor="middle" textLength="345" lengthAdjust="spacingAndGlyphs" transform="translate(1447.4 1673) rotate(-90)">Percentage change from the baseline</text>
<line x1="1527.5" y1="1724.6" x2="2161" y2="1724.6" stroke="#000" stroke-width="2" stroke-dasharray="9 5.3"/>
<rect x="1548.7" y="1503.15" width="16.6" height="170.45" fill="#9dc3e2" stroke="#231f20" stroke-width="1.1"/>
<rect x="1550.6" y="1873.9" width="12.6" height="12.6" fill="#9a3a22" stroke="#3a1c12" stroke-width="1.1"/>
<path d="M1548.9 1911.35 L1564.9 1911.35 L1556.9 1897.85 Z" fill="#e8262a"/>
<text text-anchor="end" transform="translate(1564.1 1925) rotate(-90)">36</text>
<rect x="1567.71" y="1550.19" width="16.6" height="123.41" fill="#fdc689" stroke="#231f20" stroke-width="1.1"/>
<rect x="1569.61" y="1873.9" width="12.6" height="12.6" fill="#f6957c" stroke="#3a1c12" stroke-width="1.1"/>
<path d="M1567.91 1911.35 L1583.91 1911.35 L1575.91 1897.85 Z" fill="#e8262a"/>
<text text-anchor="end" transform="translate(1583.11 1925) rotate(-90)">149</text>
<rect x="1586.72" y="1564.51" width="16.6" height="109.09" fill="#9dc3e2" stroke="#231f20" stroke-width="1.1"/>
<rect x="1588.62" y="1873.9" width="12.6" height="12.6" fill="#f6957c" stroke="#3a1c12" stroke-width="1.1"/>
<path d="M1586.92 1911.35 L1602.92 1911.35 L1594.92 1897.85 Z" fill="#e8262a"/>
<text text-anchor="end" transform="translate(1602.12 1925) rotate(-90)">151</text>
<rect x="1605.73" y="1564.51" width="16.6" height="109.09" fill="#9dc3e2" stroke="#231f20" stroke-width="1.1"/>
<rect x="1607.63" y="1873.9" width="12.6" height="12.6" fill="#f6957c" stroke="#3a1c12" stroke-width="1.1"/>
<path d="M1605.93 1911.35 L1621.93 1911.35 L1613.93 1897.85 Z" fill="#e8262a"/>
<text text-anchor="end" transform="translate(1621.13 1925) rotate(-90)">125</text>
<rect x="1624.74" y="1566.22" width="16.6" height="107.38" fill="#fdc689" stroke="#231f20" stroke-width="1.1"/>
<rect x="1626.64" y="1873.9" width="12.6" height="12.6" fill="#f6957c" stroke="#3a1c12" stroke-width="1.1"/>
<path d="M1624.94 1911.35 L1640.94 1911.35 L1632.94 1897.85 Z" fill="#e8262a"/>
<text text-anchor="end" transform="translate(1640.14 1925) rotate(-90)">162</text>
<rect x="1643.75" y="1574.74" width="16.6" height="98.86" fill="#9dc3e2" stroke="#231f20" stroke-width="1.1"/>
<rect x="1645.65" y="1873.9" width="12.6" height="12.6" fill="#9a3a22" stroke="#3a1c12" stroke-width="1.1"/>
<path d="M1643.95 1911.35 L1659.95 1911.35 L1651.95 1897.85 Z" fill="#e8262a"/>
<text text-anchor="end" transform="translate(1659.15 1925) rotate(-90)">137</text>
<rect x="1662.76" y="1595.19" width="16.6" height="78.41" fill="#9dc3e2" stroke="#231f20" stroke-width="1.1"/>
<rect x="1664.66" y="1873.9" width="12.6" height="12.6" fill="#f6957c" stroke="#3a1c12" stroke-width="1.1"/>
<path d="M1662.96 1911.35 L1678.96 1911.35 L1670.96 1897.85 Z" fill="#e8262a"/>
<text text-anchor="end" transform="translate(1678.16 1925) rotate(-90)">19</text>
<rect x="1681.77" y="1605.42" width="16.6" height="68.18" fill="#9dc3e2" stroke="#231f20" stroke-width="1.1"/>
<rect x="1683.67" y="1873.9" width="12.6" height="12.6" fill="#9a3a22" stroke="#3a1c12" stroke-width="1.1"/>
<path d="M1681.97 1911.35 L1697.97 1911.35 L1689.97 1897.85 Z" fill="#e8262a"/>
<text text-anchor="end" transform="translate(1697.17 1925) rotate(-90)">119</text>
<rect x="1700.78" y="1619.06" width="16.6" height="54.54" fill="#9dc3e2" stroke="#231f20" stroke-width="1.1"/>
<rect x="1702.68" y="1873.9" width="12.6" height="12.6" fill="#f6957c" stroke="#3a1c12" stroke-width="1.1"/>
<path d="M1700.98 1911.35 L1716.98 1911.35 L1708.98 1897.85 Z" fill="#e8262a"/>
<text text-anchor="end" transform="translate(1716.18 1925) rotate(-90)">150</text>
<rect x="1719.79" y="1621.27" width="16.6" height="52.33" fill="#fdc689" stroke="#231f20" stroke-width="1.1"/>
<rect x="1721.69" y="1873.9" width="12.6" height="12.6" fill="#f6957c" stroke="#3a1c12" stroke-width="1.1"/>
<path d="M1719.99 1911.35 L1735.99 1911.35 L1727.99 1897.85 Z" fill="#e8262a"/>
<text text-anchor="end" transform="translate(1735.19 1925) rotate(-90)">160</text>
<rect x="1738.8" y="1621.61" width="16.6" height="51.99" fill="#9dc3e2" stroke="#231f20" stroke-width="1.1"/>
<rect x="1740.7" y="1873.9" width="12.6" height="12.6" fill="#9a3a22" stroke="#3a1c12" stroke-width="1.1"/>
<path d="M1739 1911.35 L1755 1911.35 L1747 1897.85 Z" fill="#e8262a"/>
<text text-anchor="end" transform="translate(1754.2 1925) rotate(-90)">129</text>
<rect x="1757.81" y="1629.62" width="16.6" height="43.98" fill="#9dc3e2" stroke="#231f20" stroke-width="1.1"/>
<rect x="1759.71" y="1873.9" width="12.6" height="12.6" fill="#f6957c" stroke="#3a1c12" stroke-width="1.1"/>
<path d="M1758.01 1911.35 L1774.01 1911.35 L1766.01 1897.85 Z" fill="#e8262a"/>
<text text-anchor="end" transform="translate(1773.21 1925) rotate(-90)">135</text>
<rect x="1776.82" y="1632.69" width="16.6" height="40.91" fill="#9dc3e2" stroke="#231f20" stroke-width="1.1"/>
<rect x="1778.72" y="1873.9" width="12.6" height="12.6" fill="#f6957c" stroke="#3a1c12" stroke-width="1.1"/>
<path d="M1777.02 1911.35 L1793.02 1911.35 L1785.02 1897.85 Z" fill="#e8262a"/>
<text text-anchor="end" transform="translate(1792.22 1925) rotate(-90)">139</text>
<rect x="1795.83" y="1660.3" width="16.6" height="13.3" fill="#9dc3e2" stroke="#231f20" stroke-width="1.1"/>
<rect x="1797.73" y="1873.9" width="12.6" height="12.6" fill="#9a3a22" stroke="#3a1c12" stroke-width="1.1"/>
<path d="M1796.03 1911.35 L1812.03 1911.35 L1804.03 1897.85 Z" fill="#e8262a"/>
<text text-anchor="end" transform="translate(1811.23 1925) rotate(-90)">122</text>
<rect x="1814.84" y="1665.08" width="16.6" height="8.52" fill="#fdc689" stroke="#231f20" stroke-width="1.1"/>
<rect x="1816.74" y="1873.9" width="12.6" height="12.6" fill="#9a3a22" stroke="#3a1c12" stroke-width="1.1"/>
<circle cx="1823.04" cy="1904.3" r="8.2" fill="#231f20"/>
<text text-anchor="end" transform="translate(1830.24 1925) rotate(-90)">124</text>
<rect x="1833.85" y="1666.44" width="16.6" height="7.16" fill="#9dc3e2" stroke="#231f20" stroke-width="1.1"/>
<rect x="1835.75" y="1873.9" width="12.6" height="12.6" fill="#f6957c" stroke="#3a1c12" stroke-width="1.1"/>
<path d="M1834.05 1911.35 L1850.05 1911.35 L1842.05 1897.85 Z" fill="#e8262a"/>
<text text-anchor="end" transform="translate(1849.25 1925) rotate(-90)">29</text>
<rect x="1852.86" y="1666.78" width="16.6" height="6.82" fill="#8fd3c3" stroke="#231f20" stroke-width="1.1"/>
<rect x="1854.76" y="1873.9" width="12.6" height="12.6" fill="#9a3a22" stroke="#3a1c12" stroke-width="1.1"/>
<circle cx="1861.06" cy="1904.3" r="8.2" fill="#231f20"/>
<text text-anchor="end" transform="translate(1868.26 1925) rotate(-90)">121</text>
<rect x="1871.87" y="1667.63" width="16.6" height="5.97" fill="#fdc689" stroke="#231f20" stroke-width="1.1"/>
<rect x="1873.77" y="1873.9" width="12.6" height="12.6" fill="#f6957c" stroke="#3a1c12" stroke-width="1.1"/>
<circle cx="1880.07" cy="1904.3" r="8.2" fill="#231f20"/>
<text text-anchor="end" transform="translate(1887.27 1925) rotate(-90)">166</text>
<line x1="1890.38" y1="1673.6" x2="1907.68" y2="1673.6" stroke="#231f20" stroke-width="1"/>
<rect x="1892.78" y="1873.9" width="12.6" height="12.6" fill="#f6957c" stroke="#3a1c12" stroke-width="1.1"/>
<circle cx="1899.08" cy="1904.3" r="8.2" fill="#231f20"/>
<text text-anchor="end" transform="translate(1906.28 1925) rotate(-90)">163</text>
<rect x="1909.89" y="1673.6" width="16.6" height="15.34" fill="#fdc689" stroke="#231f20" stroke-width="1.1"/>
<rect x="1911.79" y="1873.9" width="12.6" height="12.6" fill="#f6957c" stroke="#3a1c12" stroke-width="1.1"/>
<circle cx="1918.09" cy="1904.3" r="8.2" fill="#231f20"/>
<text text-anchor="end" transform="translate(1925.29 1925) rotate(-90)">130</text>
<rect x="1928.9" y="1673.6" width="16.6" height="31.19" fill="#9dc3e2" stroke="#231f20" stroke-width="1.1"/>
<rect x="1930.8" y="1873.9" width="12.6" height="12.6" fill="#f6957c" stroke="#3a1c12" stroke-width="1.1"/>
<path d="M1929.1 1911.35 L1945.1 1911.35 L1937.1 1897.85 Z" fill="#e8262a"/>
<text text-anchor="end" transform="translate(1944.3 1925) rotate(-90)">128</text>
<rect x="1947.91" y="1673.6" width="16.6" height="34.43" fill="#9dc3e2" stroke="#231f20" stroke-width="1.1"/>
<rect x="1949.81" y="1873.9" width="12.6" height="12.6" fill="#f6957c" stroke="#3a1c12" stroke-width="1.1"/>
<circle cx="1956.11" cy="1904.3" r="8.2" fill="#231f20"/>
<text text-anchor="end" transform="translate(1963.31 1925) rotate(-90)">141</text>
<rect x="1966.92" y="1673.6" width="16.6" height="42.1" fill="#fdc689" stroke="#231f20" stroke-width="1.1"/>
<rect x="1968.82" y="1873.9" width="12.6" height="12.6" fill="#f6957c" stroke="#3a1c12" stroke-width="1.1"/>
<circle cx="1975.12" cy="1904.3" r="8.2" fill="#231f20"/>
<text text-anchor="end" transform="translate(1982.32 1925) rotate(-90)">0</text>
<rect x="1985.93" y="1673.6" width="16.6" height="42.1" fill="#9dc3e2" stroke="#231f20" stroke-width="1.1"/>
<rect x="1987.83" y="1873.9" width="12.6" height="12.6" fill="#f6957c" stroke="#3a1c12" stroke-width="1.1"/>
<circle cx="1994.13" cy="1904.3" r="8.2" fill="#231f20"/>
<text text-anchor="end" transform="translate(2001.33 1925) rotate(-90)">146</text>
<rect x="2004.94" y="1673.6" width="16.6" height="59.15" fill="#9dc3e2" stroke="#231f20" stroke-width="1.1"/>
<rect x="2006.84" y="1873.9" width="12.6" height="12.6" fill="#f6957c" stroke="#3a1c12" stroke-width="1.1"/>
<rect x="2004.84" y="1896" width="16.6" height="16.6" fill="#f5e629"/>
<text text-anchor="end" transform="translate(2020.34 1925) rotate(-90)">145</text>
<rect x="2023.95" y="1673.6" width="16.6" height="72.95" fill="#fdc689" stroke="#231f20" stroke-width="1.1"/>
<rect x="2025.85" y="1873.9" width="12.6" height="12.6" fill="#f6957c" stroke="#3a1c12" stroke-width="1.1"/>
<rect x="2023.85" y="1896" width="16.6" height="16.6" fill="#f5e629"/>
<text text-anchor="end" transform="translate(2039.35 1925) rotate(-90)">31</text>
<rect x="2042.96" y="1673.6" width="16.6" height="82.67" fill="#fdc689" stroke="#231f20" stroke-width="1.1"/>
<rect x="2044.86" y="1873.9" width="12.6" height="12.6" fill="#f6957c" stroke="#3a1c12" stroke-width="1.1"/>
<rect x="2042.86" y="1896" width="16.6" height="16.6" fill="#f5e629"/>
<text text-anchor="end" transform="translate(2058.36 1925) rotate(-90)">38</text>
<rect x="2061.97" y="1673.6" width="16.6" height="134.66" fill="#fdc689" stroke="#231f20" stroke-width="1.1"/>
<rect x="2063.87" y="1873.9" width="12.6" height="12.6" fill="#f6957c" stroke="#3a1c12" stroke-width="1.1"/>
<rect x="2061.87" y="1896" width="16.6" height="16.6" fill="#f5e629"/>
<text text-anchor="end" transform="translate(2077.37 1925) rotate(-90)">143</text>
<rect x="2080.98" y="1673.6" width="16.6" height="147.27" fill="#8fd3c3" stroke="#231f20" stroke-width="1.1"/>
<rect x="2082.88" y="1873.9" width="12.6" height="12.6" fill="#f6957c" stroke="#3a1c12" stroke-width="1.1"/>
<rect x="2080.88" y="1896" width="16.6" height="16.6" fill="#f5e629"/>
<text text-anchor="end" transform="translate(2096.38 1925) rotate(-90)">69</text>
<rect x="2099.99" y="1673.6" width="16.6" height="170.45" fill="#fdc689" stroke="#231f20" stroke-width="1.1"/>
<rect x="2101.89" y="1873.9" width="12.6" height="12.6" fill="#9a3a22" stroke="#3a1c12" stroke-width="1.1"/>
<rect x="2099.89" y="1896" width="16.6" height="16.6" fill="#f5e629"/>
<text text-anchor="end" transform="translate(2115.39 1925) rotate(-90)">157</text>
<rect x="2119" y="1673.6" width="16.6" height="170.45" fill="#8fd3c3" stroke="#231f20" stroke-width="1.1"/>
<rect x="2120.9" y="1873.9" width="12.6" height="12.6" fill="#f6957c" stroke="#3a1c12" stroke-width="1.1"/>
<path d="M2119.4 1904.3 L2127.2 1896.5 L2135 1904.3 L2127.2 1912.1 Z" fill="#16833f"/>
<text text-anchor="end" transform="translate(2134.4 1925) rotate(-90)">152</text>
<path d="M1527.5 1485.7 L1527.5 1860.7 L2161 1860.7" fill="none" stroke="#231f20" stroke-width="1.4"/>
<line x1="1519.6" y1="1503.15" x2="1527.5" y2="1503.15" stroke="#231f20" stroke-width="1.3"/>
<text x="1510" y="1510.35" text-anchor="end">100</text>
<line x1="1519.6" y1="1588.38" x2="1527.5" y2="1588.38" stroke="#231f20" stroke-width="1.3"/>
<text x="1510" y="1595.58" text-anchor="end">50</text>
<line x1="1519.6" y1="1673.6" x2="1527.5" y2="1673.6" stroke="#231f20" stroke-width="1.3"/>
<text x="1510" y="1680.8" text-anchor="end">0</text>
<line x1="1519.6" y1="1758.82" x2="1527.5" y2="1758.82" stroke="#231f20" stroke-width="1.3"/>
<text x="1510" y="1766.02" text-anchor="end">−50</text>
<line x1="1519.6" y1="1844.05" x2="1527.5" y2="1844.05" stroke="#231f20" stroke-width="1.3"/>
<text x="1510" y="1851.25" text-anchor="end">−100</text>
<text x="1536.6" y="1887.3" text-anchor="end" textLength="114.5" lengthAdjust="spacingAndGlyphs"><tspan font-style="italic">ARID1A</tspan> mut</text>
<text x="1536.6" y="1912.7" text-anchor="end" textLength="202" lengthAdjust="spacingAndGlyphs">Best overall response</text>
<text x="1536.6" y="1945" text-anchor="end" textLength="91" lengthAdjust="spacingAndGlyphs">Patient ID</text>
<text x="1894.5" y="1442.1" textLength="124" lengthAdjust="spacingAndGlyphs">Patient group</text>
<rect x="1894.4" y="1455.3" width="17" height="17" fill="#7db1da" stroke="#1d2733" stroke-width="1.2"/>
<text x="1919.2" y="1470.6" textLength="216" lengthAdjust="spacingAndGlyphs"><tspan font-style="italic">PPP2R1A</tspan> and <tspan font-style="italic">AKT</tspan> WT</text>
<rect x="1894.4" y="1482.2" width="17" height="17" fill="#fdb965" stroke="#1d2733" stroke-width="1.2"/>
<text x="1919.2" y="1497.1" textLength="133" lengthAdjust="spacingAndGlyphs"><tspan font-style="italic">PPP2R1A</tspan> mut</text>
<rect x="1894.4" y="1509" width="17" height="17" fill="#80cfc0" stroke="#1d2733" stroke-width="1.2"/>
<text x="1919.2" y="1523.7" textLength="81" lengthAdjust="spacingAndGlyphs"><tspan font-style="italic">AKT</tspan> mut</text>
<text x="1898.3" y="1559.8" textLength="114.5" lengthAdjust="spacingAndGlyphs"><tspan font-style="italic">ARID1A</tspan> mut</text>
<rect x="1898.2" y="1570.3" width="17" height="17" fill="#f6957c" stroke="#1d2733" stroke-width="1.2"/>
<text x="1924.5" y="1585.6">Yes</text>
<rect x="1975.6" y="1570.3" width="17" height="17" fill="#9a3a22" stroke="#1d2733" stroke-width="1.2"/>
<text x="2001.5" y="1585.6">No</text>
<text x="1898.3" y="1620.5" textLength="157" lengthAdjust="spacingAndGlyphs">Overall response</text>
<path d="M1898.3 1648.15 L1915.3 1648.15 L1906.8 1633.65 Z" fill="#e8262a"/>
<text x="1922.6" y="1647.8">PD</text>
<circle cx="1976" cy="1640.8" r="8.6" fill="#231f20"/>
<text x="1993.2" y="1647.8">SD</text>
<rect x="2036.8" y="1632.6" width="16.8" height="16.8" fill="#f5e629"/>
<text x="2061.5" y="1647.8">PR</text>
<path d="M2104.5 1640.6 L2112.7 1632.4 L2120.9 1640.6 L2112.7 1648.8 Z" fill="#16833f"/>
<text x="2128.7" y="1647.8">CR</text>
</g>
</svg>
</body></html>
